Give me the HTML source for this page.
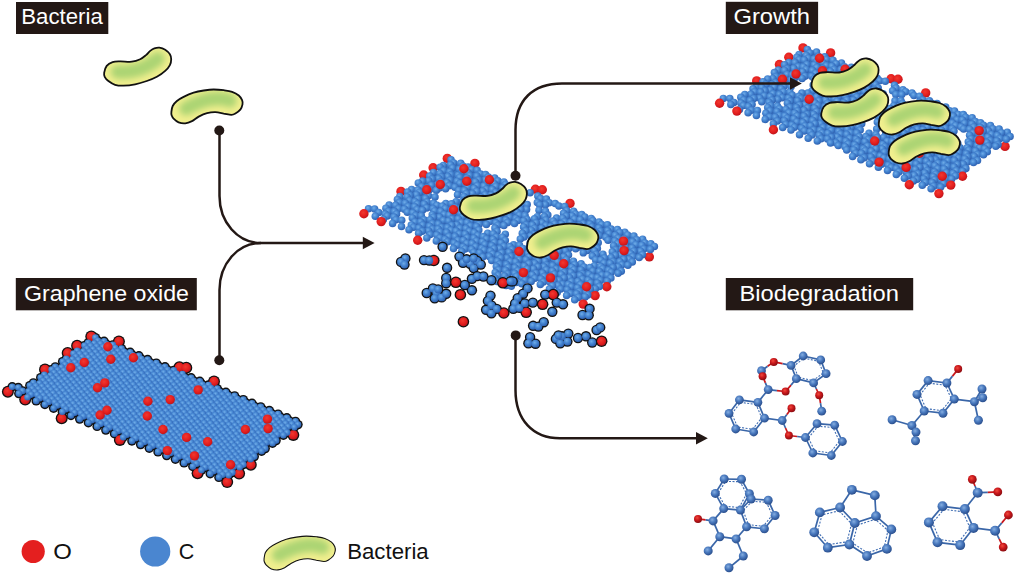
<!DOCTYPE html>
<html><head><meta charset="utf-8"><title>Graphene oxide biodegradation</title>
<style>html,body{margin:0;padding:0;background:#fff}svg{display:block}</style></head>
<body>
<svg width="1017" height="575" viewBox="0 0 1017 575" font-family="'Liberation Sans', sans-serif">

<defs>
<radialGradient id="gb" cx="0.40" cy="0.36" r="0.62">
<stop offset="0" stop-color="#70ade8"/><stop offset="0.5" stop-color="#4686d2"/><stop offset="1" stop-color="#3064b4"/>
</radialGradient>
<radialGradient id="gr" cx="0.42" cy="0.38" r="0.62">
<stop offset="0" stop-color="#f0392f"/><stop offset="0.6" stop-color="#e41f1f"/><stop offset="1" stop-color="#c0151a"/>
</radialGradient>
<radialGradient id="gm" cx="0.40" cy="0.36" r="0.62">
<stop offset="0" stop-color="#86aee0"/><stop offset="0.5" stop-color="#4a7abf"/><stop offset="1" stop-color="#2c5190"/>
</radialGradient>
<radialGradient id="gy" cx="0.5" cy="0.38" r="0.62" fx="0.5" fy="0.3">
<stop offset="0" stop-color="#a9d36d"/><stop offset="0.45" stop-color="#c6df78"/><stop offset="1" stop-color="#f2ee8c"/>
</radialGradient>
<radialGradient id="gr2" cx="0.40" cy="0.36" r="0.62">
<stop offset="0" stop-color="#f04a3c"/><stop offset="0.5" stop-color="#cb181c"/><stop offset="1" stop-color="#8e0e12"/>
</radialGradient>
</defs>

<rect width="1017" height="575" fill="#fff"/>
<rect x="16" y="2" width="92.3" height="32" fill="#231815"/>
<text x="21.3" y="24.3" font-size="21.5" fill="#fff" textLength="81.5" lengthAdjust="spacingAndGlyphs">Bacteria</text>
<rect x="15.8" y="278" width="181" height="32.3" fill="#231815"/>
<text x="24" y="300.5" font-size="21.5" fill="#fff" textLength="165" lengthAdjust="spacingAndGlyphs">Graphene oxide</text>
<rect x="725.8" y="1.8" width="92.3" height="32.2" fill="#231815"/>
<text x="733.5" y="24.3" font-size="21.5" fill="#fff" textLength="76.5" lengthAdjust="spacingAndGlyphs">Growth</text>
<rect x="725.8" y="278" width="187.4" height="32.3" fill="#231815"/>
<text x="739.4" y="300.5" font-size="21.5" fill="#fff" textLength="159.6" lengthAdjust="spacingAndGlyphs">Biodegradation</text>
<g><circle cx="95.4" cy="337.6" r="4.7" fill="#111"/><circle cx="97.9" cy="340.8" r="4.7" fill="#111"/><circle cx="104.1" cy="341.2" r="4.7" fill="#111"/><circle cx="88.1" cy="342.9" r="4.7" fill="#111"/><circle cx="94.3" cy="343.4" r="4.7" fill="#111"/><circle cx="106.6" cy="344.4" r="4.7" fill="#111"/><circle cx="112.8" cy="344.9" r="4.7" fill="#111"/><circle cx="84.5" cy="345.6" r="4.7" fill="#111"/><circle cx="96.8" cy="346.6" r="4.7" fill="#111"/><circle cx="103" cy="347.1" r="4.7" fill="#111"/><circle cx="115.3" cy="348" r="4.7" fill="#111"/><circle cx="121.5" cy="348.5" r="4.7" fill="#111"/><circle cx="87" cy="348.8" r="4.7" fill="#111"/><circle cx="93.2" cy="349.2" r="4.7" fill="#111"/><circle cx="105.5" cy="350.2" r="4.7" fill="#111"/><circle cx="111.7" cy="350.7" r="4.7" fill="#111"/><circle cx="77.2" cy="350.9" r="4.7" fill="#111"/><circle cx="83.3" cy="351.4" r="4.7" fill="#111"/><circle cx="124" cy="351.7" r="4.7" fill="#111"/><circle cx="130.2" cy="352.2" r="4.7" fill="#111"/><circle cx="95.7" cy="352.4" r="4.7" fill="#111"/><circle cx="101.9" cy="352.9" r="4.7" fill="#111"/><circle cx="73.5" cy="353.6" r="4.7" fill="#111"/><circle cx="114.2" cy="353.9" r="4.7" fill="#111"/><circle cx="120.4" cy="354.4" r="4.7" fill="#111"/><circle cx="85.9" cy="354.6" r="4.7" fill="#111"/><circle cx="92" cy="355.1" r="4.7" fill="#111"/><circle cx="132.7" cy="355.3" r="4.7" fill="#111"/><circle cx="138.9" cy="355.8" r="4.7" fill="#111"/><circle cx="104.4" cy="356" r="4.7" fill="#111"/><circle cx="110.6" cy="356.5" r="4.7" fill="#111"/><circle cx="76" cy="356.8" r="4.7" fill="#111"/><circle cx="82.2" cy="357.2" r="4.7" fill="#111"/><circle cx="122.9" cy="357.5" r="4.7" fill="#111"/><circle cx="129.1" cy="358" r="4.7" fill="#111"/><circle cx="94.6" cy="358.2" r="4.7" fill="#111"/><circle cx="100.7" cy="358.7" r="4.7" fill="#111"/><circle cx="66.2" cy="358.9" r="4.7" fill="#111"/><circle cx="141.4" cy="359" r="4.7" fill="#111"/><circle cx="72.4" cy="359.4" r="4.7" fill="#111"/><circle cx="147.6" cy="359.5" r="4.7" fill="#111"/><circle cx="113.1" cy="359.7" r="4.7" fill="#111"/><circle cx="119.3" cy="360.2" r="4.7" fill="#111"/><circle cx="84.7" cy="360.4" r="4.7" fill="#111"/><circle cx="90.9" cy="360.9" r="4.7" fill="#111"/><circle cx="131.6" cy="361.2" r="4.7" fill="#111"/><circle cx="62.6" cy="361.6" r="4.7" fill="#111"/><circle cx="137.8" cy="361.6" r="4.7" fill="#111"/><circle cx="103.3" cy="361.9" r="4.7" fill="#111"/><circle cx="109.4" cy="362.4" r="4.7" fill="#111"/><circle cx="74.9" cy="362.6" r="4.7" fill="#111"/><circle cx="150.1" cy="362.6" r="4.7" fill="#111"/><circle cx="81.1" cy="363.1" r="4.7" fill="#111"/><circle cx="156.3" cy="363.1" r="4.7" fill="#111"/><circle cx="121.8" cy="363.3" r="4.7" fill="#111"/><circle cx="128" cy="363.8" r="4.7" fill="#111"/><circle cx="93.4" cy="364" r="4.7" fill="#111"/><circle cx="99.6" cy="364.5" r="4.7" fill="#111"/><circle cx="65.1" cy="364.8" r="4.7" fill="#111"/><circle cx="140.3" cy="364.8" r="4.7" fill="#111"/><circle cx="71.3" cy="365.2" r="4.7" fill="#111"/><circle cx="146.5" cy="365.3" r="4.7" fill="#111"/><circle cx="112" cy="365.5" r="4.7" fill="#111"/><circle cx="118.1" cy="366" r="4.7" fill="#111"/><circle cx="83.6" cy="366.2" r="4.7" fill="#111"/><circle cx="158.8" cy="366.3" r="4.7" fill="#111"/><circle cx="89.8" cy="366.7" r="4.7" fill="#111"/><circle cx="165" cy="366.8" r="4.7" fill="#111"/><circle cx="55.3" cy="366.9" r="4.7" fill="#111"/><circle cx="130.5" cy="367" r="4.7" fill="#111"/><circle cx="61.5" cy="367.4" r="4.7" fill="#111"/><circle cx="136.7" cy="367.5" r="4.7" fill="#111"/><circle cx="102.1" cy="367.7" r="4.7" fill="#111"/><circle cx="108.3" cy="368.2" r="4.7" fill="#111"/><circle cx="73.8" cy="368.4" r="4.7" fill="#111"/><circle cx="149" cy="368.4" r="4.7" fill="#111"/><circle cx="80" cy="368.9" r="4.7" fill="#111"/><circle cx="155.2" cy="368.9" r="4.7" fill="#111"/><circle cx="120.7" cy="369.2" r="4.7" fill="#111"/><circle cx="51.6" cy="369.6" r="4.7" fill="#111"/><circle cx="126.8" cy="369.6" r="4.7" fill="#111"/><circle cx="92.3" cy="369.9" r="4.7" fill="#111"/><circle cx="167.5" cy="369.9" r="4.7" fill="#111"/><circle cx="98.5" cy="370.4" r="4.7" fill="#111"/><circle cx="173.7" cy="370.4" r="4.7" fill="#111"/><circle cx="64" cy="370.6" r="4.7" fill="#111"/><circle cx="139.2" cy="370.6" r="4.7" fill="#111"/><circle cx="70.2" cy="371.1" r="4.7" fill="#111"/><circle cx="145.4" cy="371.1" r="4.7" fill="#111"/><circle cx="110.8" cy="371.3" r="4.7" fill="#111"/><circle cx="117" cy="371.8" r="4.7" fill="#111"/><circle cx="82.5" cy="372" r="4.7" fill="#111"/><circle cx="157.7" cy="372.1" r="4.7" fill="#111"/><circle cx="88.7" cy="372.5" r="4.7" fill="#111"/><circle cx="163.9" cy="372.6" r="4.7" fill="#111"/><circle cx="54.2" cy="372.8" r="4.7" fill="#111"/><circle cx="129.4" cy="372.8" r="4.7" fill="#111"/><circle cx="60.3" cy="373.2" r="4.7" fill="#111"/><circle cx="135.5" cy="373.3" r="4.7" fill="#111"/><circle cx="101" cy="373.5" r="4.7" fill="#111"/><circle cx="176.2" cy="373.6" r="4.7" fill="#111"/><circle cx="107.2" cy="374" r="4.7" fill="#111"/><circle cx="182.4" cy="374.1" r="4.7" fill="#111"/><circle cx="72.7" cy="374.2" r="4.7" fill="#111"/><circle cx="147.9" cy="374.3" r="4.7" fill="#111"/><circle cx="78.9" cy="374.7" r="4.7" fill="#111"/><circle cx="154.1" cy="374.8" r="4.7" fill="#111"/><circle cx="44.3" cy="374.9" r="4.7" fill="#111"/><circle cx="119.5" cy="375" r="4.7" fill="#111"/><circle cx="50.5" cy="375.4" r="4.7" fill="#111"/><circle cx="125.7" cy="375.5" r="4.7" fill="#111"/><circle cx="91.2" cy="375.7" r="4.7" fill="#111"/><circle cx="166.4" cy="375.7" r="4.7" fill="#111"/><circle cx="97.4" cy="376.2" r="4.7" fill="#111"/><circle cx="172.6" cy="376.2" r="4.7" fill="#111"/><circle cx="62.9" cy="376.4" r="4.7" fill="#111"/><circle cx="138.1" cy="376.4" r="4.7" fill="#111"/><circle cx="69" cy="376.9" r="4.7" fill="#111"/><circle cx="144.2" cy="376.9" r="4.7" fill="#111"/><circle cx="109.7" cy="377.2" r="4.7" fill="#111"/><circle cx="184.9" cy="377.2" r="4.7" fill="#111"/><circle cx="40.7" cy="377.6" r="4.7" fill="#111"/><circle cx="115.9" cy="377.6" r="4.7" fill="#111"/><circle cx="191.1" cy="377.7" r="4.7" fill="#111"/><circle cx="81.4" cy="377.9" r="4.7" fill="#111"/><circle cx="156.6" cy="377.9" r="4.7" fill="#111"/><circle cx="87.6" cy="378.4" r="4.7" fill="#111"/><circle cx="162.8" cy="378.4" r="4.7" fill="#111"/><circle cx="53" cy="378.6" r="4.7" fill="#111"/><circle cx="128.2" cy="378.6" r="4.7" fill="#111"/><circle cx="59.2" cy="379.1" r="4.7" fill="#111"/><circle cx="134.4" cy="379.1" r="4.7" fill="#111"/><circle cx="99.9" cy="379.3" r="4.7" fill="#111"/><circle cx="175.1" cy="379.4" r="4.7" fill="#111"/><circle cx="106.1" cy="379.8" r="4.7" fill="#111"/><circle cx="181.3" cy="379.9" r="4.7" fill="#111"/><circle cx="71.6" cy="380" r="4.7" fill="#111"/><circle cx="146.8" cy="380.1" r="4.7" fill="#111"/><circle cx="77.7" cy="380.5" r="4.7" fill="#111"/><circle cx="152.9" cy="380.6" r="4.7" fill="#111"/><circle cx="43.2" cy="380.8" r="4.7" fill="#111"/><circle cx="118.4" cy="380.8" r="4.7" fill="#111"/><circle cx="193.6" cy="380.9" r="4.7" fill="#111"/><circle cx="49.4" cy="381.2" r="4.7" fill="#111"/><circle cx="124.6" cy="381.3" r="4.7" fill="#111"/><circle cx="199.8" cy="381.3" r="4.7" fill="#111"/><circle cx="90.1" cy="381.5" r="4.7" fill="#111"/><circle cx="165.3" cy="381.6" r="4.7" fill="#111"/><circle cx="96.3" cy="382" r="4.7" fill="#111"/><circle cx="171.5" cy="382.1" r="4.7" fill="#111"/><circle cx="61.7" cy="382.2" r="4.7" fill="#111"/><circle cx="136.9" cy="382.3" r="4.7" fill="#111"/><circle cx="67.9" cy="382.7" r="4.7" fill="#111"/><circle cx="143.1" cy="382.8" r="4.7" fill="#111"/><circle cx="33.4" cy="382.9" r="4.7" fill="#111"/><circle cx="108.6" cy="383" r="4.7" fill="#111"/><circle cx="183.8" cy="383" r="4.7" fill="#111"/><circle cx="39.6" cy="383.4" r="4.7" fill="#111"/><circle cx="114.8" cy="383.5" r="4.7" fill="#111"/><circle cx="190" cy="383.5" r="4.7" fill="#111"/><circle cx="80.3" cy="383.7" r="4.7" fill="#111"/><circle cx="155.5" cy="383.7" r="4.7" fill="#111"/><circle cx="86.4" cy="384.2" r="4.7" fill="#111"/><circle cx="161.6" cy="384.2" r="4.7" fill="#111"/><circle cx="51.9" cy="384.4" r="4.7" fill="#111"/><circle cx="127.1" cy="384.4" r="4.7" fill="#111"/><circle cx="202.3" cy="384.5" r="4.7" fill="#111"/><circle cx="58.1" cy="384.9" r="4.7" fill="#111"/><circle cx="133.3" cy="384.9" r="4.7" fill="#111"/><circle cx="208.5" cy="385" r="4.7" fill="#111"/><circle cx="98.8" cy="385.2" r="4.7" fill="#111"/><circle cx="174" cy="385.2" r="4.7" fill="#111"/><circle cx="29.8" cy="385.6" r="4.7" fill="#111"/><circle cx="105" cy="385.6" r="4.7" fill="#111"/><circle cx="180.2" cy="385.7" r="4.7" fill="#111"/><circle cx="70.4" cy="385.9" r="4.7" fill="#111"/><circle cx="145.6" cy="385.9" r="4.7" fill="#111"/><circle cx="76.6" cy="386.4" r="4.7" fill="#111"/><circle cx="151.8" cy="386.4" r="4.7" fill="#111"/><circle cx="42.1" cy="386.6" r="4.7" fill="#111"/><circle cx="117.3" cy="386.6" r="4.7" fill="#111"/><circle cx="192.5" cy="386.7" r="4.7" fill="#111"/><circle cx="12.2" cy="386.8" r="4.7" fill="#111"/><circle cx="48.3" cy="387.1" r="4.7" fill="#111"/><circle cx="123.5" cy="387.1" r="4.7" fill="#111"/><circle cx="198.7" cy="387.2" r="4.7" fill="#111"/><circle cx="89" cy="387.3" r="4.7" fill="#111"/><circle cx="164.2" cy="387.4" r="4.7" fill="#111"/><circle cx="18.3" cy="387.5" r="4.7" fill="#111"/><circle cx="95.1" cy="387.8" r="4.7" fill="#111"/><circle cx="170.3" cy="387.9" r="4.7" fill="#111"/><circle cx="60.6" cy="388" r="4.7" fill="#111"/><circle cx="135.8" cy="388.1" r="4.7" fill="#111"/><circle cx="211" cy="388.1" r="4.7" fill="#111"/><circle cx="66.8" cy="388.5" r="4.7" fill="#111"/><circle cx="142" cy="388.6" r="4.7" fill="#111"/><circle cx="217.2" cy="388.6" r="4.7" fill="#111"/><circle cx="32.3" cy="388.8" r="4.7" fill="#111"/><circle cx="107.5" cy="388.8" r="4.7" fill="#111"/><circle cx="182.7" cy="388.9" r="4.7" fill="#111"/><circle cx="38.5" cy="389.2" r="4.7" fill="#111"/><circle cx="113.7" cy="389.3" r="4.7" fill="#111"/><circle cx="188.9" cy="389.3" r="4.7" fill="#111"/><circle cx="79.1" cy="389.5" r="4.7" fill="#111"/><circle cx="154.3" cy="389.6" r="4.7" fill="#111"/><circle cx="85.3" cy="390" r="4.7" fill="#111"/><circle cx="160.5" cy="390.1" r="4.7" fill="#111"/><circle cx="50.8" cy="390.2" r="4.7" fill="#111"/><circle cx="126" cy="390.3" r="4.7" fill="#111"/><circle cx="201.2" cy="390.3" r="4.7" fill="#111"/><circle cx="57" cy="390.7" r="4.7" fill="#111"/><circle cx="132.2" cy="390.8" r="4.7" fill="#111"/><circle cx="207.4" cy="390.8" r="4.7" fill="#111"/><circle cx="22.5" cy="390.9" r="4.7" fill="#111"/><circle cx="97.7" cy="391" r="4.7" fill="#111"/><circle cx="172.9" cy="391" r="4.7" fill="#111"/><circle cx="28.6" cy="391.4" r="4.7" fill="#111"/><circle cx="103.8" cy="391.5" r="4.7" fill="#111"/><circle cx="179" cy="391.5" r="4.7" fill="#111"/><circle cx="69.3" cy="391.7" r="4.7" fill="#111"/><circle cx="144.5" cy="391.7" r="4.7" fill="#111"/><circle cx="219.7" cy="391.8" r="4.7" fill="#111"/><circle cx="75.5" cy="392.2" r="4.7" fill="#111"/><circle cx="150.7" cy="392.2" r="4.7" fill="#111"/><circle cx="225.9" cy="392.3" r="4.7" fill="#111"/><circle cx="41" cy="392.4" r="4.7" fill="#111"/><circle cx="116.2" cy="392.4" r="4.7" fill="#111"/><circle cx="191.4" cy="392.5" r="4.7" fill="#111"/><circle cx="47.2" cy="392.9" r="4.7" fill="#111"/><circle cx="122.4" cy="392.9" r="4.7" fill="#111"/><circle cx="197.6" cy="393" r="4.7" fill="#111"/><circle cx="87.8" cy="393.2" r="4.7" fill="#111"/><circle cx="163" cy="393.2" r="4.7" fill="#111"/><circle cx="18.8" cy="393.6" r="4.7" fill="#111"/><circle cx="94" cy="393.6" r="4.7" fill="#111"/><circle cx="169.2" cy="393.7" r="4.7" fill="#111"/><circle cx="59.5" cy="393.9" r="4.7" fill="#111"/><circle cx="134.7" cy="393.9" r="4.7" fill="#111"/><circle cx="209.9" cy="394" r="4.7" fill="#111"/><circle cx="65.7" cy="394.4" r="4.7" fill="#111"/><circle cx="140.9" cy="394.4" r="4.7" fill="#111"/><circle cx="216.1" cy="394.5" r="4.7" fill="#111"/><circle cx="31.2" cy="394.6" r="4.7" fill="#111"/><circle cx="106.4" cy="394.6" r="4.7" fill="#111"/><circle cx="181.6" cy="394.7" r="4.7" fill="#111"/><circle cx="37.3" cy="395.1" r="4.7" fill="#111"/><circle cx="112.5" cy="395.1" r="4.7" fill="#111"/><circle cx="187.7" cy="395.2" r="4.7" fill="#111"/><circle cx="78" cy="395.3" r="4.7" fill="#111"/><circle cx="153.2" cy="395.4" r="4.7" fill="#111"/><circle cx="228.4" cy="395.4" r="4.7" fill="#111"/><circle cx="84.2" cy="395.8" r="4.7" fill="#111"/><circle cx="159.4" cy="395.9" r="4.7" fill="#111"/><circle cx="234.6" cy="395.9" r="4.7" fill="#111"/><circle cx="49.7" cy="396" r="4.7" fill="#111"/><circle cx="124.9" cy="396.1" r="4.7" fill="#111"/><circle cx="200.1" cy="396.1" r="4.7" fill="#111"/><circle cx="55.9" cy="396.5" r="4.7" fill="#111"/><circle cx="131.1" cy="396.6" r="4.7" fill="#111"/><circle cx="206.3" cy="396.6" r="4.7" fill="#111"/><circle cx="96.5" cy="396.8" r="4.7" fill="#111"/><circle cx="171.7" cy="396.9" r="4.7" fill="#111"/><circle cx="27.5" cy="397.2" r="4.7" fill="#111"/><circle cx="102.7" cy="397.3" r="4.7" fill="#111"/><circle cx="177.9" cy="397.3" r="4.7" fill="#111"/><circle cx="68.2" cy="397.5" r="4.7" fill="#111"/><circle cx="143.4" cy="397.6" r="4.7" fill="#111"/><circle cx="218.6" cy="397.6" r="4.7" fill="#111"/><circle cx="74.4" cy="398" r="4.7" fill="#111"/><circle cx="149.6" cy="398.1" r="4.7" fill="#111"/><circle cx="224.8" cy="398.1" r="4.7" fill="#111"/><circle cx="39.9" cy="398.2" r="4.7" fill="#111"/><circle cx="115.1" cy="398.3" r="4.7" fill="#111"/><circle cx="190.3" cy="398.3" r="4.7" fill="#111"/><circle cx="46" cy="398.7" r="4.7" fill="#111"/><circle cx="121.2" cy="398.8" r="4.7" fill="#111"/><circle cx="196.4" cy="398.8" r="4.7" fill="#111"/><circle cx="86.7" cy="399" r="4.7" fill="#111"/><circle cx="161.9" cy="399" r="4.7" fill="#111"/><circle cx="237.1" cy="399.1" r="4.7" fill="#111"/><circle cx="92.9" cy="399.5" r="4.7" fill="#111"/><circle cx="168.1" cy="399.5" r="4.7" fill="#111"/><circle cx="243.3" cy="399.6" r="4.7" fill="#111"/><circle cx="58.4" cy="399.7" r="4.7" fill="#111"/><circle cx="133.6" cy="399.7" r="4.7" fill="#111"/><circle cx="208.8" cy="399.8" r="4.7" fill="#111"/><circle cx="64.6" cy="400.2" r="4.7" fill="#111"/><circle cx="139.8" cy="400.2" r="4.7" fill="#111"/><circle cx="215" cy="400.3" r="4.7" fill="#111"/><circle cx="105.2" cy="400.4" r="4.7" fill="#111"/><circle cx="180.4" cy="400.5" r="4.7" fill="#111"/><circle cx="36.2" cy="400.9" r="4.7" fill="#111"/><circle cx="111.4" cy="400.9" r="4.7" fill="#111"/><circle cx="186.6" cy="401" r="4.7" fill="#111"/><circle cx="76.9" cy="401.2" r="4.7" fill="#111"/><circle cx="152.1" cy="401.2" r="4.7" fill="#111"/><circle cx="227.3" cy="401.3" r="4.7" fill="#111"/><circle cx="83.1" cy="401.6" r="4.7" fill="#111"/><circle cx="158.3" cy="401.7" r="4.7" fill="#111"/><circle cx="233.5" cy="401.7" r="4.7" fill="#111"/><circle cx="48.6" cy="401.9" r="4.7" fill="#111"/><circle cx="123.8" cy="401.9" r="4.7" fill="#111"/><circle cx="199" cy="402" r="4.7" fill="#111"/><circle cx="54.7" cy="402.4" r="4.7" fill="#111"/><circle cx="129.9" cy="402.4" r="4.7" fill="#111"/><circle cx="205.1" cy="402.5" r="4.7" fill="#111"/><circle cx="95.4" cy="402.6" r="4.7" fill="#111"/><circle cx="170.6" cy="402.7" r="4.7" fill="#111"/><circle cx="245.8" cy="402.7" r="4.7" fill="#111"/><circle cx="101.6" cy="403.1" r="4.7" fill="#111"/><circle cx="176.8" cy="403.2" r="4.7" fill="#111"/><circle cx="252" cy="403.2" r="4.7" fill="#111"/><circle cx="67.1" cy="403.3" r="4.7" fill="#111"/><circle cx="142.3" cy="403.4" r="4.7" fill="#111"/><circle cx="217.5" cy="403.4" r="4.7" fill="#111"/><circle cx="73.3" cy="403.8" r="4.7" fill="#111"/><circle cx="148.5" cy="403.9" r="4.7" fill="#111"/><circle cx="223.7" cy="403.9" r="4.7" fill="#111"/><circle cx="113.9" cy="404.1" r="4.7" fill="#111"/><circle cx="189.1" cy="404.1" r="4.7" fill="#111"/><circle cx="44.9" cy="404.5" r="4.7" fill="#111"/><circle cx="120.1" cy="404.6" r="4.7" fill="#111"/><circle cx="195.3" cy="404.6" r="4.7" fill="#111"/><circle cx="85.6" cy="404.8" r="4.7" fill="#111"/><circle cx="160.8" cy="404.9" r="4.7" fill="#111"/><circle cx="236" cy="404.9" r="4.7" fill="#111"/><circle cx="91.8" cy="405.3" r="4.7" fill="#111"/><circle cx="167" cy="405.3" r="4.7" fill="#111"/><circle cx="242.2" cy="405.4" r="4.7" fill="#111"/><circle cx="57.3" cy="405.5" r="4.7" fill="#111"/><circle cx="132.5" cy="405.6" r="4.7" fill="#111"/><circle cx="207.7" cy="405.6" r="4.7" fill="#111"/><circle cx="63.4" cy="406" r="4.7" fill="#111"/><circle cx="138.6" cy="406.1" r="4.7" fill="#111"/><circle cx="213.8" cy="406.1" r="4.7" fill="#111"/><circle cx="104.1" cy="406.3" r="4.7" fill="#111"/><circle cx="179.3" cy="406.3" r="4.7" fill="#111"/><circle cx="254.5" cy="406.4" r="4.7" fill="#111"/><circle cx="110.3" cy="406.8" r="4.7" fill="#111"/><circle cx="185.5" cy="406.8" r="4.7" fill="#111"/><circle cx="260.7" cy="406.9" r="4.7" fill="#111"/><circle cx="75.8" cy="407" r="4.7" fill="#111"/><circle cx="151" cy="407" r="4.7" fill="#111"/><circle cx="226.2" cy="407.1" r="4.7" fill="#111"/><circle cx="82" cy="407.5" r="4.7" fill="#111"/><circle cx="157.2" cy="407.5" r="4.7" fill="#111"/><circle cx="232.4" cy="407.6" r="4.7" fill="#111"/><circle cx="122.6" cy="407.7" r="4.7" fill="#111"/><circle cx="197.8" cy="407.8" r="4.7" fill="#111"/><circle cx="53.6" cy="408.2" r="4.7" fill="#111"/><circle cx="128.8" cy="408.2" r="4.7" fill="#111"/><circle cx="204" cy="408.3" r="4.7" fill="#111"/><circle cx="94.3" cy="408.4" r="4.7" fill="#111"/><circle cx="169.5" cy="408.5" r="4.7" fill="#111"/><circle cx="244.7" cy="408.5" r="4.7" fill="#111"/><circle cx="100.5" cy="408.9" r="4.7" fill="#111"/><circle cx="175.7" cy="409" r="4.7" fill="#111"/><circle cx="250.9" cy="409" r="4.7" fill="#111"/><circle cx="66" cy="409.2" r="4.7" fill="#111"/><circle cx="141.2" cy="409.2" r="4.7" fill="#111"/><circle cx="216.4" cy="409.3" r="4.7" fill="#111"/><circle cx="72.1" cy="409.6" r="4.7" fill="#111"/><circle cx="147.3" cy="409.7" r="4.7" fill="#111"/><circle cx="222.5" cy="409.7" r="4.7" fill="#111"/><circle cx="112.8" cy="409.9" r="4.7" fill="#111"/><circle cx="188" cy="410" r="4.7" fill="#111"/><circle cx="263.2" cy="410" r="4.7" fill="#111"/><circle cx="119" cy="410.4" r="4.7" fill="#111"/><circle cx="194.2" cy="410.5" r="4.7" fill="#111"/><circle cx="269.4" cy="410.5" r="4.7" fill="#111"/><circle cx="84.5" cy="410.6" r="4.7" fill="#111"/><circle cx="159.7" cy="410.7" r="4.7" fill="#111"/><circle cx="234.9" cy="410.7" r="4.7" fill="#111"/><circle cx="90.7" cy="411.1" r="4.7" fill="#111"/><circle cx="165.9" cy="411.2" r="4.7" fill="#111"/><circle cx="241.1" cy="411.2" r="4.7" fill="#111"/><circle cx="131.3" cy="411.4" r="4.7" fill="#111"/><circle cx="206.5" cy="411.4" r="4.7" fill="#111"/><circle cx="62.3" cy="411.8" r="4.7" fill="#111"/><circle cx="137.5" cy="411.9" r="4.7" fill="#111"/><circle cx="212.7" cy="411.9" r="4.7" fill="#111"/><circle cx="103" cy="412.1" r="4.7" fill="#111"/><circle cx="178.2" cy="412.1" r="4.7" fill="#111"/><circle cx="253.4" cy="412.2" r="4.7" fill="#111"/><circle cx="109.2" cy="412.6" r="4.7" fill="#111"/><circle cx="184.4" cy="412.6" r="4.7" fill="#111"/><circle cx="259.6" cy="412.7" r="4.7" fill="#111"/><circle cx="74.7" cy="412.8" r="4.7" fill="#111"/><circle cx="149.9" cy="412.9" r="4.7" fill="#111"/><circle cx="225.1" cy="412.9" r="4.7" fill="#111"/><circle cx="80.8" cy="413.3" r="4.7" fill="#111"/><circle cx="156" cy="413.3" r="4.7" fill="#111"/><circle cx="231.2" cy="413.4" r="4.7" fill="#111"/><circle cx="121.5" cy="413.6" r="4.7" fill="#111"/><circle cx="196.7" cy="413.6" r="4.7" fill="#111"/><circle cx="271.9" cy="413.7" r="4.7" fill="#111"/><circle cx="127.7" cy="414.1" r="4.7" fill="#111"/><circle cx="202.9" cy="414.1" r="4.7" fill="#111"/><circle cx="278.1" cy="414.1" r="4.7" fill="#111"/><circle cx="93.2" cy="414.3" r="4.7" fill="#111"/><circle cx="168.4" cy="414.3" r="4.7" fill="#111"/><circle cx="243.6" cy="414.4" r="4.7" fill="#111"/><circle cx="99.4" cy="414.8" r="4.7" fill="#111"/><circle cx="174.6" cy="414.8" r="4.7" fill="#111"/><circle cx="249.8" cy="414.9" r="4.7" fill="#111"/><circle cx="140" cy="415" r="4.7" fill="#111"/><circle cx="215.2" cy="415.1" r="4.7" fill="#111"/><circle cx="71" cy="415.5" r="4.7" fill="#111"/><circle cx="146.2" cy="415.5" r="4.7" fill="#111"/><circle cx="221.4" cy="415.6" r="4.7" fill="#111"/><circle cx="111.7" cy="415.7" r="4.7" fill="#111"/><circle cx="186.9" cy="415.8" r="4.7" fill="#111"/><circle cx="262.1" cy="415.8" r="4.7" fill="#111"/><circle cx="117.9" cy="416.2" r="4.7" fill="#111"/><circle cx="193.1" cy="416.3" r="4.7" fill="#111"/><circle cx="268.3" cy="416.3" r="4.7" fill="#111"/><circle cx="83.4" cy="416.4" r="4.7" fill="#111"/><circle cx="158.6" cy="416.5" r="4.7" fill="#111"/><circle cx="233.8" cy="416.5" r="4.7" fill="#111"/><circle cx="89.5" cy="416.9" r="4.7" fill="#111"/><circle cx="164.7" cy="417" r="4.7" fill="#111"/><circle cx="239.9" cy="417" r="4.7" fill="#111"/><circle cx="130.2" cy="417.2" r="4.7" fill="#111"/><circle cx="205.4" cy="417.3" r="4.7" fill="#111"/><circle cx="280.6" cy="417.3" r="4.7" fill="#111"/><circle cx="136.4" cy="417.7" r="4.7" fill="#111"/><circle cx="211.6" cy="417.7" r="4.7" fill="#111"/><circle cx="286.8" cy="417.8" r="4.7" fill="#111"/><circle cx="101.9" cy="417.9" r="4.7" fill="#111"/><circle cx="177.1" cy="418" r="4.7" fill="#111"/><circle cx="252.3" cy="418" r="4.7" fill="#111"/><circle cx="108.1" cy="418.4" r="4.7" fill="#111"/><circle cx="183.3" cy="418.5" r="4.7" fill="#111"/><circle cx="258.5" cy="418.5" r="4.7" fill="#111"/><circle cx="148.7" cy="418.7" r="4.7" fill="#111"/><circle cx="223.9" cy="418.7" r="4.7" fill="#111"/><circle cx="79.7" cy="419.1" r="4.7" fill="#111"/><circle cx="154.9" cy="419.2" r="4.7" fill="#111"/><circle cx="230.1" cy="419.2" r="4.7" fill="#111"/><circle cx="120.4" cy="419.4" r="4.7" fill="#111"/><circle cx="195.6" cy="419.4" r="4.7" fill="#111"/><circle cx="270.8" cy="419.5" r="4.7" fill="#111"/><circle cx="126.6" cy="419.9" r="4.7" fill="#111"/><circle cx="201.8" cy="419.9" r="4.7" fill="#111"/><circle cx="277" cy="420" r="4.7" fill="#111"/><circle cx="92.1" cy="420.1" r="4.7" fill="#111"/><circle cx="167.3" cy="420.1" r="4.7" fill="#111"/><circle cx="242.5" cy="420.2" r="4.7" fill="#111"/><circle cx="98.2" cy="420.6" r="4.7" fill="#111"/><circle cx="173.4" cy="420.6" r="4.7" fill="#111"/><circle cx="248.6" cy="420.7" r="4.7" fill="#111"/><circle cx="138.9" cy="420.9" r="4.7" fill="#111"/><circle cx="214.1" cy="420.9" r="4.7" fill="#111"/><circle cx="289.3" cy="420.9" r="4.7" fill="#111"/><circle cx="145.1" cy="421.3" r="4.7" fill="#111"/><circle cx="220.3" cy="421.4" r="4.7" fill="#111"/><circle cx="295.5" cy="421.4" r="4.7" fill="#111"/><circle cx="110.6" cy="421.6" r="4.7" fill="#111"/><circle cx="185.8" cy="421.6" r="4.7" fill="#111"/><circle cx="261" cy="421.7" r="4.7" fill="#111"/><circle cx="116.8" cy="422.1" r="4.7" fill="#111"/><circle cx="192" cy="422.1" r="4.7" fill="#111"/><circle cx="267.2" cy="422.1" r="4.7" fill="#111"/><circle cx="157.4" cy="422.3" r="4.7" fill="#111"/><circle cx="232.6" cy="422.4" r="4.7" fill="#111"/><circle cx="88.4" cy="422.8" r="4.7" fill="#111"/><circle cx="163.6" cy="422.8" r="4.7" fill="#111"/><circle cx="238.8" cy="422.9" r="4.7" fill="#111"/><circle cx="129.1" cy="423" r="4.7" fill="#111"/><circle cx="204.3" cy="423.1" r="4.7" fill="#111"/><circle cx="279.5" cy="423.1" r="4.7" fill="#111"/><circle cx="135.3" cy="423.5" r="4.7" fill="#111"/><circle cx="210.5" cy="423.6" r="4.7" fill="#111"/><circle cx="285.7" cy="423.6" r="4.7" fill="#111"/><circle cx="100.8" cy="423.7" r="4.7" fill="#111"/><circle cx="176" cy="423.8" r="4.7" fill="#111"/><circle cx="251.2" cy="423.8" r="4.7" fill="#111"/><circle cx="106.9" cy="424.2" r="4.7" fill="#111"/><circle cx="182.1" cy="424.3" r="4.7" fill="#111"/><circle cx="257.3" cy="424.3" r="4.7" fill="#111"/><circle cx="147.6" cy="424.5" r="4.7" fill="#111"/><circle cx="222.8" cy="424.5" r="4.7" fill="#111"/><circle cx="298" cy="424.6" r="4.7" fill="#111"/><circle cx="153.8" cy="425" r="4.7" fill="#111"/><circle cx="229" cy="425" r="4.7" fill="#111"/><circle cx="119.3" cy="425.2" r="4.7" fill="#111"/><circle cx="194.5" cy="425.3" r="4.7" fill="#111"/><circle cx="269.7" cy="425.3" r="4.7" fill="#111"/><circle cx="125.5" cy="425.7" r="4.7" fill="#111"/><circle cx="200.7" cy="425.7" r="4.7" fill="#111"/><circle cx="275.9" cy="425.8" r="4.7" fill="#111"/><circle cx="166.1" cy="426" r="4.7" fill="#111"/><circle cx="241.3" cy="426" r="4.7" fill="#111"/><circle cx="97.1" cy="426.4" r="4.7" fill="#111"/><circle cx="172.3" cy="426.5" r="4.7" fill="#111"/><circle cx="247.5" cy="426.5" r="4.7" fill="#111"/><circle cx="137.8" cy="426.7" r="4.7" fill="#111"/><circle cx="213" cy="426.7" r="4.7" fill="#111"/><circle cx="288.2" cy="426.8" r="4.7" fill="#111"/><circle cx="144" cy="427.2" r="4.7" fill="#111"/><circle cx="219.2" cy="427.2" r="4.7" fill="#111"/><circle cx="294.4" cy="427.3" r="4.7" fill="#111"/><circle cx="109.5" cy="427.4" r="4.7" fill="#111"/><circle cx="184.7" cy="427.4" r="4.7" fill="#111"/><circle cx="259.9" cy="427.5" r="4.7" fill="#111"/><circle cx="115.6" cy="427.9" r="4.7" fill="#111"/><circle cx="190.8" cy="427.9" r="4.7" fill="#111"/><circle cx="266" cy="428" r="4.7" fill="#111"/><circle cx="156.3" cy="428.1" r="4.7" fill="#111"/><circle cx="231.5" cy="428.2" r="4.7" fill="#111"/><circle cx="162.5" cy="428.6" r="4.7" fill="#111"/><circle cx="237.7" cy="428.7" r="4.7" fill="#111"/><circle cx="128" cy="428.9" r="4.7" fill="#111"/><circle cx="203.2" cy="428.9" r="4.7" fill="#111"/><circle cx="278.4" cy="428.9" r="4.7" fill="#111"/><circle cx="134.2" cy="429.3" r="4.7" fill="#111"/><circle cx="209.4" cy="429.4" r="4.7" fill="#111"/><circle cx="284.6" cy="429.4" r="4.7" fill="#111"/><circle cx="174.8" cy="429.6" r="4.7" fill="#111"/><circle cx="250" cy="429.7" r="4.7" fill="#111"/><circle cx="105.8" cy="430.1" r="4.7" fill="#111"/><circle cx="181" cy="430.1" r="4.7" fill="#111"/><circle cx="256.2" cy="430.1" r="4.7" fill="#111"/><circle cx="146.5" cy="430.3" r="4.7" fill="#111"/><circle cx="221.7" cy="430.4" r="4.7" fill="#111"/><circle cx="152.7" cy="430.8" r="4.7" fill="#111"/><circle cx="227.9" cy="430.9" r="4.7" fill="#111"/><circle cx="118.2" cy="431" r="4.7" fill="#111"/><circle cx="193.4" cy="431.1" r="4.7" fill="#111"/><circle cx="268.6" cy="431.1" r="4.7" fill="#111"/><circle cx="124.3" cy="431.5" r="4.7" fill="#111"/><circle cx="199.5" cy="431.6" r="4.7" fill="#111"/><circle cx="274.7" cy="431.6" r="4.7" fill="#111"/><circle cx="165" cy="431.8" r="4.7" fill="#111"/><circle cx="240.2" cy="431.8" r="4.7" fill="#111"/><circle cx="171.2" cy="432.3" r="4.7" fill="#111"/><circle cx="246.4" cy="432.3" r="4.7" fill="#111"/><circle cx="136.7" cy="432.5" r="4.7" fill="#111"/><circle cx="211.9" cy="432.5" r="4.7" fill="#111"/><circle cx="287.1" cy="432.6" r="4.7" fill="#111"/><circle cx="142.9" cy="433" r="4.7" fill="#111"/><circle cx="218.1" cy="433" r="4.7" fill="#111"/><circle cx="183.5" cy="433.3" r="4.7" fill="#111"/><circle cx="258.7" cy="433.3" r="4.7" fill="#111"/><circle cx="114.5" cy="433.7" r="4.7" fill="#111"/><circle cx="189.7" cy="433.7" r="4.7" fill="#111"/><circle cx="264.9" cy="433.8" r="4.7" fill="#111"/><circle cx="155.2" cy="434" r="4.7" fill="#111"/><circle cx="230.4" cy="434" r="4.7" fill="#111"/><circle cx="161.4" cy="434.5" r="4.7" fill="#111"/><circle cx="236.6" cy="434.5" r="4.7" fill="#111"/><circle cx="126.9" cy="434.7" r="4.7" fill="#111"/><circle cx="202.1" cy="434.7" r="4.7" fill="#111"/><circle cx="277.3" cy="434.8" r="4.7" fill="#111"/><circle cx="133" cy="435.2" r="4.7" fill="#111"/><circle cx="208.2" cy="435.2" r="4.7" fill="#111"/><circle cx="283.4" cy="435.3" r="4.7" fill="#111"/><circle cx="173.7" cy="435.4" r="4.7" fill="#111"/><circle cx="248.9" cy="435.5" r="4.7" fill="#111"/><circle cx="179.9" cy="435.9" r="4.7" fill="#111"/><circle cx="255.1" cy="436" r="4.7" fill="#111"/><circle cx="145.4" cy="436.1" r="4.7" fill="#111"/><circle cx="220.6" cy="436.2" r="4.7" fill="#111"/><circle cx="151.6" cy="436.6" r="4.7" fill="#111"/><circle cx="226.8" cy="436.7" r="4.7" fill="#111"/><circle cx="192.2" cy="436.9" r="4.7" fill="#111"/><circle cx="267.4" cy="436.9" r="4.7" fill="#111"/><circle cx="123.2" cy="437.3" r="4.7" fill="#111"/><circle cx="198.4" cy="437.4" r="4.7" fill="#111"/><circle cx="273.6" cy="437.4" r="4.7" fill="#111"/><circle cx="163.9" cy="437.6" r="4.7" fill="#111"/><circle cx="239.1" cy="437.7" r="4.7" fill="#111"/><circle cx="170.1" cy="438.1" r="4.7" fill="#111"/><circle cx="245.3" cy="438.1" r="4.7" fill="#111"/><circle cx="135.6" cy="438.3" r="4.7" fill="#111"/><circle cx="210.8" cy="438.4" r="4.7" fill="#111"/><circle cx="141.7" cy="438.8" r="4.7" fill="#111"/><circle cx="216.9" cy="438.9" r="4.7" fill="#111"/><circle cx="182.4" cy="439.1" r="4.7" fill="#111"/><circle cx="257.6" cy="439.1" r="4.7" fill="#111"/><circle cx="188.6" cy="439.6" r="4.7" fill="#111"/><circle cx="263.8" cy="439.6" r="4.7" fill="#111"/><circle cx="154.1" cy="439.8" r="4.7" fill="#111"/><circle cx="229.3" cy="439.8" r="4.7" fill="#111"/><circle cx="160.3" cy="440.3" r="4.7" fill="#111"/><circle cx="235.5" cy="440.3" r="4.7" fill="#111"/><circle cx="200.9" cy="440.5" r="4.7" fill="#111"/><circle cx="276.1" cy="440.6" r="4.7" fill="#111"/><circle cx="131.9" cy="441" r="4.7" fill="#111"/><circle cx="207.1" cy="441" r="4.7" fill="#111"/><circle cx="172.6" cy="441.3" r="4.7" fill="#111"/><circle cx="247.8" cy="441.3" r="4.7" fill="#111"/><circle cx="178.8" cy="441.7" r="4.7" fill="#111"/><circle cx="254" cy="441.8" r="4.7" fill="#111"/><circle cx="144.3" cy="442" r="4.7" fill="#111"/><circle cx="219.5" cy="442" r="4.7" fill="#111"/><circle cx="150.4" cy="442.5" r="4.7" fill="#111"/><circle cx="225.6" cy="442.5" r="4.7" fill="#111"/><circle cx="191.1" cy="442.7" r="4.7" fill="#111"/><circle cx="266.3" cy="442.8" r="4.7" fill="#111"/><circle cx="197.3" cy="443.2" r="4.7" fill="#111"/><circle cx="272.5" cy="443.3" r="4.7" fill="#111"/><circle cx="162.8" cy="443.4" r="4.7" fill="#111"/><circle cx="238" cy="443.5" r="4.7" fill="#111"/><circle cx="169" cy="443.9" r="4.7" fill="#111"/><circle cx="244.2" cy="444" r="4.7" fill="#111"/><circle cx="209.6" cy="444.2" r="4.7" fill="#111"/><circle cx="140.6" cy="444.6" r="4.7" fill="#111"/><circle cx="215.8" cy="444.7" r="4.7" fill="#111"/><circle cx="181.3" cy="444.9" r="4.7" fill="#111"/><circle cx="256.5" cy="444.9" r="4.7" fill="#111"/><circle cx="187.5" cy="445.4" r="4.7" fill="#111"/><circle cx="262.7" cy="445.4" r="4.7" fill="#111"/><circle cx="153" cy="445.6" r="4.7" fill="#111"/><circle cx="228.2" cy="445.7" r="4.7" fill="#111"/><circle cx="159.1" cy="446.1" r="4.7" fill="#111"/><circle cx="234.3" cy="446.1" r="4.7" fill="#111"/><circle cx="199.8" cy="446.4" r="4.7" fill="#111"/><circle cx="206" cy="446.9" r="4.7" fill="#111"/><circle cx="171.5" cy="447.1" r="4.7" fill="#111"/><circle cx="246.7" cy="447.1" r="4.7" fill="#111"/><circle cx="177.7" cy="447.6" r="4.7" fill="#111"/><circle cx="252.9" cy="447.6" r="4.7" fill="#111"/><circle cx="218.3" cy="447.8" r="4.7" fill="#111"/><circle cx="149.3" cy="448.3" r="4.7" fill="#111"/><circle cx="224.5" cy="448.3" r="4.7" fill="#111"/><circle cx="190" cy="448.5" r="4.7" fill="#111"/><circle cx="265.2" cy="448.6" r="4.7" fill="#111"/><circle cx="196.2" cy="449" r="4.7" fill="#111"/><circle cx="161.7" cy="449.3" r="4.7" fill="#111"/><circle cx="236.9" cy="449.3" r="4.7" fill="#111"/><circle cx="167.8" cy="449.7" r="4.7" fill="#111"/><circle cx="243" cy="449.8" r="4.7" fill="#111"/><circle cx="208.5" cy="450" r="4.7" fill="#111"/><circle cx="214.7" cy="450.5" r="4.7" fill="#111"/><circle cx="180.2" cy="450.7" r="4.7" fill="#111"/><circle cx="255.4" cy="450.8" r="4.7" fill="#111"/><circle cx="186.4" cy="451.2" r="4.7" fill="#111"/><circle cx="261.6" cy="451.3" r="4.7" fill="#111"/><circle cx="227" cy="451.5" r="4.7" fill="#111"/><circle cx="158" cy="451.9" r="4.7" fill="#111"/><circle cx="233.2" cy="452" r="4.7" fill="#111"/><circle cx="198.7" cy="452.2" r="4.7" fill="#111"/><circle cx="204.9" cy="452.7" r="4.7" fill="#111"/><circle cx="170.4" cy="452.9" r="4.7" fill="#111"/><circle cx="245.6" cy="452.9" r="4.7" fill="#111"/><circle cx="176.5" cy="453.4" r="4.7" fill="#111"/><circle cx="251.7" cy="453.4" r="4.7" fill="#111"/><circle cx="217.2" cy="453.7" r="4.7" fill="#111"/><circle cx="223.4" cy="454.1" r="4.7" fill="#111"/><circle cx="188.9" cy="454.4" r="4.7" fill="#111"/><circle cx="195.1" cy="454.9" r="4.7" fill="#111"/><circle cx="235.7" cy="455.1" r="4.7" fill="#111"/><circle cx="166.7" cy="455.6" r="4.7" fill="#111"/><circle cx="241.9" cy="455.6" r="4.7" fill="#111"/><circle cx="207.4" cy="455.8" r="4.7" fill="#111"/><circle cx="213.6" cy="456.3" r="4.7" fill="#111"/><circle cx="179.1" cy="456.5" r="4.7" fill="#111"/><circle cx="254.3" cy="456.6" r="4.7" fill="#111"/><circle cx="185.2" cy="457" r="4.7" fill="#111"/><circle cx="225.9" cy="457.3" r="4.7" fill="#111"/><circle cx="232.1" cy="457.8" r="4.7" fill="#111"/><circle cx="197.6" cy="458" r="4.7" fill="#111"/><circle cx="203.8" cy="458.5" r="4.7" fill="#111"/><circle cx="244.4" cy="458.8" r="4.7" fill="#111"/><circle cx="175.4" cy="459.2" r="4.7" fill="#111"/><circle cx="250.6" cy="459.3" r="4.7" fill="#111"/><circle cx="216.1" cy="459.5" r="4.7" fill="#111"/><circle cx="222.3" cy="460" r="4.7" fill="#111"/><circle cx="187.8" cy="460.2" r="4.7" fill="#111"/><circle cx="193.9" cy="460.7" r="4.7" fill="#111"/><circle cx="234.6" cy="460.9" r="4.7" fill="#111"/><circle cx="240.8" cy="461.4" r="4.7" fill="#111"/><circle cx="206.3" cy="461.7" r="4.7" fill="#111"/><circle cx="212.5" cy="462.1" r="4.7" fill="#111"/><circle cx="184.1" cy="462.9" r="4.7" fill="#111"/><circle cx="224.8" cy="463.1" r="4.7" fill="#111"/><circle cx="231" cy="463.6" r="4.7" fill="#111"/><circle cx="196.5" cy="463.8" r="4.7" fill="#111"/><circle cx="202.6" cy="464.3" r="4.7" fill="#111"/><circle cx="243.3" cy="464.6" r="4.7" fill="#111"/><circle cx="215" cy="465.3" r="4.7" fill="#111"/><circle cx="221.2" cy="465.8" r="4.7" fill="#111"/><circle cx="192.8" cy="466.5" r="4.7" fill="#111"/><circle cx="233.5" cy="466.8" r="4.7" fill="#111"/><circle cx="239.7" cy="467.3" r="4.7" fill="#111"/><circle cx="205.2" cy="467.5" r="4.7" fill="#111"/><circle cx="211.3" cy="468" r="4.7" fill="#111"/><circle cx="223.7" cy="468.9" r="4.7" fill="#111"/><circle cx="229.9" cy="469.4" r="4.7" fill="#111"/><circle cx="201.5" cy="470.1" r="4.7" fill="#111"/><circle cx="213.9" cy="471.1" r="4.7" fill="#111"/><circle cx="220" cy="471.6" r="4.7" fill="#111"/><circle cx="232.4" cy="472.6" r="4.7" fill="#111"/><circle cx="210.2" cy="473.8" r="4.7" fill="#111"/><circle cx="222.6" cy="474.8" r="4.7" fill="#111"/><circle cx="228.7" cy="475.3" r="4.7" fill="#111"/><circle cx="218.9" cy="477.4" r="4.7" fill="#111"/><circle cx="7.9" cy="391.7" r="6" fill="#111"/><circle cx="25.2" cy="399.6" r="6" fill="#111"/><circle cx="45" cy="369.4" r="6" fill="#111"/><circle cx="61.7" cy="418.2" r="6" fill="#111"/><circle cx="67.7" cy="353" r="6" fill="#111"/><circle cx="77.1" cy="345.8" r="6" fill="#111"/><circle cx="91.3" cy="336.4" r="6" fill="#111"/><circle cx="118.9" cy="341.4" r="6" fill="#111"/><circle cx="119.9" cy="439.9" r="6" fill="#111"/><circle cx="179.4" cy="367.2" r="6" fill="#111"/><circle cx="186.3" cy="367.8" r="6" fill="#111"/><circle cx="214" cy="381.4" r="6" fill="#111"/><circle cx="293.3" cy="434.9" r="6" fill="#111"/><circle cx="250.8" cy="464.7" r="6" fill="#111"/><circle cx="239.1" cy="473.6" r="6" fill="#111"/><circle cx="227.2" cy="482.1" r="6" fill="#111"/><circle cx="197.6" cy="473.2" r="6" fill="#111"/><circle cx="7.9" cy="391.7" r="4.7" fill="url(#gr)"/><circle cx="25.2" cy="399.6" r="4.7" fill="url(#gr)"/><circle cx="45" cy="369.4" r="4.7" fill="url(#gr)"/><circle cx="61.7" cy="418.2" r="4.7" fill="url(#gr)"/><circle cx="67.7" cy="353" r="4.7" fill="url(#gr)"/><circle cx="77.1" cy="345.8" r="4.7" fill="url(#gr)"/><circle cx="91.3" cy="336.4" r="4.7" fill="url(#gr)"/><circle cx="118.9" cy="341.4" r="4.7" fill="url(#gr)"/><circle cx="119.9" cy="439.9" r="4.7" fill="url(#gr)"/><circle cx="179.4" cy="367.2" r="4.7" fill="url(#gr)"/><circle cx="186.3" cy="367.8" r="4.7" fill="url(#gr)"/><circle cx="214" cy="381.4" r="4.7" fill="url(#gr)"/><circle cx="293.3" cy="434.9" r="4.7" fill="url(#gr)"/><circle cx="250.8" cy="464.7" r="4.7" fill="url(#gr)"/><circle cx="239.1" cy="473.6" r="4.7" fill="url(#gr)"/><circle cx="227.2" cy="482.1" r="4.7" fill="url(#gr)"/><circle cx="197.6" cy="473.2" r="4.7" fill="url(#gr)"/><circle cx="95.4" cy="337.6" r="3.3" fill="url(#gb)"/><circle cx="97.9" cy="340.8" r="3.3" fill="url(#gb)"/><circle cx="104.1" cy="341.2" r="3.3" fill="url(#gb)"/><circle cx="88.1" cy="342.9" r="3.3" fill="url(#gb)"/><circle cx="94.3" cy="343.4" r="3.3" fill="url(#gb)"/><circle cx="100.5" cy="343.9" r="3.3" fill="url(#gb)"/><circle cx="106.6" cy="344.4" r="3.3" fill="url(#gb)"/><circle cx="112.8" cy="344.9" r="3.3" fill="url(#gb)"/><circle cx="84.5" cy="345.6" r="3.3" fill="url(#gb)"/><circle cx="90.6" cy="346.1" r="3.3" fill="url(#gb)"/><circle cx="96.8" cy="346.6" r="3.3" fill="url(#gb)"/><circle cx="103" cy="347.1" r="3.3" fill="url(#gb)"/><circle cx="109.2" cy="347.6" r="3.3" fill="url(#gb)"/><circle cx="115.3" cy="348" r="3.3" fill="url(#gb)"/><circle cx="121.5" cy="348.5" r="3.3" fill="url(#gb)"/><circle cx="87" cy="348.8" r="3.3" fill="url(#gb)"/><circle cx="93.2" cy="349.2" r="3.3" fill="url(#gb)"/><circle cx="99.3" cy="349.7" r="3.3" fill="url(#gb)"/><circle cx="105.5" cy="350.2" r="3.3" fill="url(#gb)"/><circle cx="111.7" cy="350.7" r="3.3" fill="url(#gb)"/><circle cx="77.2" cy="350.9" r="3.3" fill="url(#gb)"/><circle cx="117.9" cy="351.2" r="3.3" fill="url(#gb)"/><circle cx="83.3" cy="351.4" r="3.3" fill="url(#gb)"/><circle cx="124" cy="351.7" r="3.3" fill="url(#gb)"/><circle cx="89.5" cy="351.9" r="3.3" fill="url(#gb)"/><circle cx="130.2" cy="352.2" r="3.3" fill="url(#gb)"/><circle cx="95.7" cy="352.4" r="3.3" fill="url(#gb)"/><circle cx="101.9" cy="352.9" r="3.3" fill="url(#gb)"/><circle cx="108" cy="353.4" r="3.3" fill="url(#gb)"/><circle cx="73.5" cy="353.6" r="3.3" fill="url(#gb)"/><circle cx="114.2" cy="353.9" r="3.3" fill="url(#gb)"/><circle cx="79.7" cy="354.1" r="3.3" fill="url(#gb)"/><circle cx="120.4" cy="354.4" r="3.3" fill="url(#gb)"/><circle cx="85.9" cy="354.6" r="3.3" fill="url(#gb)"/><circle cx="126.6" cy="354.8" r="3.3" fill="url(#gb)"/><circle cx="92" cy="355.1" r="3.3" fill="url(#gb)"/><circle cx="132.7" cy="355.3" r="3.3" fill="url(#gb)"/><circle cx="98.2" cy="355.6" r="3.3" fill="url(#gb)"/><circle cx="138.9" cy="355.8" r="3.3" fill="url(#gb)"/><circle cx="104.4" cy="356" r="3.3" fill="url(#gb)"/><circle cx="110.6" cy="356.5" r="3.3" fill="url(#gb)"/><circle cx="76" cy="356.8" r="3.3" fill="url(#gb)"/><circle cx="116.7" cy="357" r="3.3" fill="url(#gb)"/><circle cx="82.2" cy="357.2" r="3.3" fill="url(#gb)"/><circle cx="122.9" cy="357.5" r="3.3" fill="url(#gb)"/><circle cx="88.4" cy="357.7" r="3.3" fill="url(#gb)"/><circle cx="129.1" cy="358" r="3.3" fill="url(#gb)"/><circle cx="94.6" cy="358.2" r="3.3" fill="url(#gb)"/><circle cx="135.3" cy="358.5" r="3.3" fill="url(#gb)"/><circle cx="100.7" cy="358.7" r="3.3" fill="url(#gb)"/><circle cx="66.2" cy="358.9" r="3.3" fill="url(#gb)"/><circle cx="141.4" cy="359" r="3.3" fill="url(#gb)"/><circle cx="106.9" cy="359.2" r="3.3" fill="url(#gb)"/><circle cx="72.4" cy="359.4" r="3.3" fill="url(#gb)"/><circle cx="147.6" cy="359.5" r="3.3" fill="url(#gb)"/><circle cx="113.1" cy="359.7" r="3.3" fill="url(#gb)"/><circle cx="78.6" cy="359.9" r="3.3" fill="url(#gb)"/><circle cx="119.3" cy="360.2" r="3.3" fill="url(#gb)"/><circle cx="84.7" cy="360.4" r="3.3" fill="url(#gb)"/><circle cx="125.4" cy="360.7" r="3.3" fill="url(#gb)"/><circle cx="90.9" cy="360.9" r="3.3" fill="url(#gb)"/><circle cx="131.6" cy="361.2" r="3.3" fill="url(#gb)"/><circle cx="97.1" cy="361.4" r="3.3" fill="url(#gb)"/><circle cx="62.6" cy="361.6" r="3.3" fill="url(#gb)"/><circle cx="137.8" cy="361.6" r="3.3" fill="url(#gb)"/><circle cx="103.3" cy="361.9" r="3.3" fill="url(#gb)"/><circle cx="68.8" cy="362.1" r="3.3" fill="url(#gb)"/><circle cx="144" cy="362.1" r="3.3" fill="url(#gb)"/><circle cx="109.4" cy="362.4" r="3.3" fill="url(#gb)"/><circle cx="74.9" cy="362.6" r="3.3" fill="url(#gb)"/><circle cx="150.1" cy="362.6" r="3.3" fill="url(#gb)"/><circle cx="115.6" cy="362.8" r="3.3" fill="url(#gb)"/><circle cx="81.1" cy="363.1" r="3.3" fill="url(#gb)"/><circle cx="156.3" cy="363.1" r="3.3" fill="url(#gb)"/><circle cx="121.8" cy="363.3" r="3.3" fill="url(#gb)"/><circle cx="87.3" cy="363.6" r="3.3" fill="url(#gb)"/><circle cx="128" cy="363.8" r="3.3" fill="url(#gb)"/><circle cx="93.4" cy="364" r="3.3" fill="url(#gb)"/><circle cx="134.1" cy="364.3" r="3.3" fill="url(#gb)"/><circle cx="99.6" cy="364.5" r="3.3" fill="url(#gb)"/><circle cx="65.1" cy="364.8" r="3.3" fill="url(#gb)"/><circle cx="140.3" cy="364.8" r="3.3" fill="url(#gb)"/><circle cx="105.8" cy="365" r="3.3" fill="url(#gb)"/><circle cx="71.3" cy="365.2" r="3.3" fill="url(#gb)"/><circle cx="146.5" cy="365.3" r="3.3" fill="url(#gb)"/><circle cx="112" cy="365.5" r="3.3" fill="url(#gb)"/><circle cx="77.5" cy="365.7" r="3.3" fill="url(#gb)"/><circle cx="152.7" cy="365.8" r="3.3" fill="url(#gb)"/><circle cx="118.1" cy="366" r="3.3" fill="url(#gb)"/><circle cx="83.6" cy="366.2" r="3.3" fill="url(#gb)"/><circle cx="158.8" cy="366.3" r="3.3" fill="url(#gb)"/><circle cx="124.3" cy="366.5" r="3.3" fill="url(#gb)"/><circle cx="89.8" cy="366.7" r="3.3" fill="url(#gb)"/><circle cx="165" cy="366.8" r="3.3" fill="url(#gb)"/><circle cx="55.3" cy="366.9" r="3.3" fill="url(#gb)"/><circle cx="130.5" cy="367" r="3.3" fill="url(#gb)"/><circle cx="96" cy="367.2" r="3.3" fill="url(#gb)"/><circle cx="61.5" cy="367.4" r="3.3" fill="url(#gb)"/><circle cx="136.7" cy="367.5" r="3.3" fill="url(#gb)"/><circle cx="102.1" cy="367.7" r="3.3" fill="url(#gb)"/><circle cx="67.6" cy="367.9" r="3.3" fill="url(#gb)"/><circle cx="142.8" cy="368" r="3.3" fill="url(#gb)"/><circle cx="108.3" cy="368.2" r="3.3" fill="url(#gb)"/><circle cx="73.8" cy="368.4" r="3.3" fill="url(#gb)"/><circle cx="149" cy="368.4" r="3.3" fill="url(#gb)"/><circle cx="114.5" cy="368.7" r="3.3" fill="url(#gb)"/><circle cx="80" cy="368.9" r="3.3" fill="url(#gb)"/><circle cx="155.2" cy="368.9" r="3.3" fill="url(#gb)"/><circle cx="120.7" cy="369.2" r="3.3" fill="url(#gb)"/><circle cx="86.2" cy="369.4" r="3.3" fill="url(#gb)"/><circle cx="161.4" cy="369.4" r="3.3" fill="url(#gb)"/><circle cx="51.6" cy="369.6" r="3.3" fill="url(#gb)"/><circle cx="126.8" cy="369.6" r="3.3" fill="url(#gb)"/><circle cx="92.3" cy="369.9" r="3.3" fill="url(#gb)"/><circle cx="167.5" cy="369.9" r="3.3" fill="url(#gb)"/><circle cx="57.8" cy="370.1" r="3.3" fill="url(#gb)"/><circle cx="133" cy="370.1" r="3.3" fill="url(#gb)"/><circle cx="98.5" cy="370.4" r="3.3" fill="url(#gb)"/><circle cx="173.7" cy="370.4" r="3.3" fill="url(#gb)"/><circle cx="64" cy="370.6" r="3.3" fill="url(#gb)"/><circle cx="139.2" cy="370.6" r="3.3" fill="url(#gb)"/><circle cx="104.7" cy="370.8" r="3.3" fill="url(#gb)"/><circle cx="70.2" cy="371.1" r="3.3" fill="url(#gb)"/><circle cx="145.4" cy="371.1" r="3.3" fill="url(#gb)"/><circle cx="110.8" cy="371.3" r="3.3" fill="url(#gb)"/><circle cx="76.3" cy="371.6" r="3.3" fill="url(#gb)"/><circle cx="151.5" cy="371.6" r="3.3" fill="url(#gb)"/><circle cx="117" cy="371.8" r="3.3" fill="url(#gb)"/><circle cx="82.5" cy="372" r="3.3" fill="url(#gb)"/><circle cx="157.7" cy="372.1" r="3.3" fill="url(#gb)"/><circle cx="123.2" cy="372.3" r="3.3" fill="url(#gb)"/><circle cx="88.7" cy="372.5" r="3.3" fill="url(#gb)"/><circle cx="163.9" cy="372.6" r="3.3" fill="url(#gb)"/><circle cx="54.2" cy="372.8" r="3.3" fill="url(#gb)"/><circle cx="129.4" cy="372.8" r="3.3" fill="url(#gb)"/><circle cx="94.9" cy="373" r="3.3" fill="url(#gb)"/><circle cx="170.1" cy="373.1" r="3.3" fill="url(#gb)"/><circle cx="60.3" cy="373.2" r="3.3" fill="url(#gb)"/><circle cx="135.5" cy="373.3" r="3.3" fill="url(#gb)"/><circle cx="101" cy="373.5" r="3.3" fill="url(#gb)"/><circle cx="176.2" cy="373.6" r="3.3" fill="url(#gb)"/><circle cx="66.5" cy="373.7" r="3.3" fill="url(#gb)"/><circle cx="141.7" cy="373.8" r="3.3" fill="url(#gb)"/><circle cx="107.2" cy="374" r="3.3" fill="url(#gb)"/><circle cx="182.4" cy="374.1" r="3.3" fill="url(#gb)"/><circle cx="72.7" cy="374.2" r="3.3" fill="url(#gb)"/><circle cx="147.9" cy="374.3" r="3.3" fill="url(#gb)"/><circle cx="113.4" cy="374.5" r="3.3" fill="url(#gb)"/><circle cx="78.9" cy="374.7" r="3.3" fill="url(#gb)"/><circle cx="154.1" cy="374.8" r="3.3" fill="url(#gb)"/><circle cx="44.3" cy="374.9" r="3.3" fill="url(#gb)"/><circle cx="119.5" cy="375" r="3.3" fill="url(#gb)"/><circle cx="85" cy="375.2" r="3.3" fill="url(#gb)"/><circle cx="160.2" cy="375.2" r="3.3" fill="url(#gb)"/><circle cx="50.5" cy="375.4" r="3.3" fill="url(#gb)"/><circle cx="125.7" cy="375.5" r="3.3" fill="url(#gb)"/><circle cx="91.2" cy="375.7" r="3.3" fill="url(#gb)"/><circle cx="166.4" cy="375.7" r="3.3" fill="url(#gb)"/><circle cx="56.7" cy="375.9" r="3.3" fill="url(#gb)"/><circle cx="131.9" cy="376" r="3.3" fill="url(#gb)"/><circle cx="97.4" cy="376.2" r="3.3" fill="url(#gb)"/><circle cx="172.6" cy="376.2" r="3.3" fill="url(#gb)"/><circle cx="62.9" cy="376.4" r="3.3" fill="url(#gb)"/><circle cx="138.1" cy="376.4" r="3.3" fill="url(#gb)"/><circle cx="103.6" cy="376.7" r="3.3" fill="url(#gb)"/><circle cx="178.8" cy="376.7" r="3.3" fill="url(#gb)"/><circle cx="69" cy="376.9" r="3.3" fill="url(#gb)"/><circle cx="144.2" cy="376.9" r="3.3" fill="url(#gb)"/><circle cx="109.7" cy="377.2" r="3.3" fill="url(#gb)"/><circle cx="184.9" cy="377.2" r="3.3" fill="url(#gb)"/><circle cx="75.2" cy="377.4" r="3.3" fill="url(#gb)"/><circle cx="150.4" cy="377.4" r="3.3" fill="url(#gb)"/><circle cx="40.7" cy="377.6" r="3.3" fill="url(#gb)"/><circle cx="115.9" cy="377.6" r="3.3" fill="url(#gb)"/><circle cx="191.1" cy="377.7" r="3.3" fill="url(#gb)"/><circle cx="81.4" cy="377.9" r="3.3" fill="url(#gb)"/><circle cx="156.6" cy="377.9" r="3.3" fill="url(#gb)"/><circle cx="46.9" cy="378.1" r="3.3" fill="url(#gb)"/><circle cx="122.1" cy="378.1" r="3.3" fill="url(#gb)"/><circle cx="87.6" cy="378.4" r="3.3" fill="url(#gb)"/><circle cx="162.8" cy="378.4" r="3.3" fill="url(#gb)"/><circle cx="53" cy="378.6" r="3.3" fill="url(#gb)"/><circle cx="128.2" cy="378.6" r="3.3" fill="url(#gb)"/><circle cx="93.7" cy="378.8" r="3.3" fill="url(#gb)"/><circle cx="168.9" cy="378.9" r="3.3" fill="url(#gb)"/><circle cx="59.2" cy="379.1" r="3.3" fill="url(#gb)"/><circle cx="134.4" cy="379.1" r="3.3" fill="url(#gb)"/><circle cx="99.9" cy="379.3" r="3.3" fill="url(#gb)"/><circle cx="175.1" cy="379.4" r="3.3" fill="url(#gb)"/><circle cx="65.4" cy="379.6" r="3.3" fill="url(#gb)"/><circle cx="140.6" cy="379.6" r="3.3" fill="url(#gb)"/><circle cx="106.1" cy="379.8" r="3.3" fill="url(#gb)"/><circle cx="181.3" cy="379.9" r="3.3" fill="url(#gb)"/><circle cx="71.6" cy="380" r="3.3" fill="url(#gb)"/><circle cx="146.8" cy="380.1" r="3.3" fill="url(#gb)"/><circle cx="112.3" cy="380.3" r="3.3" fill="url(#gb)"/><circle cx="187.5" cy="380.4" r="3.3" fill="url(#gb)"/><circle cx="77.7" cy="380.5" r="3.3" fill="url(#gb)"/><circle cx="152.9" cy="380.6" r="3.3" fill="url(#gb)"/><circle cx="43.2" cy="380.8" r="3.3" fill="url(#gb)"/><circle cx="118.4" cy="380.8" r="3.3" fill="url(#gb)"/><circle cx="193.6" cy="380.9" r="3.3" fill="url(#gb)"/><circle cx="83.9" cy="381" r="3.3" fill="url(#gb)"/><circle cx="159.1" cy="381.1" r="3.3" fill="url(#gb)"/><circle cx="49.4" cy="381.2" r="3.3" fill="url(#gb)"/><circle cx="124.6" cy="381.3" r="3.3" fill="url(#gb)"/><circle cx="199.8" cy="381.3" r="3.3" fill="url(#gb)"/><circle cx="90.1" cy="381.5" r="3.3" fill="url(#gb)"/><circle cx="165.3" cy="381.6" r="3.3" fill="url(#gb)"/><circle cx="55.6" cy="381.7" r="3.3" fill="url(#gb)"/><circle cx="130.8" cy="381.8" r="3.3" fill="url(#gb)"/><circle cx="96.3" cy="382" r="3.3" fill="url(#gb)"/><circle cx="171.5" cy="382.1" r="3.3" fill="url(#gb)"/><circle cx="61.7" cy="382.2" r="3.3" fill="url(#gb)"/><circle cx="136.9" cy="382.3" r="3.3" fill="url(#gb)"/><circle cx="102.4" cy="382.5" r="3.3" fill="url(#gb)"/><circle cx="177.6" cy="382.5" r="3.3" fill="url(#gb)"/><circle cx="67.9" cy="382.7" r="3.3" fill="url(#gb)"/><circle cx="143.1" cy="382.8" r="3.3" fill="url(#gb)"/><circle cx="33.4" cy="382.9" r="3.3" fill="url(#gb)"/><circle cx="108.6" cy="383" r="3.3" fill="url(#gb)"/><circle cx="183.8" cy="383" r="3.3" fill="url(#gb)"/><circle cx="74.1" cy="383.2" r="3.3" fill="url(#gb)"/><circle cx="149.3" cy="383.2" r="3.3" fill="url(#gb)"/><circle cx="39.6" cy="383.4" r="3.3" fill="url(#gb)"/><circle cx="114.8" cy="383.5" r="3.3" fill="url(#gb)"/><circle cx="190" cy="383.5" r="3.3" fill="url(#gb)"/><circle cx="80.3" cy="383.7" r="3.3" fill="url(#gb)"/><circle cx="155.5" cy="383.7" r="3.3" fill="url(#gb)"/><circle cx="45.8" cy="383.9" r="3.3" fill="url(#gb)"/><circle cx="121" cy="384" r="3.3" fill="url(#gb)"/><circle cx="196.2" cy="384" r="3.3" fill="url(#gb)"/><circle cx="86.4" cy="384.2" r="3.3" fill="url(#gb)"/><circle cx="161.6" cy="384.2" r="3.3" fill="url(#gb)"/><circle cx="51.9" cy="384.4" r="3.3" fill="url(#gb)"/><circle cx="127.1" cy="384.4" r="3.3" fill="url(#gb)"/><circle cx="202.3" cy="384.5" r="3.3" fill="url(#gb)"/><circle cx="92.6" cy="384.7" r="3.3" fill="url(#gb)"/><circle cx="167.8" cy="384.7" r="3.3" fill="url(#gb)"/><circle cx="58.1" cy="384.9" r="3.3" fill="url(#gb)"/><circle cx="133.3" cy="384.9" r="3.3" fill="url(#gb)"/><circle cx="208.5" cy="385" r="3.3" fill="url(#gb)"/><circle cx="98.8" cy="385.2" r="3.3" fill="url(#gb)"/><circle cx="174" cy="385.2" r="3.3" fill="url(#gb)"/><circle cx="64.3" cy="385.4" r="3.3" fill="url(#gb)"/><circle cx="139.5" cy="385.4" r="3.3" fill="url(#gb)"/><circle cx="29.8" cy="385.6" r="3.3" fill="url(#gb)"/><circle cx="105" cy="385.6" r="3.3" fill="url(#gb)"/><circle cx="180.2" cy="385.7" r="3.3" fill="url(#gb)"/><circle cx="70.4" cy="385.9" r="3.3" fill="url(#gb)"/><circle cx="145.6" cy="385.9" r="3.3" fill="url(#gb)"/><circle cx="35.9" cy="386.1" r="3.3" fill="url(#gb)"/><circle cx="111.1" cy="386.1" r="3.3" fill="url(#gb)"/><circle cx="186.3" cy="386.2" r="3.3" fill="url(#gb)"/><circle cx="76.6" cy="386.4" r="3.3" fill="url(#gb)"/><circle cx="151.8" cy="386.4" r="3.3" fill="url(#gb)"/><circle cx="42.1" cy="386.6" r="3.3" fill="url(#gb)"/><circle cx="117.3" cy="386.6" r="3.3" fill="url(#gb)"/><circle cx="192.5" cy="386.7" r="3.3" fill="url(#gb)"/><circle cx="12.2" cy="386.8" r="3.3" fill="url(#gb)"/><circle cx="82.8" cy="386.8" r="3.3" fill="url(#gb)"/><circle cx="158" cy="386.9" r="3.3" fill="url(#gb)"/><circle cx="48.3" cy="387.1" r="3.3" fill="url(#gb)"/><circle cx="123.5" cy="387.1" r="3.3" fill="url(#gb)"/><circle cx="198.7" cy="387.2" r="3.3" fill="url(#gb)"/><circle cx="89" cy="387.3" r="3.3" fill="url(#gb)"/><circle cx="164.2" cy="387.4" r="3.3" fill="url(#gb)"/><circle cx="18.3" cy="387.5" r="3.3" fill="url(#gb)"/><circle cx="54.5" cy="387.6" r="3.3" fill="url(#gb)"/><circle cx="129.7" cy="387.6" r="3.3" fill="url(#gb)"/><circle cx="204.9" cy="387.7" r="3.3" fill="url(#gb)"/><circle cx="95.1" cy="387.8" r="3.3" fill="url(#gb)"/><circle cx="170.3" cy="387.9" r="3.3" fill="url(#gb)"/><circle cx="60.6" cy="388" r="3.3" fill="url(#gb)"/><circle cx="135.8" cy="388.1" r="3.3" fill="url(#gb)"/><circle cx="211" cy="388.1" r="3.3" fill="url(#gb)"/><circle cx="101.3" cy="388.3" r="3.3" fill="url(#gb)"/><circle cx="176.5" cy="388.4" r="3.3" fill="url(#gb)"/><circle cx="66.8" cy="388.5" r="3.3" fill="url(#gb)"/><circle cx="142" cy="388.6" r="3.3" fill="url(#gb)"/><circle cx="217.2" cy="388.6" r="3.3" fill="url(#gb)"/><circle cx="32.3" cy="388.8" r="3.3" fill="url(#gb)"/><circle cx="107.5" cy="388.8" r="3.3" fill="url(#gb)"/><circle cx="182.7" cy="388.9" r="3.3" fill="url(#gb)"/><circle cx="73" cy="389" r="3.3" fill="url(#gb)"/><circle cx="148.2" cy="389.1" r="3.3" fill="url(#gb)"/><circle cx="38.5" cy="389.2" r="3.3" fill="url(#gb)"/><circle cx="113.7" cy="389.3" r="3.3" fill="url(#gb)"/><circle cx="188.9" cy="389.3" r="3.3" fill="url(#gb)"/><circle cx="79.1" cy="389.5" r="3.3" fill="url(#gb)"/><circle cx="154.3" cy="389.6" r="3.3" fill="url(#gb)"/><circle cx="44.6" cy="389.7" r="3.3" fill="url(#gb)"/><circle cx="119.8" cy="389.8" r="3.3" fill="url(#gb)"/><circle cx="195" cy="389.8" r="3.3" fill="url(#gb)"/><circle cx="85.3" cy="390" r="3.3" fill="url(#gb)"/><circle cx="160.5" cy="390.1" r="3.3" fill="url(#gb)"/><circle cx="50.8" cy="390.2" r="3.3" fill="url(#gb)"/><circle cx="126" cy="390.3" r="3.3" fill="url(#gb)"/><circle cx="201.2" cy="390.3" r="3.3" fill="url(#gb)"/><circle cx="91.5" cy="390.5" r="3.3" fill="url(#gb)"/><circle cx="166.7" cy="390.5" r="3.3" fill="url(#gb)"/><circle cx="57" cy="390.7" r="3.3" fill="url(#gb)"/><circle cx="132.2" cy="390.8" r="3.3" fill="url(#gb)"/><circle cx="207.4" cy="390.8" r="3.3" fill="url(#gb)"/><circle cx="22.5" cy="390.9" r="3.3" fill="url(#gb)"/><circle cx="97.7" cy="391" r="3.3" fill="url(#gb)"/><circle cx="172.9" cy="391" r="3.3" fill="url(#gb)"/><circle cx="63.2" cy="391.2" r="3.3" fill="url(#gb)"/><circle cx="138.4" cy="391.2" r="3.3" fill="url(#gb)"/><circle cx="213.6" cy="391.3" r="3.3" fill="url(#gb)"/><circle cx="28.6" cy="391.4" r="3.3" fill="url(#gb)"/><circle cx="103.8" cy="391.5" r="3.3" fill="url(#gb)"/><circle cx="179" cy="391.5" r="3.3" fill="url(#gb)"/><circle cx="69.3" cy="391.7" r="3.3" fill="url(#gb)"/><circle cx="144.5" cy="391.7" r="3.3" fill="url(#gb)"/><circle cx="219.7" cy="391.8" r="3.3" fill="url(#gb)"/><circle cx="34.8" cy="391.9" r="3.3" fill="url(#gb)"/><circle cx="110" cy="392" r="3.3" fill="url(#gb)"/><circle cx="185.2" cy="392" r="3.3" fill="url(#gb)"/><circle cx="75.5" cy="392.2" r="3.3" fill="url(#gb)"/><circle cx="150.7" cy="392.2" r="3.3" fill="url(#gb)"/><circle cx="225.9" cy="392.3" r="3.3" fill="url(#gb)"/><circle cx="41" cy="392.4" r="3.3" fill="url(#gb)"/><circle cx="116.2" cy="392.4" r="3.3" fill="url(#gb)"/><circle cx="191.4" cy="392.5" r="3.3" fill="url(#gb)"/><circle cx="81.7" cy="392.7" r="3.3" fill="url(#gb)"/><circle cx="156.9" cy="392.7" r="3.3" fill="url(#gb)"/><circle cx="47.2" cy="392.9" r="3.3" fill="url(#gb)"/><circle cx="122.4" cy="392.9" r="3.3" fill="url(#gb)"/><circle cx="197.6" cy="393" r="3.3" fill="url(#gb)"/><circle cx="87.8" cy="393.2" r="3.3" fill="url(#gb)"/><circle cx="163" cy="393.2" r="3.3" fill="url(#gb)"/><circle cx="53.3" cy="393.4" r="3.3" fill="url(#gb)"/><circle cx="128.5" cy="393.4" r="3.3" fill="url(#gb)"/><circle cx="203.7" cy="393.5" r="3.3" fill="url(#gb)"/><circle cx="18.8" cy="393.6" r="3.3" fill="url(#gb)"/><circle cx="94" cy="393.6" r="3.3" fill="url(#gb)"/><circle cx="169.2" cy="393.7" r="3.3" fill="url(#gb)"/><circle cx="59.5" cy="393.9" r="3.3" fill="url(#gb)"/><circle cx="134.7" cy="393.9" r="3.3" fill="url(#gb)"/><circle cx="209.9" cy="394" r="3.3" fill="url(#gb)"/><circle cx="100.2" cy="394.1" r="3.3" fill="url(#gb)"/><circle cx="175.4" cy="394.2" r="3.3" fill="url(#gb)"/><circle cx="65.7" cy="394.4" r="3.3" fill="url(#gb)"/><circle cx="140.9" cy="394.4" r="3.3" fill="url(#gb)"/><circle cx="216.1" cy="394.5" r="3.3" fill="url(#gb)"/><circle cx="31.2" cy="394.6" r="3.3" fill="url(#gb)"/><circle cx="106.4" cy="394.6" r="3.3" fill="url(#gb)"/><circle cx="181.6" cy="394.7" r="3.3" fill="url(#gb)"/><circle cx="71.9" cy="394.8" r="3.3" fill="url(#gb)"/><circle cx="147.1" cy="394.9" r="3.3" fill="url(#gb)"/><circle cx="222.3" cy="394.9" r="3.3" fill="url(#gb)"/><circle cx="37.3" cy="395.1" r="3.3" fill="url(#gb)"/><circle cx="112.5" cy="395.1" r="3.3" fill="url(#gb)"/><circle cx="187.7" cy="395.2" r="3.3" fill="url(#gb)"/><circle cx="78" cy="395.3" r="3.3" fill="url(#gb)"/><circle cx="153.2" cy="395.4" r="3.3" fill="url(#gb)"/><circle cx="228.4" cy="395.4" r="3.3" fill="url(#gb)"/><circle cx="43.5" cy="395.6" r="3.3" fill="url(#gb)"/><circle cx="118.7" cy="395.6" r="3.3" fill="url(#gb)"/><circle cx="193.9" cy="395.7" r="3.3" fill="url(#gb)"/><circle cx="84.2" cy="395.8" r="3.3" fill="url(#gb)"/><circle cx="159.4" cy="395.9" r="3.3" fill="url(#gb)"/><circle cx="234.6" cy="395.9" r="3.3" fill="url(#gb)"/><circle cx="49.7" cy="396" r="3.3" fill="url(#gb)"/><circle cx="124.9" cy="396.1" r="3.3" fill="url(#gb)"/><circle cx="200.1" cy="396.1" r="3.3" fill="url(#gb)"/><circle cx="90.4" cy="396.3" r="3.3" fill="url(#gb)"/><circle cx="165.6" cy="396.4" r="3.3" fill="url(#gb)"/><circle cx="55.9" cy="396.5" r="3.3" fill="url(#gb)"/><circle cx="131.1" cy="396.6" r="3.3" fill="url(#gb)"/><circle cx="206.3" cy="396.6" r="3.3" fill="url(#gb)"/><circle cx="96.5" cy="396.8" r="3.3" fill="url(#gb)"/><circle cx="171.7" cy="396.9" r="3.3" fill="url(#gb)"/><circle cx="62" cy="397" r="3.3" fill="url(#gb)"/><circle cx="137.2" cy="397.1" r="3.3" fill="url(#gb)"/><circle cx="212.4" cy="397.1" r="3.3" fill="url(#gb)"/><circle cx="27.5" cy="397.2" r="3.3" fill="url(#gb)"/><circle cx="102.7" cy="397.3" r="3.3" fill="url(#gb)"/><circle cx="177.9" cy="397.3" r="3.3" fill="url(#gb)"/><circle cx="68.2" cy="397.5" r="3.3" fill="url(#gb)"/><circle cx="143.4" cy="397.6" r="3.3" fill="url(#gb)"/><circle cx="218.6" cy="397.6" r="3.3" fill="url(#gb)"/><circle cx="108.9" cy="397.8" r="3.3" fill="url(#gb)"/><circle cx="184.1" cy="397.8" r="3.3" fill="url(#gb)"/><circle cx="74.4" cy="398" r="3.3" fill="url(#gb)"/><circle cx="149.6" cy="398.1" r="3.3" fill="url(#gb)"/><circle cx="224.8" cy="398.1" r="3.3" fill="url(#gb)"/><circle cx="39.9" cy="398.2" r="3.3" fill="url(#gb)"/><circle cx="115.1" cy="398.3" r="3.3" fill="url(#gb)"/><circle cx="190.3" cy="398.3" r="3.3" fill="url(#gb)"/><circle cx="80.6" cy="398.5" r="3.3" fill="url(#gb)"/><circle cx="155.8" cy="398.5" r="3.3" fill="url(#gb)"/><circle cx="231" cy="398.6" r="3.3" fill="url(#gb)"/><circle cx="46" cy="398.7" r="3.3" fill="url(#gb)"/><circle cx="121.2" cy="398.8" r="3.3" fill="url(#gb)"/><circle cx="196.4" cy="398.8" r="3.3" fill="url(#gb)"/><circle cx="86.7" cy="399" r="3.3" fill="url(#gb)"/><circle cx="161.9" cy="399" r="3.3" fill="url(#gb)"/><circle cx="237.1" cy="399.1" r="3.3" fill="url(#gb)"/><circle cx="52.2" cy="399.2" r="3.3" fill="url(#gb)"/><circle cx="127.4" cy="399.2" r="3.3" fill="url(#gb)"/><circle cx="202.6" cy="399.3" r="3.3" fill="url(#gb)"/><circle cx="92.9" cy="399.5" r="3.3" fill="url(#gb)"/><circle cx="168.1" cy="399.5" r="3.3" fill="url(#gb)"/><circle cx="243.3" cy="399.6" r="3.3" fill="url(#gb)"/><circle cx="58.4" cy="399.7" r="3.3" fill="url(#gb)"/><circle cx="133.6" cy="399.7" r="3.3" fill="url(#gb)"/><circle cx="208.8" cy="399.8" r="3.3" fill="url(#gb)"/><circle cx="99.1" cy="400" r="3.3" fill="url(#gb)"/><circle cx="174.3" cy="400" r="3.3" fill="url(#gb)"/><circle cx="64.6" cy="400.2" r="3.3" fill="url(#gb)"/><circle cx="139.8" cy="400.2" r="3.3" fill="url(#gb)"/><circle cx="215" cy="400.3" r="3.3" fill="url(#gb)"/><circle cx="105.2" cy="400.4" r="3.3" fill="url(#gb)"/><circle cx="180.4" cy="400.5" r="3.3" fill="url(#gb)"/><circle cx="70.7" cy="400.7" r="3.3" fill="url(#gb)"/><circle cx="145.9" cy="400.7" r="3.3" fill="url(#gb)"/><circle cx="221.1" cy="400.8" r="3.3" fill="url(#gb)"/><circle cx="36.2" cy="400.9" r="3.3" fill="url(#gb)"/><circle cx="111.4" cy="400.9" r="3.3" fill="url(#gb)"/><circle cx="186.6" cy="401" r="3.3" fill="url(#gb)"/><circle cx="76.9" cy="401.2" r="3.3" fill="url(#gb)"/><circle cx="152.1" cy="401.2" r="3.3" fill="url(#gb)"/><circle cx="227.3" cy="401.3" r="3.3" fill="url(#gb)"/><circle cx="117.6" cy="401.4" r="3.3" fill="url(#gb)"/><circle cx="192.8" cy="401.5" r="3.3" fill="url(#gb)"/><circle cx="83.1" cy="401.6" r="3.3" fill="url(#gb)"/><circle cx="158.3" cy="401.7" r="3.3" fill="url(#gb)"/><circle cx="233.5" cy="401.7" r="3.3" fill="url(#gb)"/><circle cx="48.6" cy="401.9" r="3.3" fill="url(#gb)"/><circle cx="123.8" cy="401.9" r="3.3" fill="url(#gb)"/><circle cx="199" cy="402" r="3.3" fill="url(#gb)"/><circle cx="89.3" cy="402.1" r="3.3" fill="url(#gb)"/><circle cx="164.5" cy="402.2" r="3.3" fill="url(#gb)"/><circle cx="239.7" cy="402.2" r="3.3" fill="url(#gb)"/><circle cx="54.7" cy="402.4" r="3.3" fill="url(#gb)"/><circle cx="129.9" cy="402.4" r="3.3" fill="url(#gb)"/><circle cx="205.1" cy="402.5" r="3.3" fill="url(#gb)"/><circle cx="95.4" cy="402.6" r="3.3" fill="url(#gb)"/><circle cx="170.6" cy="402.7" r="3.3" fill="url(#gb)"/><circle cx="245.8" cy="402.7" r="3.3" fill="url(#gb)"/><circle cx="60.9" cy="402.8" r="3.3" fill="url(#gb)"/><circle cx="136.1" cy="402.9" r="3.3" fill="url(#gb)"/><circle cx="211.3" cy="402.9" r="3.3" fill="url(#gb)"/><circle cx="101.6" cy="403.1" r="3.3" fill="url(#gb)"/><circle cx="176.8" cy="403.2" r="3.3" fill="url(#gb)"/><circle cx="252" cy="403.2" r="3.3" fill="url(#gb)"/><circle cx="67.1" cy="403.3" r="3.3" fill="url(#gb)"/><circle cx="142.3" cy="403.4" r="3.3" fill="url(#gb)"/><circle cx="217.5" cy="403.4" r="3.3" fill="url(#gb)"/><circle cx="107.8" cy="403.6" r="3.3" fill="url(#gb)"/><circle cx="183" cy="403.7" r="3.3" fill="url(#gb)"/><circle cx="73.3" cy="403.8" r="3.3" fill="url(#gb)"/><circle cx="148.5" cy="403.9" r="3.3" fill="url(#gb)"/><circle cx="223.7" cy="403.9" r="3.3" fill="url(#gb)"/><circle cx="113.9" cy="404.1" r="3.3" fill="url(#gb)"/><circle cx="189.1" cy="404.1" r="3.3" fill="url(#gb)"/><circle cx="79.4" cy="404.3" r="3.3" fill="url(#gb)"/><circle cx="154.6" cy="404.4" r="3.3" fill="url(#gb)"/><circle cx="229.8" cy="404.4" r="3.3" fill="url(#gb)"/><circle cx="44.9" cy="404.5" r="3.3" fill="url(#gb)"/><circle cx="120.1" cy="404.6" r="3.3" fill="url(#gb)"/><circle cx="195.3" cy="404.6" r="3.3" fill="url(#gb)"/><circle cx="85.6" cy="404.8" r="3.3" fill="url(#gb)"/><circle cx="160.8" cy="404.9" r="3.3" fill="url(#gb)"/><circle cx="236" cy="404.9" r="3.3" fill="url(#gb)"/><circle cx="126.3" cy="405.1" r="3.3" fill="url(#gb)"/><circle cx="201.5" cy="405.1" r="3.3" fill="url(#gb)"/><circle cx="91.8" cy="405.3" r="3.3" fill="url(#gb)"/><circle cx="167" cy="405.3" r="3.3" fill="url(#gb)"/><circle cx="242.2" cy="405.4" r="3.3" fill="url(#gb)"/><circle cx="57.3" cy="405.5" r="3.3" fill="url(#gb)"/><circle cx="132.5" cy="405.6" r="3.3" fill="url(#gb)"/><circle cx="207.7" cy="405.6" r="3.3" fill="url(#gb)"/><circle cx="98" cy="405.8" r="3.3" fill="url(#gb)"/><circle cx="173.2" cy="405.8" r="3.3" fill="url(#gb)"/><circle cx="248.4" cy="405.9" r="3.3" fill="url(#gb)"/><circle cx="63.4" cy="406" r="3.3" fill="url(#gb)"/><circle cx="138.6" cy="406.1" r="3.3" fill="url(#gb)"/><circle cx="213.8" cy="406.1" r="3.3" fill="url(#gb)"/><circle cx="104.1" cy="406.3" r="3.3" fill="url(#gb)"/><circle cx="179.3" cy="406.3" r="3.3" fill="url(#gb)"/><circle cx="254.5" cy="406.4" r="3.3" fill="url(#gb)"/><circle cx="69.6" cy="406.5" r="3.3" fill="url(#gb)"/><circle cx="144.8" cy="406.5" r="3.3" fill="url(#gb)"/><circle cx="220" cy="406.6" r="3.3" fill="url(#gb)"/><circle cx="110.3" cy="406.8" r="3.3" fill="url(#gb)"/><circle cx="185.5" cy="406.8" r="3.3" fill="url(#gb)"/><circle cx="260.7" cy="406.9" r="3.3" fill="url(#gb)"/><circle cx="75.8" cy="407" r="3.3" fill="url(#gb)"/><circle cx="151" cy="407" r="3.3" fill="url(#gb)"/><circle cx="226.2" cy="407.1" r="3.3" fill="url(#gb)"/><circle cx="116.5" cy="407.2" r="3.3" fill="url(#gb)"/><circle cx="191.7" cy="407.3" r="3.3" fill="url(#gb)"/><circle cx="82" cy="407.5" r="3.3" fill="url(#gb)"/><circle cx="157.2" cy="407.5" r="3.3" fill="url(#gb)"/><circle cx="232.4" cy="407.6" r="3.3" fill="url(#gb)"/><circle cx="122.6" cy="407.7" r="3.3" fill="url(#gb)"/><circle cx="197.8" cy="407.8" r="3.3" fill="url(#gb)"/><circle cx="88.1" cy="408" r="3.3" fill="url(#gb)"/><circle cx="163.3" cy="408" r="3.3" fill="url(#gb)"/><circle cx="238.5" cy="408.1" r="3.3" fill="url(#gb)"/><circle cx="53.6" cy="408.2" r="3.3" fill="url(#gb)"/><circle cx="128.8" cy="408.2" r="3.3" fill="url(#gb)"/><circle cx="204" cy="408.3" r="3.3" fill="url(#gb)"/><circle cx="94.3" cy="408.4" r="3.3" fill="url(#gb)"/><circle cx="169.5" cy="408.5" r="3.3" fill="url(#gb)"/><circle cx="244.7" cy="408.5" r="3.3" fill="url(#gb)"/><circle cx="135" cy="408.7" r="3.3" fill="url(#gb)"/><circle cx="210.2" cy="408.8" r="3.3" fill="url(#gb)"/><circle cx="100.5" cy="408.9" r="3.3" fill="url(#gb)"/><circle cx="175.7" cy="409" r="3.3" fill="url(#gb)"/><circle cx="250.9" cy="409" r="3.3" fill="url(#gb)"/><circle cx="66" cy="409.2" r="3.3" fill="url(#gb)"/><circle cx="141.2" cy="409.2" r="3.3" fill="url(#gb)"/><circle cx="216.4" cy="409.3" r="3.3" fill="url(#gb)"/><circle cx="106.7" cy="409.4" r="3.3" fill="url(#gb)"/><circle cx="181.9" cy="409.5" r="3.3" fill="url(#gb)"/><circle cx="257.1" cy="409.5" r="3.3" fill="url(#gb)"/><circle cx="72.1" cy="409.6" r="3.3" fill="url(#gb)"/><circle cx="147.3" cy="409.7" r="3.3" fill="url(#gb)"/><circle cx="222.5" cy="409.7" r="3.3" fill="url(#gb)"/><circle cx="112.8" cy="409.9" r="3.3" fill="url(#gb)"/><circle cx="188" cy="410" r="3.3" fill="url(#gb)"/><circle cx="263.2" cy="410" r="3.3" fill="url(#gb)"/><circle cx="78.3" cy="410.1" r="3.3" fill="url(#gb)"/><circle cx="153.5" cy="410.2" r="3.3" fill="url(#gb)"/><circle cx="228.7" cy="410.2" r="3.3" fill="url(#gb)"/><circle cx="119" cy="410.4" r="3.3" fill="url(#gb)"/><circle cx="194.2" cy="410.5" r="3.3" fill="url(#gb)"/><circle cx="269.4" cy="410.5" r="3.3" fill="url(#gb)"/><circle cx="84.5" cy="410.6" r="3.3" fill="url(#gb)"/><circle cx="159.7" cy="410.7" r="3.3" fill="url(#gb)"/><circle cx="234.9" cy="410.7" r="3.3" fill="url(#gb)"/><circle cx="125.2" cy="410.9" r="3.3" fill="url(#gb)"/><circle cx="200.4" cy="410.9" r="3.3" fill="url(#gb)"/><circle cx="90.7" cy="411.1" r="3.3" fill="url(#gb)"/><circle cx="165.9" cy="411.2" r="3.3" fill="url(#gb)"/><circle cx="241.1" cy="411.2" r="3.3" fill="url(#gb)"/><circle cx="131.3" cy="411.4" r="3.3" fill="url(#gb)"/><circle cx="206.5" cy="411.4" r="3.3" fill="url(#gb)"/><circle cx="96.8" cy="411.6" r="3.3" fill="url(#gb)"/><circle cx="172" cy="411.7" r="3.3" fill="url(#gb)"/><circle cx="247.2" cy="411.7" r="3.3" fill="url(#gb)"/><circle cx="62.3" cy="411.8" r="3.3" fill="url(#gb)"/><circle cx="137.5" cy="411.9" r="3.3" fill="url(#gb)"/><circle cx="212.7" cy="411.9" r="3.3" fill="url(#gb)"/><circle cx="103" cy="412.1" r="3.3" fill="url(#gb)"/><circle cx="178.2" cy="412.1" r="3.3" fill="url(#gb)"/><circle cx="253.4" cy="412.2" r="3.3" fill="url(#gb)"/><circle cx="143.7" cy="412.4" r="3.3" fill="url(#gb)"/><circle cx="218.9" cy="412.4" r="3.3" fill="url(#gb)"/><circle cx="109.2" cy="412.6" r="3.3" fill="url(#gb)"/><circle cx="184.4" cy="412.6" r="3.3" fill="url(#gb)"/><circle cx="259.6" cy="412.7" r="3.3" fill="url(#gb)"/><circle cx="74.7" cy="412.8" r="3.3" fill="url(#gb)"/><circle cx="149.9" cy="412.9" r="3.3" fill="url(#gb)"/><circle cx="225.1" cy="412.9" r="3.3" fill="url(#gb)"/><circle cx="115.4" cy="413.1" r="3.3" fill="url(#gb)"/><circle cx="190.6" cy="413.1" r="3.3" fill="url(#gb)"/><circle cx="265.8" cy="413.2" r="3.3" fill="url(#gb)"/><circle cx="80.8" cy="413.3" r="3.3" fill="url(#gb)"/><circle cx="156" cy="413.3" r="3.3" fill="url(#gb)"/><circle cx="231.2" cy="413.4" r="3.3" fill="url(#gb)"/><circle cx="121.5" cy="413.6" r="3.3" fill="url(#gb)"/><circle cx="196.7" cy="413.6" r="3.3" fill="url(#gb)"/><circle cx="271.9" cy="413.7" r="3.3" fill="url(#gb)"/><circle cx="87" cy="413.8" r="3.3" fill="url(#gb)"/><circle cx="162.2" cy="413.8" r="3.3" fill="url(#gb)"/><circle cx="237.4" cy="413.9" r="3.3" fill="url(#gb)"/><circle cx="127.7" cy="414.1" r="3.3" fill="url(#gb)"/><circle cx="202.9" cy="414.1" r="3.3" fill="url(#gb)"/><circle cx="278.1" cy="414.1" r="3.3" fill="url(#gb)"/><circle cx="93.2" cy="414.3" r="3.3" fill="url(#gb)"/><circle cx="168.4" cy="414.3" r="3.3" fill="url(#gb)"/><circle cx="243.6" cy="414.4" r="3.3" fill="url(#gb)"/><circle cx="133.9" cy="414.5" r="3.3" fill="url(#gb)"/><circle cx="209.1" cy="414.6" r="3.3" fill="url(#gb)"/><circle cx="99.4" cy="414.8" r="3.3" fill="url(#gb)"/><circle cx="174.6" cy="414.8" r="3.3" fill="url(#gb)"/><circle cx="249.8" cy="414.9" r="3.3" fill="url(#gb)"/><circle cx="140" cy="415" r="3.3" fill="url(#gb)"/><circle cx="215.2" cy="415.1" r="3.3" fill="url(#gb)"/><circle cx="105.5" cy="415.2" r="3.3" fill="url(#gb)"/><circle cx="180.7" cy="415.3" r="3.3" fill="url(#gb)"/><circle cx="255.9" cy="415.3" r="3.3" fill="url(#gb)"/><circle cx="71" cy="415.5" r="3.3" fill="url(#gb)"/><circle cx="146.2" cy="415.5" r="3.3" fill="url(#gb)"/><circle cx="221.4" cy="415.6" r="3.3" fill="url(#gb)"/><circle cx="111.7" cy="415.7" r="3.3" fill="url(#gb)"/><circle cx="186.9" cy="415.8" r="3.3" fill="url(#gb)"/><circle cx="262.1" cy="415.8" r="3.3" fill="url(#gb)"/><circle cx="152.4" cy="416" r="3.3" fill="url(#gb)"/><circle cx="227.6" cy="416.1" r="3.3" fill="url(#gb)"/><circle cx="117.9" cy="416.2" r="3.3" fill="url(#gb)"/><circle cx="193.1" cy="416.3" r="3.3" fill="url(#gb)"/><circle cx="268.3" cy="416.3" r="3.3" fill="url(#gb)"/><circle cx="83.4" cy="416.4" r="3.3" fill="url(#gb)"/><circle cx="158.6" cy="416.5" r="3.3" fill="url(#gb)"/><circle cx="233.8" cy="416.5" r="3.3" fill="url(#gb)"/><circle cx="124.1" cy="416.7" r="3.3" fill="url(#gb)"/><circle cx="199.3" cy="416.8" r="3.3" fill="url(#gb)"/><circle cx="274.5" cy="416.8" r="3.3" fill="url(#gb)"/><circle cx="89.5" cy="416.9" r="3.3" fill="url(#gb)"/><circle cx="164.7" cy="417" r="3.3" fill="url(#gb)"/><circle cx="239.9" cy="417" r="3.3" fill="url(#gb)"/><circle cx="130.2" cy="417.2" r="3.3" fill="url(#gb)"/><circle cx="205.4" cy="417.3" r="3.3" fill="url(#gb)"/><circle cx="280.6" cy="417.3" r="3.3" fill="url(#gb)"/><circle cx="95.7" cy="417.4" r="3.3" fill="url(#gb)"/><circle cx="170.9" cy="417.5" r="3.3" fill="url(#gb)"/><circle cx="246.1" cy="417.5" r="3.3" fill="url(#gb)"/><circle cx="136.4" cy="417.7" r="3.3" fill="url(#gb)"/><circle cx="211.6" cy="417.7" r="3.3" fill="url(#gb)"/><circle cx="286.8" cy="417.8" r="3.3" fill="url(#gb)"/><circle cx="101.9" cy="417.9" r="3.3" fill="url(#gb)"/><circle cx="177.1" cy="418" r="3.3" fill="url(#gb)"/><circle cx="252.3" cy="418" r="3.3" fill="url(#gb)"/><circle cx="142.6" cy="418.2" r="3.3" fill="url(#gb)"/><circle cx="217.8" cy="418.2" r="3.3" fill="url(#gb)"/><circle cx="108.1" cy="418.4" r="3.3" fill="url(#gb)"/><circle cx="183.3" cy="418.5" r="3.3" fill="url(#gb)"/><circle cx="258.5" cy="418.5" r="3.3" fill="url(#gb)"/><circle cx="148.7" cy="418.7" r="3.3" fill="url(#gb)"/><circle cx="223.9" cy="418.7" r="3.3" fill="url(#gb)"/><circle cx="114.2" cy="418.9" r="3.3" fill="url(#gb)"/><circle cx="189.4" cy="418.9" r="3.3" fill="url(#gb)"/><circle cx="264.6" cy="419" r="3.3" fill="url(#gb)"/><circle cx="79.7" cy="419.1" r="3.3" fill="url(#gb)"/><circle cx="154.9" cy="419.2" r="3.3" fill="url(#gb)"/><circle cx="230.1" cy="419.2" r="3.3" fill="url(#gb)"/><circle cx="120.4" cy="419.4" r="3.3" fill="url(#gb)"/><circle cx="195.6" cy="419.4" r="3.3" fill="url(#gb)"/><circle cx="270.8" cy="419.5" r="3.3" fill="url(#gb)"/><circle cx="161.1" cy="419.7" r="3.3" fill="url(#gb)"/><circle cx="236.3" cy="419.7" r="3.3" fill="url(#gb)"/><circle cx="126.6" cy="419.9" r="3.3" fill="url(#gb)"/><circle cx="201.8" cy="419.9" r="3.3" fill="url(#gb)"/><circle cx="277" cy="420" r="3.3" fill="url(#gb)"/><circle cx="92.1" cy="420.1" r="3.3" fill="url(#gb)"/><circle cx="167.3" cy="420.1" r="3.3" fill="url(#gb)"/><circle cx="242.5" cy="420.2" r="3.3" fill="url(#gb)"/><circle cx="132.8" cy="420.4" r="3.3" fill="url(#gb)"/><circle cx="208" cy="420.4" r="3.3" fill="url(#gb)"/><circle cx="283.2" cy="420.5" r="3.3" fill="url(#gb)"/><circle cx="98.2" cy="420.6" r="3.3" fill="url(#gb)"/><circle cx="173.4" cy="420.6" r="3.3" fill="url(#gb)"/><circle cx="248.6" cy="420.7" r="3.3" fill="url(#gb)"/><circle cx="138.9" cy="420.9" r="3.3" fill="url(#gb)"/><circle cx="214.1" cy="420.9" r="3.3" fill="url(#gb)"/><circle cx="289.3" cy="420.9" r="3.3" fill="url(#gb)"/><circle cx="104.4" cy="421.1" r="3.3" fill="url(#gb)"/><circle cx="179.6" cy="421.1" r="3.3" fill="url(#gb)"/><circle cx="254.8" cy="421.2" r="3.3" fill="url(#gb)"/><circle cx="145.1" cy="421.3" r="3.3" fill="url(#gb)"/><circle cx="220.3" cy="421.4" r="3.3" fill="url(#gb)"/><circle cx="295.5" cy="421.4" r="3.3" fill="url(#gb)"/><circle cx="110.6" cy="421.6" r="3.3" fill="url(#gb)"/><circle cx="185.8" cy="421.6" r="3.3" fill="url(#gb)"/><circle cx="261" cy="421.7" r="3.3" fill="url(#gb)"/><circle cx="151.3" cy="421.8" r="3.3" fill="url(#gb)"/><circle cx="226.5" cy="421.9" r="3.3" fill="url(#gb)"/><circle cx="116.8" cy="422.1" r="3.3" fill="url(#gb)"/><circle cx="192" cy="422.1" r="3.3" fill="url(#gb)"/><circle cx="267.2" cy="422.1" r="3.3" fill="url(#gb)"/><circle cx="157.4" cy="422.3" r="3.3" fill="url(#gb)"/><circle cx="232.6" cy="422.4" r="3.3" fill="url(#gb)"/><circle cx="122.9" cy="422.5" r="3.3" fill="url(#gb)"/><circle cx="198.1" cy="422.6" r="3.3" fill="url(#gb)"/><circle cx="273.3" cy="422.6" r="3.3" fill="url(#gb)"/><circle cx="88.4" cy="422.8" r="3.3" fill="url(#gb)"/><circle cx="163.6" cy="422.8" r="3.3" fill="url(#gb)"/><circle cx="238.8" cy="422.9" r="3.3" fill="url(#gb)"/><circle cx="129.1" cy="423" r="3.3" fill="url(#gb)"/><circle cx="204.3" cy="423.1" r="3.3" fill="url(#gb)"/><circle cx="279.5" cy="423.1" r="3.3" fill="url(#gb)"/><circle cx="169.8" cy="423.3" r="3.3" fill="url(#gb)"/><circle cx="245" cy="423.3" r="3.3" fill="url(#gb)"/><circle cx="135.3" cy="423.5" r="3.3" fill="url(#gb)"/><circle cx="210.5" cy="423.6" r="3.3" fill="url(#gb)"/><circle cx="285.7" cy="423.6" r="3.3" fill="url(#gb)"/><circle cx="100.8" cy="423.7" r="3.3" fill="url(#gb)"/><circle cx="176" cy="423.8" r="3.3" fill="url(#gb)"/><circle cx="251.2" cy="423.8" r="3.3" fill="url(#gb)"/><circle cx="141.5" cy="424" r="3.3" fill="url(#gb)"/><circle cx="216.7" cy="424.1" r="3.3" fill="url(#gb)"/><circle cx="291.9" cy="424.1" r="3.3" fill="url(#gb)"/><circle cx="106.9" cy="424.2" r="3.3" fill="url(#gb)"/><circle cx="182.1" cy="424.3" r="3.3" fill="url(#gb)"/><circle cx="257.3" cy="424.3" r="3.3" fill="url(#gb)"/><circle cx="147.6" cy="424.5" r="3.3" fill="url(#gb)"/><circle cx="222.8" cy="424.5" r="3.3" fill="url(#gb)"/><circle cx="298" cy="424.6" r="3.3" fill="url(#gb)"/><circle cx="113.1" cy="424.7" r="3.3" fill="url(#gb)"/><circle cx="188.3" cy="424.8" r="3.3" fill="url(#gb)"/><circle cx="263.5" cy="424.8" r="3.3" fill="url(#gb)"/><circle cx="153.8" cy="425" r="3.3" fill="url(#gb)"/><circle cx="229" cy="425" r="3.3" fill="url(#gb)"/><circle cx="119.3" cy="425.2" r="3.3" fill="url(#gb)"/><circle cx="194.5" cy="425.3" r="3.3" fill="url(#gb)"/><circle cx="269.7" cy="425.3" r="3.3" fill="url(#gb)"/><circle cx="160" cy="425.5" r="3.3" fill="url(#gb)"/><circle cx="235.2" cy="425.5" r="3.3" fill="url(#gb)"/><circle cx="125.5" cy="425.7" r="3.3" fill="url(#gb)"/><circle cx="200.7" cy="425.7" r="3.3" fill="url(#gb)"/><circle cx="275.9" cy="425.8" r="3.3" fill="url(#gb)"/><circle cx="166.1" cy="426" r="3.3" fill="url(#gb)"/><circle cx="241.3" cy="426" r="3.3" fill="url(#gb)"/><circle cx="131.6" cy="426.2" r="3.3" fill="url(#gb)"/><circle cx="206.8" cy="426.2" r="3.3" fill="url(#gb)"/><circle cx="282" cy="426.3" r="3.3" fill="url(#gb)"/><circle cx="97.1" cy="426.4" r="3.3" fill="url(#gb)"/><circle cx="172.3" cy="426.5" r="3.3" fill="url(#gb)"/><circle cx="247.5" cy="426.5" r="3.3" fill="url(#gb)"/><circle cx="137.8" cy="426.7" r="3.3" fill="url(#gb)"/><circle cx="213" cy="426.7" r="3.3" fill="url(#gb)"/><circle cx="288.2" cy="426.8" r="3.3" fill="url(#gb)"/><circle cx="178.5" cy="426.9" r="3.3" fill="url(#gb)"/><circle cx="253.7" cy="427" r="3.3" fill="url(#gb)"/><circle cx="144" cy="427.2" r="3.3" fill="url(#gb)"/><circle cx="219.2" cy="427.2" r="3.3" fill="url(#gb)"/><circle cx="294.4" cy="427.3" r="3.3" fill="url(#gb)"/><circle cx="109.5" cy="427.4" r="3.3" fill="url(#gb)"/><circle cx="184.7" cy="427.4" r="3.3" fill="url(#gb)"/><circle cx="259.9" cy="427.5" r="3.3" fill="url(#gb)"/><circle cx="150.2" cy="427.7" r="3.3" fill="url(#gb)"/><circle cx="225.4" cy="427.7" r="3.3" fill="url(#gb)"/><circle cx="115.6" cy="427.9" r="3.3" fill="url(#gb)"/><circle cx="190.8" cy="427.9" r="3.3" fill="url(#gb)"/><circle cx="266" cy="428" r="3.3" fill="url(#gb)"/><circle cx="156.3" cy="428.1" r="3.3" fill="url(#gb)"/><circle cx="231.5" cy="428.2" r="3.3" fill="url(#gb)"/><circle cx="121.8" cy="428.4" r="3.3" fill="url(#gb)"/><circle cx="197" cy="428.4" r="3.3" fill="url(#gb)"/><circle cx="272.2" cy="428.5" r="3.3" fill="url(#gb)"/><circle cx="162.5" cy="428.6" r="3.3" fill="url(#gb)"/><circle cx="237.7" cy="428.7" r="3.3" fill="url(#gb)"/><circle cx="128" cy="428.9" r="3.3" fill="url(#gb)"/><circle cx="203.2" cy="428.9" r="3.3" fill="url(#gb)"/><circle cx="278.4" cy="428.9" r="3.3" fill="url(#gb)"/><circle cx="168.7" cy="429.1" r="3.3" fill="url(#gb)"/><circle cx="243.9" cy="429.2" r="3.3" fill="url(#gb)"/><circle cx="134.2" cy="429.3" r="3.3" fill="url(#gb)"/><circle cx="209.4" cy="429.4" r="3.3" fill="url(#gb)"/><circle cx="284.6" cy="429.4" r="3.3" fill="url(#gb)"/><circle cx="174.8" cy="429.6" r="3.3" fill="url(#gb)"/><circle cx="250" cy="429.7" r="3.3" fill="url(#gb)"/><circle cx="140.3" cy="429.8" r="3.3" fill="url(#gb)"/><circle cx="215.5" cy="429.9" r="3.3" fill="url(#gb)"/><circle cx="105.8" cy="430.1" r="3.3" fill="url(#gb)"/><circle cx="181" cy="430.1" r="3.3" fill="url(#gb)"/><circle cx="256.2" cy="430.1" r="3.3" fill="url(#gb)"/><circle cx="146.5" cy="430.3" r="3.3" fill="url(#gb)"/><circle cx="221.7" cy="430.4" r="3.3" fill="url(#gb)"/><circle cx="187.2" cy="430.6" r="3.3" fill="url(#gb)"/><circle cx="262.4" cy="430.6" r="3.3" fill="url(#gb)"/><circle cx="152.7" cy="430.8" r="3.3" fill="url(#gb)"/><circle cx="227.9" cy="430.9" r="3.3" fill="url(#gb)"/><circle cx="118.2" cy="431" r="3.3" fill="url(#gb)"/><circle cx="193.4" cy="431.1" r="3.3" fill="url(#gb)"/><circle cx="268.6" cy="431.1" r="3.3" fill="url(#gb)"/><circle cx="158.9" cy="431.3" r="3.3" fill="url(#gb)"/><circle cx="234.1" cy="431.3" r="3.3" fill="url(#gb)"/><circle cx="124.3" cy="431.5" r="3.3" fill="url(#gb)"/><circle cx="199.5" cy="431.6" r="3.3" fill="url(#gb)"/><circle cx="274.7" cy="431.6" r="3.3" fill="url(#gb)"/><circle cx="165" cy="431.8" r="3.3" fill="url(#gb)"/><circle cx="240.2" cy="431.8" r="3.3" fill="url(#gb)"/><circle cx="130.5" cy="432" r="3.3" fill="url(#gb)"/><circle cx="205.7" cy="432.1" r="3.3" fill="url(#gb)"/><circle cx="280.9" cy="432.1" r="3.3" fill="url(#gb)"/><circle cx="171.2" cy="432.3" r="3.3" fill="url(#gb)"/><circle cx="246.4" cy="432.3" r="3.3" fill="url(#gb)"/><circle cx="136.7" cy="432.5" r="3.3" fill="url(#gb)"/><circle cx="211.9" cy="432.5" r="3.3" fill="url(#gb)"/><circle cx="287.1" cy="432.6" r="3.3" fill="url(#gb)"/><circle cx="177.4" cy="432.8" r="3.3" fill="url(#gb)"/><circle cx="252.6" cy="432.8" r="3.3" fill="url(#gb)"/><circle cx="142.9" cy="433" r="3.3" fill="url(#gb)"/><circle cx="218.1" cy="433" r="3.3" fill="url(#gb)"/><circle cx="183.5" cy="433.3" r="3.3" fill="url(#gb)"/><circle cx="258.7" cy="433.3" r="3.3" fill="url(#gb)"/><circle cx="149" cy="433.5" r="3.3" fill="url(#gb)"/><circle cx="224.2" cy="433.5" r="3.3" fill="url(#gb)"/><circle cx="114.5" cy="433.7" r="3.3" fill="url(#gb)"/><circle cx="189.7" cy="433.7" r="3.3" fill="url(#gb)"/><circle cx="264.9" cy="433.8" r="3.3" fill="url(#gb)"/><circle cx="155.2" cy="434" r="3.3" fill="url(#gb)"/><circle cx="230.4" cy="434" r="3.3" fill="url(#gb)"/><circle cx="195.9" cy="434.2" r="3.3" fill="url(#gb)"/><circle cx="271.1" cy="434.3" r="3.3" fill="url(#gb)"/><circle cx="161.4" cy="434.5" r="3.3" fill="url(#gb)"/><circle cx="236.6" cy="434.5" r="3.3" fill="url(#gb)"/><circle cx="126.9" cy="434.7" r="3.3" fill="url(#gb)"/><circle cx="202.1" cy="434.7" r="3.3" fill="url(#gb)"/><circle cx="277.3" cy="434.8" r="3.3" fill="url(#gb)"/><circle cx="167.6" cy="434.9" r="3.3" fill="url(#gb)"/><circle cx="242.8" cy="435" r="3.3" fill="url(#gb)"/><circle cx="133" cy="435.2" r="3.3" fill="url(#gb)"/><circle cx="208.2" cy="435.2" r="3.3" fill="url(#gb)"/><circle cx="283.4" cy="435.3" r="3.3" fill="url(#gb)"/><circle cx="173.7" cy="435.4" r="3.3" fill="url(#gb)"/><circle cx="248.9" cy="435.5" r="3.3" fill="url(#gb)"/><circle cx="139.2" cy="435.7" r="3.3" fill="url(#gb)"/><circle cx="214.4" cy="435.7" r="3.3" fill="url(#gb)"/><circle cx="179.9" cy="435.9" r="3.3" fill="url(#gb)"/><circle cx="255.1" cy="436" r="3.3" fill="url(#gb)"/><circle cx="145.4" cy="436.1" r="3.3" fill="url(#gb)"/><circle cx="220.6" cy="436.2" r="3.3" fill="url(#gb)"/><circle cx="186.1" cy="436.4" r="3.3" fill="url(#gb)"/><circle cx="261.3" cy="436.5" r="3.3" fill="url(#gb)"/><circle cx="151.6" cy="436.6" r="3.3" fill="url(#gb)"/><circle cx="226.8" cy="436.7" r="3.3" fill="url(#gb)"/><circle cx="192.2" cy="436.9" r="3.3" fill="url(#gb)"/><circle cx="267.4" cy="436.9" r="3.3" fill="url(#gb)"/><circle cx="157.7" cy="437.1" r="3.3" fill="url(#gb)"/><circle cx="232.9" cy="437.2" r="3.3" fill="url(#gb)"/><circle cx="123.2" cy="437.3" r="3.3" fill="url(#gb)"/><circle cx="198.4" cy="437.4" r="3.3" fill="url(#gb)"/><circle cx="273.6" cy="437.4" r="3.3" fill="url(#gb)"/><circle cx="163.9" cy="437.6" r="3.3" fill="url(#gb)"/><circle cx="239.1" cy="437.7" r="3.3" fill="url(#gb)"/><circle cx="204.6" cy="437.9" r="3.3" fill="url(#gb)"/><circle cx="170.1" cy="438.1" r="3.3" fill="url(#gb)"/><circle cx="245.3" cy="438.1" r="3.3" fill="url(#gb)"/><circle cx="135.6" cy="438.3" r="3.3" fill="url(#gb)"/><circle cx="210.8" cy="438.4" r="3.3" fill="url(#gb)"/><circle cx="176.3" cy="438.6" r="3.3" fill="url(#gb)"/><circle cx="251.5" cy="438.6" r="3.3" fill="url(#gb)"/><circle cx="141.7" cy="438.8" r="3.3" fill="url(#gb)"/><circle cx="216.9" cy="438.9" r="3.3" fill="url(#gb)"/><circle cx="182.4" cy="439.1" r="3.3" fill="url(#gb)"/><circle cx="257.6" cy="439.1" r="3.3" fill="url(#gb)"/><circle cx="147.9" cy="439.3" r="3.3" fill="url(#gb)"/><circle cx="223.1" cy="439.3" r="3.3" fill="url(#gb)"/><circle cx="188.6" cy="439.6" r="3.3" fill="url(#gb)"/><circle cx="263.8" cy="439.6" r="3.3" fill="url(#gb)"/><circle cx="154.1" cy="439.8" r="3.3" fill="url(#gb)"/><circle cx="229.3" cy="439.8" r="3.3" fill="url(#gb)"/><circle cx="194.8" cy="440.1" r="3.3" fill="url(#gb)"/><circle cx="270" cy="440.1" r="3.3" fill="url(#gb)"/><circle cx="160.3" cy="440.3" r="3.3" fill="url(#gb)"/><circle cx="235.5" cy="440.3" r="3.3" fill="url(#gb)"/><circle cx="200.9" cy="440.5" r="3.3" fill="url(#gb)"/><circle cx="276.1" cy="440.6" r="3.3" fill="url(#gb)"/><circle cx="166.4" cy="440.8" r="3.3" fill="url(#gb)"/><circle cx="241.6" cy="440.8" r="3.3" fill="url(#gb)"/><circle cx="131.9" cy="441" r="3.3" fill="url(#gb)"/><circle cx="207.1" cy="441" r="3.3" fill="url(#gb)"/><circle cx="172.6" cy="441.3" r="3.3" fill="url(#gb)"/><circle cx="247.8" cy="441.3" r="3.3" fill="url(#gb)"/><circle cx="213.3" cy="441.5" r="3.3" fill="url(#gb)"/><circle cx="178.8" cy="441.7" r="3.3" fill="url(#gb)"/><circle cx="254" cy="441.8" r="3.3" fill="url(#gb)"/><circle cx="144.3" cy="442" r="3.3" fill="url(#gb)"/><circle cx="219.5" cy="442" r="3.3" fill="url(#gb)"/><circle cx="185" cy="442.2" r="3.3" fill="url(#gb)"/><circle cx="260.2" cy="442.3" r="3.3" fill="url(#gb)"/><circle cx="150.4" cy="442.5" r="3.3" fill="url(#gb)"/><circle cx="225.6" cy="442.5" r="3.3" fill="url(#gb)"/><circle cx="191.1" cy="442.7" r="3.3" fill="url(#gb)"/><circle cx="266.3" cy="442.8" r="3.3" fill="url(#gb)"/><circle cx="156.6" cy="442.9" r="3.3" fill="url(#gb)"/><circle cx="231.8" cy="443" r="3.3" fill="url(#gb)"/><circle cx="197.3" cy="443.2" r="3.3" fill="url(#gb)"/><circle cx="272.5" cy="443.3" r="3.3" fill="url(#gb)"/><circle cx="162.8" cy="443.4" r="3.3" fill="url(#gb)"/><circle cx="238" cy="443.5" r="3.3" fill="url(#gb)"/><circle cx="203.5" cy="443.7" r="3.3" fill="url(#gb)"/><circle cx="169" cy="443.9" r="3.3" fill="url(#gb)"/><circle cx="244.2" cy="444" r="3.3" fill="url(#gb)"/><circle cx="209.6" cy="444.2" r="3.3" fill="url(#gb)"/><circle cx="175.1" cy="444.4" r="3.3" fill="url(#gb)"/><circle cx="250.3" cy="444.5" r="3.3" fill="url(#gb)"/><circle cx="140.6" cy="444.6" r="3.3" fill="url(#gb)"/><circle cx="215.8" cy="444.7" r="3.3" fill="url(#gb)"/><circle cx="181.3" cy="444.9" r="3.3" fill="url(#gb)"/><circle cx="256.5" cy="444.9" r="3.3" fill="url(#gb)"/><circle cx="222" cy="445.2" r="3.3" fill="url(#gb)"/><circle cx="187.5" cy="445.4" r="3.3" fill="url(#gb)"/><circle cx="262.7" cy="445.4" r="3.3" fill="url(#gb)"/><circle cx="153" cy="445.6" r="3.3" fill="url(#gb)"/><circle cx="228.2" cy="445.7" r="3.3" fill="url(#gb)"/><circle cx="193.7" cy="445.9" r="3.3" fill="url(#gb)"/><circle cx="159.1" cy="446.1" r="3.3" fill="url(#gb)"/><circle cx="234.3" cy="446.1" r="3.3" fill="url(#gb)"/><circle cx="199.8" cy="446.4" r="3.3" fill="url(#gb)"/><circle cx="165.3" cy="446.6" r="3.3" fill="url(#gb)"/><circle cx="240.5" cy="446.6" r="3.3" fill="url(#gb)"/><circle cx="206" cy="446.9" r="3.3" fill="url(#gb)"/><circle cx="171.5" cy="447.1" r="3.3" fill="url(#gb)"/><circle cx="246.7" cy="447.1" r="3.3" fill="url(#gb)"/><circle cx="212.2" cy="447.3" r="3.3" fill="url(#gb)"/><circle cx="177.7" cy="447.6" r="3.3" fill="url(#gb)"/><circle cx="252.9" cy="447.6" r="3.3" fill="url(#gb)"/><circle cx="218.3" cy="447.8" r="3.3" fill="url(#gb)"/><circle cx="183.8" cy="448.1" r="3.3" fill="url(#gb)"/><circle cx="259" cy="448.1" r="3.3" fill="url(#gb)"/><circle cx="149.3" cy="448.3" r="3.3" fill="url(#gb)"/><circle cx="224.5" cy="448.3" r="3.3" fill="url(#gb)"/><circle cx="190" cy="448.5" r="3.3" fill="url(#gb)"/><circle cx="265.2" cy="448.6" r="3.3" fill="url(#gb)"/><circle cx="230.7" cy="448.8" r="3.3" fill="url(#gb)"/><circle cx="196.2" cy="449" r="3.3" fill="url(#gb)"/><circle cx="161.7" cy="449.3" r="3.3" fill="url(#gb)"/><circle cx="236.9" cy="449.3" r="3.3" fill="url(#gb)"/><circle cx="202.4" cy="449.5" r="3.3" fill="url(#gb)"/><circle cx="167.8" cy="449.7" r="3.3" fill="url(#gb)"/><circle cx="243" cy="449.8" r="3.3" fill="url(#gb)"/><circle cx="208.5" cy="450" r="3.3" fill="url(#gb)"/><circle cx="174" cy="450.2" r="3.3" fill="url(#gb)"/><circle cx="249.2" cy="450.3" r="3.3" fill="url(#gb)"/><circle cx="214.7" cy="450.5" r="3.3" fill="url(#gb)"/><circle cx="180.2" cy="450.7" r="3.3" fill="url(#gb)"/><circle cx="255.4" cy="450.8" r="3.3" fill="url(#gb)"/><circle cx="220.9" cy="451" r="3.3" fill="url(#gb)"/><circle cx="186.4" cy="451.2" r="3.3" fill="url(#gb)"/><circle cx="261.6" cy="451.3" r="3.3" fill="url(#gb)"/><circle cx="227" cy="451.5" r="3.3" fill="url(#gb)"/><circle cx="192.5" cy="451.7" r="3.3" fill="url(#gb)"/><circle cx="158" cy="451.9" r="3.3" fill="url(#gb)"/><circle cx="233.2" cy="452" r="3.3" fill="url(#gb)"/><circle cx="198.7" cy="452.2" r="3.3" fill="url(#gb)"/><circle cx="239.4" cy="452.5" r="3.3" fill="url(#gb)"/><circle cx="204.9" cy="452.7" r="3.3" fill="url(#gb)"/><circle cx="170.4" cy="452.9" r="3.3" fill="url(#gb)"/><circle cx="245.6" cy="452.9" r="3.3" fill="url(#gb)"/><circle cx="211.1" cy="453.2" r="3.3" fill="url(#gb)"/><circle cx="176.5" cy="453.4" r="3.3" fill="url(#gb)"/><circle cx="251.7" cy="453.4" r="3.3" fill="url(#gb)"/><circle cx="217.2" cy="453.7" r="3.3" fill="url(#gb)"/><circle cx="182.7" cy="453.9" r="3.3" fill="url(#gb)"/><circle cx="223.4" cy="454.1" r="3.3" fill="url(#gb)"/><circle cx="188.9" cy="454.4" r="3.3" fill="url(#gb)"/><circle cx="229.6" cy="454.6" r="3.3" fill="url(#gb)"/><circle cx="195.1" cy="454.9" r="3.3" fill="url(#gb)"/><circle cx="235.7" cy="455.1" r="3.3" fill="url(#gb)"/><circle cx="201.2" cy="455.3" r="3.3" fill="url(#gb)"/><circle cx="166.7" cy="455.6" r="3.3" fill="url(#gb)"/><circle cx="241.9" cy="455.6" r="3.3" fill="url(#gb)"/><circle cx="207.4" cy="455.8" r="3.3" fill="url(#gb)"/><circle cx="248.1" cy="456.1" r="3.3" fill="url(#gb)"/><circle cx="213.6" cy="456.3" r="3.3" fill="url(#gb)"/><circle cx="179.1" cy="456.5" r="3.3" fill="url(#gb)"/><circle cx="254.3" cy="456.6" r="3.3" fill="url(#gb)"/><circle cx="219.8" cy="456.8" r="3.3" fill="url(#gb)"/><circle cx="185.2" cy="457" r="3.3" fill="url(#gb)"/><circle cx="225.9" cy="457.3" r="3.3" fill="url(#gb)"/><circle cx="191.4" cy="457.5" r="3.3" fill="url(#gb)"/><circle cx="232.1" cy="457.8" r="3.3" fill="url(#gb)"/><circle cx="197.6" cy="458" r="3.3" fill="url(#gb)"/><circle cx="238.3" cy="458.3" r="3.3" fill="url(#gb)"/><circle cx="203.8" cy="458.5" r="3.3" fill="url(#gb)"/><circle cx="244.4" cy="458.8" r="3.3" fill="url(#gb)"/><circle cx="209.9" cy="459" r="3.3" fill="url(#gb)"/><circle cx="175.4" cy="459.2" r="3.3" fill="url(#gb)"/><circle cx="250.6" cy="459.3" r="3.3" fill="url(#gb)"/><circle cx="216.1" cy="459.5" r="3.3" fill="url(#gb)"/><circle cx="222.3" cy="460" r="3.3" fill="url(#gb)"/><circle cx="187.8" cy="460.2" r="3.3" fill="url(#gb)"/><circle cx="228.5" cy="460.5" r="3.3" fill="url(#gb)"/><circle cx="193.9" cy="460.7" r="3.3" fill="url(#gb)"/><circle cx="234.6" cy="460.9" r="3.3" fill="url(#gb)"/><circle cx="200.1" cy="461.2" r="3.3" fill="url(#gb)"/><circle cx="240.8" cy="461.4" r="3.3" fill="url(#gb)"/><circle cx="206.3" cy="461.7" r="3.3" fill="url(#gb)"/><circle cx="212.5" cy="462.1" r="3.3" fill="url(#gb)"/><circle cx="218.6" cy="462.6" r="3.3" fill="url(#gb)"/><circle cx="184.1" cy="462.9" r="3.3" fill="url(#gb)"/><circle cx="224.8" cy="463.1" r="3.3" fill="url(#gb)"/><circle cx="231" cy="463.6" r="3.3" fill="url(#gb)"/><circle cx="196.5" cy="463.8" r="3.3" fill="url(#gb)"/><circle cx="237.2" cy="464.1" r="3.3" fill="url(#gb)"/><circle cx="202.6" cy="464.3" r="3.3" fill="url(#gb)"/><circle cx="243.3" cy="464.6" r="3.3" fill="url(#gb)"/><circle cx="208.8" cy="464.8" r="3.3" fill="url(#gb)"/><circle cx="215" cy="465.3" r="3.3" fill="url(#gb)"/><circle cx="221.2" cy="465.8" r="3.3" fill="url(#gb)"/><circle cx="227.3" cy="466.3" r="3.3" fill="url(#gb)"/><circle cx="192.8" cy="466.5" r="3.3" fill="url(#gb)"/><circle cx="233.5" cy="466.8" r="3.3" fill="url(#gb)"/><circle cx="239.7" cy="467.3" r="3.3" fill="url(#gb)"/><circle cx="205.2" cy="467.5" r="3.3" fill="url(#gb)"/><circle cx="211.3" cy="468" r="3.3" fill="url(#gb)"/><circle cx="217.5" cy="468.5" r="3.3" fill="url(#gb)"/><circle cx="223.7" cy="468.9" r="3.3" fill="url(#gb)"/><circle cx="229.9" cy="469.4" r="3.3" fill="url(#gb)"/><circle cx="201.5" cy="470.1" r="3.3" fill="url(#gb)"/><circle cx="213.9" cy="471.1" r="3.3" fill="url(#gb)"/><circle cx="220" cy="471.6" r="3.3" fill="url(#gb)"/><circle cx="226.2" cy="472.1" r="3.3" fill="url(#gb)"/><circle cx="232.4" cy="472.6" r="3.3" fill="url(#gb)"/><circle cx="210.2" cy="473.8" r="3.3" fill="url(#gb)"/><circle cx="222.6" cy="474.8" r="3.3" fill="url(#gb)"/><circle cx="228.7" cy="475.3" r="3.3" fill="url(#gb)"/><circle cx="218.9" cy="477.4" r="3.3" fill="url(#gb)"/><circle cx="70.8" cy="367.8" r="4.7" fill="url(#gr)"/><circle cx="84.3" cy="362.5" r="4.7" fill="url(#gr)"/><circle cx="107.9" cy="346.7" r="4.7" fill="url(#gr)"/><circle cx="110.8" cy="359.3" r="4.7" fill="url(#gr)"/><circle cx="133.4" cy="357.8" r="4.7" fill="url(#gr)"/><circle cx="104.8" cy="382.9" r="4.7" fill="url(#gr)"/><circle cx="97.5" cy="387.7" r="4.7" fill="url(#gr)"/><circle cx="107" cy="410.3" r="4.7" fill="url(#gr)"/><circle cx="100.1" cy="415" r="4.7" fill="url(#gr)"/><circle cx="147.9" cy="401.2" r="4.7" fill="url(#gr)"/><circle cx="170.2" cy="399.6" r="4.7" fill="url(#gr)"/><circle cx="147.3" cy="416" r="4.7" fill="url(#gr)"/><circle cx="163" cy="429.5" r="4.7" fill="url(#gr)"/><circle cx="167.4" cy="450.6" r="4.7" fill="url(#gr)"/><circle cx="186.6" cy="437.4" r="4.7" fill="url(#gr)"/><circle cx="207.7" cy="441.8" r="4.7" fill="url(#gr)"/><circle cx="194.5" cy="455.9" r="4.7" fill="url(#gr)"/><circle cx="198.2" cy="389.9" r="4.7" fill="url(#gr)"/><circle cx="245.4" cy="429.5" r="4.7" fill="url(#gr)"/><circle cx="267.5" cy="419.1" r="4.7" fill="url(#gr)"/><circle cx="268.1" cy="428.6" r="4.7" fill="url(#gr)"/><circle cx="230.6" cy="464.7" r="4.7" fill="url(#gr)"/></g>
<g><circle cx="446.6" cy="168.1" r="3.2" fill="#3b78c6"/><circle cx="435.7" cy="176.1" r="3.2" fill="#3b78c6"/><circle cx="424.8" cy="184.1" r="3.2" fill="#3b78c6"/><circle cx="413.8" cy="192.1" r="3.2" fill="#3b78c6"/><circle cx="402.9" cy="200.1" r="3.2" fill="#3b78c6"/><circle cx="391.9" cy="208.1" r="3.2" fill="#3b78c6"/><circle cx="456.5" cy="165.9" r="3.2" fill="#3b78c6"/><circle cx="455.3" cy="171.7" r="3.2" fill="#3b78c6"/><circle cx="445.5" cy="173.9" r="3.2" fill="#3b78c6"/><circle cx="444.4" cy="179.7" r="3.2" fill="#3b78c6"/><circle cx="434.6" cy="181.9" r="3.2" fill="#3b78c6"/><circle cx="433.5" cy="187.7" r="3.2" fill="#3b78c6"/><circle cx="423.6" cy="189.9" r="3.2" fill="#3b78c6"/><circle cx="422.5" cy="195.7" r="3.2" fill="#3b78c6"/><circle cx="412.7" cy="197.9" r="3.2" fill="#3b78c6"/><circle cx="411.6" cy="203.7" r="3.2" fill="#3b78c6"/><circle cx="401.8" cy="205.9" r="3.2" fill="#3b78c6"/><circle cx="390.8" cy="213.9" r="3.2" fill="#3b78c6"/><circle cx="465.2" cy="169.6" r="3.2" fill="#3b78c6"/><circle cx="464" cy="175.4" r="3.2" fill="#3b78c6"/><circle cx="454.2" cy="177.6" r="3.2" fill="#3b78c6"/><circle cx="453.1" cy="183.4" r="3.2" fill="#3b78c6"/><circle cx="443.3" cy="185.6" r="3.2" fill="#3b78c6"/><circle cx="421.4" cy="201.6" r="3.2" fill="#3b78c6"/><circle cx="420.3" cy="207.4" r="3.2" fill="#3b78c6"/><circle cx="410.5" cy="209.6" r="3.2" fill="#3b78c6"/><circle cx="473.9" cy="173.2" r="3.2" fill="#3b78c6"/><circle cx="472.7" cy="179" r="3.2" fill="#3b78c6"/><circle cx="462.9" cy="181.2" r="3.2" fill="#3b78c6"/><circle cx="461.8" cy="187" r="3.2" fill="#3b78c6"/><circle cx="430.1" cy="205.2" r="3.2" fill="#3b78c6"/><circle cx="418" cy="219" r="3.2" fill="#3b78c6"/><circle cx="482.6" cy="176.8" r="3.2" fill="#3b78c6"/><circle cx="481.4" cy="182.7" r="3.2" fill="#3b78c6"/><circle cx="471.6" cy="184.8" r="3.2" fill="#3b78c6"/><circle cx="470.5" cy="190.7" r="3.2" fill="#3b78c6"/><circle cx="448.6" cy="206.7" r="3.2" fill="#3b78c6"/><circle cx="438.8" cy="208.8" r="3.2" fill="#3b78c6"/><circle cx="437.7" cy="214.7" r="3.2" fill="#3b78c6"/><circle cx="426.7" cy="222.7" r="3.2" fill="#3b78c6"/><circle cx="416.9" cy="224.8" r="3.2" fill="#3b78c6"/><circle cx="491.3" cy="180.5" r="3.2" fill="#3b78c6"/><circle cx="490.1" cy="186.3" r="3.2" fill="#3b78c6"/><circle cx="480.3" cy="188.5" r="3.2" fill="#3b78c6"/><circle cx="479.2" cy="194.3" r="3.2" fill="#3b78c6"/><circle cx="469.4" cy="196.5" r="3.2" fill="#3b78c6"/><circle cx="468.3" cy="202.3" r="3.2" fill="#3b78c6"/><circle cx="458.4" cy="204.5" r="3.2" fill="#3b78c6"/><circle cx="457.3" cy="210.3" r="3.2" fill="#3b78c6"/><circle cx="447.5" cy="212.5" r="3.2" fill="#3b78c6"/><circle cx="446.4" cy="218.3" r="3.2" fill="#3b78c6"/><circle cx="436.6" cy="220.5" r="3.2" fill="#3b78c6"/><circle cx="435.4" cy="226.3" r="3.2" fill="#3b78c6"/><circle cx="425.6" cy="228.5" r="3.2" fill="#3b78c6"/><circle cx="500" cy="184.1" r="3.2" fill="#3b78c6"/><circle cx="498.8" cy="190" r="3.2" fill="#3b78c6"/><circle cx="489" cy="192.1" r="3.2" fill="#3b78c6"/><circle cx="487.9" cy="198" r="3.2" fill="#3b78c6"/><circle cx="478.1" cy="200.1" r="3.2" fill="#3b78c6"/><circle cx="477" cy="206" r="3.2" fill="#3b78c6"/><circle cx="467.1" cy="208.1" r="3.2" fill="#3b78c6"/><circle cx="466" cy="214" r="3.2" fill="#3b78c6"/><circle cx="456.2" cy="216.1" r="3.2" fill="#3b78c6"/><circle cx="455.1" cy="222" r="3.2" fill="#3b78c6"/><circle cx="445.3" cy="224.1" r="3.2" fill="#3b78c6"/><circle cx="444.1" cy="230" r="3.2" fill="#3b78c6"/><circle cx="434.3" cy="232.1" r="3.2" fill="#3b78c6"/><circle cx="508.7" cy="187.8" r="3.2" fill="#3b78c6"/><circle cx="507.5" cy="193.6" r="3.2" fill="#3b78c6"/><circle cx="497.7" cy="195.8" r="3.2" fill="#3b78c6"/><circle cx="496.6" cy="201.6" r="3.2" fill="#3b78c6"/><circle cx="486.8" cy="203.8" r="3.2" fill="#3b78c6"/><circle cx="485.7" cy="209.6" r="3.2" fill="#3b78c6"/><circle cx="475.8" cy="211.8" r="3.2" fill="#3b78c6"/><circle cx="474.7" cy="217.6" r="3.2" fill="#3b78c6"/><circle cx="464.9" cy="219.8" r="3.2" fill="#3b78c6"/><circle cx="463.8" cy="225.6" r="3.2" fill="#3b78c6"/><circle cx="454" cy="227.8" r="3.2" fill="#3b78c6"/><circle cx="452.8" cy="233.6" r="3.2" fill="#3b78c6"/><circle cx="443" cy="235.8" r="3.2" fill="#3b78c6"/><circle cx="517.4" cy="191.4" r="3.2" fill="#3b78c6"/><circle cx="516.2" cy="197.2" r="3.2" fill="#3b78c6"/><circle cx="506.4" cy="199.4" r="3.2" fill="#3b78c6"/><circle cx="505.3" cy="205.2" r="3.2" fill="#3b78c6"/><circle cx="495.5" cy="207.4" r="3.2" fill="#3b78c6"/><circle cx="494.4" cy="213.2" r="3.2" fill="#3b78c6"/><circle cx="484.5" cy="215.4" r="3.2" fill="#3b78c6"/><circle cx="483.4" cy="221.2" r="3.2" fill="#3b78c6"/><circle cx="473.6" cy="223.4" r="3.2" fill="#3b78c6"/><circle cx="472.5" cy="229.2" r="3.2" fill="#3b78c6"/><circle cx="462.7" cy="231.4" r="3.2" fill="#3b78c6"/><circle cx="461.5" cy="237.2" r="3.2" fill="#3b78c6"/><circle cx="451.7" cy="239.4" r="3.2" fill="#3b78c6"/><circle cx="515.1" cy="203.1" r="3.2" fill="#3b78c6"/><circle cx="514" cy="208.9" r="3.2" fill="#3b78c6"/><circle cx="504.2" cy="211.1" r="3.2" fill="#3b78c6"/><circle cx="503.1" cy="216.9" r="3.2" fill="#3b78c6"/><circle cx="493.2" cy="219.1" r="3.2" fill="#3b78c6"/><circle cx="471.4" cy="235.1" r="3.2" fill="#3b78c6"/><circle cx="470.2" cy="240.9" r="3.2" fill="#3b78c6"/><circle cx="460.4" cy="243.1" r="3.2" fill="#3b78c6"/><circle cx="512.9" cy="214.7" r="3.2" fill="#3b78c6"/><circle cx="511.8" cy="220.5" r="3.2" fill="#3b78c6"/><circle cx="501.9" cy="222.7" r="3.2" fill="#3b78c6"/><circle cx="489.9" cy="236.5" r="3.2" fill="#3b78c6"/><circle cx="480.1" cy="238.7" r="3.2" fill="#3b78c6"/><circle cx="478.9" cy="244.5" r="3.2" fill="#3b78c6"/><circle cx="469.1" cy="246.7" r="3.2" fill="#3b78c6"/><circle cx="543.5" cy="202.4" r="3.2" fill="#3b78c6"/><circle cx="521.6" cy="218.4" r="3.2" fill="#3b78c6"/><circle cx="498.6" cy="240.2" r="3.2" fill="#3b78c6"/><circle cx="488.8" cy="242.4" r="3.2" fill="#3b78c6"/><circle cx="487.6" cy="248.2" r="3.2" fill="#3b78c6"/><circle cx="477.8" cy="250.4" r="3.2" fill="#3b78c6"/><circle cx="540.1" cy="219.8" r="3.2" fill="#3b78c6"/><circle cx="530.3" cy="222" r="3.2" fill="#3b78c6"/><circle cx="529.2" cy="227.8" r="3.2" fill="#3b78c6"/><circle cx="497.5" cy="246" r="3.2" fill="#3b78c6"/><circle cx="496.3" cy="251.8" r="3.2" fill="#3b78c6"/><circle cx="486.5" cy="254" r="3.2" fill="#3b78c6"/><circle cx="548.8" cy="223.5" r="3.2" fill="#3b78c6"/><circle cx="539" cy="225.7" r="3.2" fill="#3b78c6"/><circle cx="537.9" cy="231.5" r="3.2" fill="#3b78c6"/><circle cx="528" cy="233.7" r="3.2" fill="#3b78c6"/><circle cx="516" cy="247.5" r="3.2" fill="#3b78c6"/><circle cx="506.2" cy="249.7" r="3.2" fill="#3b78c6"/><circle cx="505" cy="255.5" r="3.2" fill="#3b78c6"/><circle cx="495.2" cy="257.7" r="3.2" fill="#3b78c6"/><circle cx="569.6" cy="213.3" r="3.2" fill="#3b78c6"/><circle cx="568.4" cy="219.1" r="3.2" fill="#3b78c6"/><circle cx="558.6" cy="221.3" r="3.2" fill="#3b78c6"/><circle cx="557.5" cy="227.1" r="3.2" fill="#3b78c6"/><circle cx="547.7" cy="229.3" r="3.2" fill="#3b78c6"/><circle cx="546.6" cy="235.1" r="3.2" fill="#3b78c6"/><circle cx="536.7" cy="237.3" r="3.2" fill="#3b78c6"/><circle cx="535.6" cy="243.1" r="3.2" fill="#3b78c6"/><circle cx="524.7" cy="251.1" r="3.2" fill="#3b78c6"/><circle cx="514.9" cy="253.3" r="3.2" fill="#3b78c6"/><circle cx="513.7" cy="259.1" r="3.2" fill="#3b78c6"/><circle cx="503.9" cy="261.3" r="3.2" fill="#3b78c6"/><circle cx="502.8" cy="267.1" r="3.2" fill="#3b78c6"/><circle cx="578.3" cy="216.9" r="3.2" fill="#3b78c6"/><circle cx="577.1" cy="222.8" r="3.2" fill="#3b78c6"/><circle cx="567.3" cy="224.9" r="3.2" fill="#3b78c6"/><circle cx="566.2" cy="230.8" r="3.2" fill="#3b78c6"/><circle cx="556.4" cy="232.9" r="3.2" fill="#3b78c6"/><circle cx="555.3" cy="238.8" r="3.2" fill="#3b78c6"/><circle cx="545.4" cy="240.9" r="3.2" fill="#3b78c6"/><circle cx="544.3" cy="246.8" r="3.2" fill="#3b78c6"/><circle cx="534.5" cy="248.9" r="3.2" fill="#3b78c6"/><circle cx="533.4" cy="254.8" r="3.2" fill="#3b78c6"/><circle cx="523.6" cy="256.9" r="3.2" fill="#3b78c6"/><circle cx="522.4" cy="262.8" r="3.2" fill="#3b78c6"/><circle cx="512.6" cy="264.9" r="3.2" fill="#3b78c6"/><circle cx="511.5" cy="270.8" r="3.2" fill="#3b78c6"/><circle cx="587" cy="220.6" r="3.2" fill="#3b78c6"/><circle cx="585.8" cy="226.4" r="3.2" fill="#3b78c6"/><circle cx="576" cy="228.6" r="3.2" fill="#3b78c6"/><circle cx="574.9" cy="234.4" r="3.2" fill="#3b78c6"/><circle cx="565.1" cy="236.6" r="3.2" fill="#3b78c6"/><circle cx="564" cy="242.4" r="3.2" fill="#3b78c6"/><circle cx="554.1" cy="244.6" r="3.2" fill="#3b78c6"/><circle cx="553" cy="250.4" r="3.2" fill="#3b78c6"/><circle cx="543.2" cy="252.6" r="3.2" fill="#3b78c6"/><circle cx="542.1" cy="258.4" r="3.2" fill="#3b78c6"/><circle cx="532.3" cy="260.6" r="3.2" fill="#3b78c6"/><circle cx="531.1" cy="266.4" r="3.2" fill="#3b78c6"/><circle cx="521.3" cy="268.6" r="3.2" fill="#3b78c6"/><circle cx="520.2" cy="274.4" r="3.2" fill="#3b78c6"/><circle cx="595.7" cy="224.2" r="3.2" fill="#3b78c6"/><circle cx="594.5" cy="230.1" r="3.2" fill="#3b78c6"/><circle cx="584.7" cy="232.2" r="3.2" fill="#3b78c6"/><circle cx="583.6" cy="238.1" r="3.2" fill="#3b78c6"/><circle cx="573.8" cy="240.2" r="3.2" fill="#3b78c6"/><circle cx="572.7" cy="246.1" r="3.2" fill="#3b78c6"/><circle cx="562.8" cy="248.2" r="3.2" fill="#3b78c6"/><circle cx="561.7" cy="254.1" r="3.2" fill="#3b78c6"/><circle cx="551.9" cy="256.2" r="3.2" fill="#3b78c6"/><circle cx="550.8" cy="262.1" r="3.2" fill="#3b78c6"/><circle cx="541" cy="264.2" r="3.2" fill="#3b78c6"/><circle cx="539.8" cy="270.1" r="3.2" fill="#3b78c6"/><circle cx="530" cy="272.2" r="3.2" fill="#3b78c6"/><circle cx="528.9" cy="278.1" r="3.2" fill="#3b78c6"/><circle cx="604.4" cy="227.9" r="3.2" fill="#3b78c6"/><circle cx="603.2" cy="233.7" r="3.2" fill="#3b78c6"/><circle cx="593.4" cy="235.9" r="3.2" fill="#3b78c6"/><circle cx="592.3" cy="241.7" r="3.2" fill="#3b78c6"/><circle cx="582.5" cy="243.9" r="3.2" fill="#3b78c6"/><circle cx="560.6" cy="259.9" r="3.2" fill="#3b78c6"/><circle cx="559.5" cy="265.7" r="3.2" fill="#3b78c6"/><circle cx="549.7" cy="267.9" r="3.2" fill="#3b78c6"/><circle cx="548.5" cy="273.7" r="3.2" fill="#3b78c6"/><circle cx="538.7" cy="275.9" r="3.2" fill="#3b78c6"/><circle cx="613.1" cy="231.5" r="3.2" fill="#3b78c6"/><circle cx="611.9" cy="237.3" r="3.2" fill="#3b78c6"/><circle cx="591.2" cy="247.5" r="3.2" fill="#3b78c6"/><circle cx="569.3" cy="263.5" r="3.2" fill="#3b78c6"/><circle cx="568.2" cy="269.3" r="3.2" fill="#3b78c6"/><circle cx="558.4" cy="271.5" r="3.2" fill="#3b78c6"/><circle cx="557.2" cy="277.3" r="3.2" fill="#3b78c6"/><circle cx="547.4" cy="279.5" r="3.2" fill="#3b78c6"/><circle cx="621.8" cy="235.2" r="3.2" fill="#3b78c6"/><circle cx="620.6" cy="241" r="3.2" fill="#3b78c6"/><circle cx="598.8" cy="257" r="3.2" fill="#3b78c6"/><circle cx="578" cy="267.2" r="3.2" fill="#3b78c6"/><circle cx="576.9" cy="273" r="3.2" fill="#3b78c6"/><circle cx="567.1" cy="275.2" r="3.2" fill="#3b78c6"/><circle cx="565.9" cy="281" r="3.2" fill="#3b78c6"/><circle cx="556.1" cy="283.2" r="3.2" fill="#3b78c6"/><circle cx="630.5" cy="238.8" r="3.2" fill="#3b78c6"/><circle cx="629.3" cy="244.6" r="3.2" fill="#3b78c6"/><circle cx="619.5" cy="246.8" r="3.2" fill="#3b78c6"/><circle cx="618.4" cy="252.6" r="3.2" fill="#3b78c6"/><circle cx="607.5" cy="260.6" r="3.2" fill="#3b78c6"/><circle cx="596.5" cy="268.6" r="3.2" fill="#3b78c6"/><circle cx="586.7" cy="270.8" r="3.2" fill="#3b78c6"/><circle cx="585.6" cy="276.6" r="3.2" fill="#3b78c6"/><circle cx="575.8" cy="278.8" r="3.2" fill="#3b78c6"/><circle cx="574.6" cy="284.6" r="3.2" fill="#3b78c6"/><circle cx="564.8" cy="286.8" r="3.2" fill="#3b78c6"/><circle cx="639.2" cy="242.5" r="3.2" fill="#3b78c6"/><circle cx="638" cy="248.3" r="3.2" fill="#3b78c6"/><circle cx="628.2" cy="250.5" r="3.2" fill="#3b78c6"/><circle cx="627.1" cy="256.3" r="3.2" fill="#3b78c6"/><circle cx="617.3" cy="258.5" r="3.2" fill="#3b78c6"/><circle cx="616.2" cy="264.3" r="3.2" fill="#3b78c6"/><circle cx="606.3" cy="266.5" r="3.2" fill="#3b78c6"/><circle cx="605.2" cy="272.3" r="3.2" fill="#3b78c6"/><circle cx="595.4" cy="274.5" r="3.2" fill="#3b78c6"/><circle cx="594.3" cy="280.3" r="3.2" fill="#3b78c6"/><circle cx="584.5" cy="282.5" r="3.2" fill="#3b78c6"/><circle cx="583.3" cy="288.3" r="3.2" fill="#3b78c6"/><circle cx="573.5" cy="290.5" r="3.2" fill="#3b78c6"/><circle cx="647.9" cy="246.1" r="3.2" fill="#3b78c6"/><circle cx="636.9" cy="254.1" r="3.2" fill="#3b78c6"/><circle cx="626" cy="262.1" r="3.2" fill="#3b78c6"/><circle cx="615" cy="270.1" r="3.2" fill="#3b78c6"/><circle cx="604.1" cy="278.1" r="3.2" fill="#3b78c6"/><circle cx="593.2" cy="286.1" r="3.2" fill="#3b78c6"/><circle cx="582.2" cy="294.1" r="3.2" fill="#3b78c6"/><circle cx="447.3" cy="158.4" r="4.7" fill="url(#gr)"/><circle cx="451" cy="159.7" r="3.75" fill="url(#gb)"/><circle cx="474.9" cy="163.4" r="4.7" fill="url(#gr)"/><circle cx="453.7" cy="162.9" r="3.75" fill="url(#gb)"/><circle cx="460.7" cy="163.3" r="3.75" fill="url(#gb)"/><circle cx="450.5" cy="164.8" r="3.75" fill="url(#gb)"/><circle cx="443.4" cy="165.4" r="3.75" fill="url(#gb)"/><circle cx="462.9" cy="166" r="3.75" fill="url(#gb)"/><circle cx="433.1" cy="167.8" r="4.7" fill="url(#gr)"/><circle cx="468.1" cy="167.1" r="3.75" fill="url(#gb)"/><circle cx="440.1" cy="167.2" r="3.75" fill="url(#gb)"/><circle cx="452.5" cy="168" r="3.75" fill="url(#gb)"/><circle cx="459.4" cy="169.2" r="3.75" fill="url(#gb)"/><circle cx="471.5" cy="169.4" r="3.75" fill="url(#gb)"/><circle cx="477.1" cy="170.2" r="3.75" fill="url(#gb)"/><circle cx="443.7" cy="170.7" r="3.75" fill="url(#gb)"/><circle cx="449.7" cy="171.9" r="3.75" fill="url(#gb)"/><circle cx="461.8" cy="172" r="3.75" fill="url(#gb)"/><circle cx="433.4" cy="172.4" r="3.75" fill="url(#gb)"/><circle cx="467.9" cy="172.7" r="3.75" fill="url(#gb)"/><circle cx="439.8" cy="173.4" r="3.75" fill="url(#gb)"/><circle cx="480.5" cy="173.9" r="3.75" fill="url(#gb)"/><circle cx="423.7" cy="175" r="4.7" fill="url(#gr)"/><circle cx="485.5" cy="174.5" r="3.75" fill="url(#gb)"/><circle cx="451.1" cy="174.8" r="3.75" fill="url(#gb)"/><circle cx="458.1" cy="175.2" r="3.75" fill="url(#gb)"/><circle cx="469.7" cy="175.6" r="3.75" fill="url(#gb)"/><circle cx="429.7" cy="176.1" r="3.75" fill="url(#gb)"/><circle cx="476.8" cy="176.1" r="3.75" fill="url(#gb)"/><circle cx="447.9" cy="176.6" r="3.75" fill="url(#gb)"/><circle cx="441.6" cy="177" r="3.75" fill="url(#gb)"/><circle cx="488.3" cy="177.1" r="3.75" fill="url(#gb)"/><circle cx="459.7" cy="177.4" r="3.75" fill="url(#gb)"/><circle cx="494.7" cy="178" r="3.75" fill="url(#gb)"/><circle cx="467" cy="178.2" r="3.75" fill="url(#gb)"/><circle cx="438.7" cy="178.6" r="3.75" fill="url(#gb)"/><circle cx="432.1" cy="179.1" r="3.75" fill="url(#gb)"/><circle cx="485.3" cy="180" r="3.75" fill="url(#gb)"/><circle cx="478.8" cy="180.1" r="3.75" fill="url(#gb)"/><circle cx="450.2" cy="180.2" r="3.75" fill="url(#gb)"/><circle cx="428.6" cy="180.8" r="3.75" fill="url(#gb)"/><circle cx="497.8" cy="180.8" r="3.75" fill="url(#gb)"/><circle cx="422.6" cy="181.1" r="3.75" fill="url(#gb)"/><circle cx="457" cy="181.4" r="3.75" fill="url(#gb)"/><circle cx="468.9" cy="181.6" r="3.75" fill="url(#gb)"/><circle cx="440.9" cy="181.8" r="3.75" fill="url(#gb)"/><circle cx="475.4" cy="182" r="3.75" fill="url(#gb)"/><circle cx="503.9" cy="182.1" r="3.75" fill="url(#gb)"/><circle cx="447" cy="182.6" r="3.75" fill="url(#gb)"/><circle cx="418.3" cy="182.9" r="3.75" fill="url(#gb)"/><circle cx="487.5" cy="183" r="3.75" fill="url(#gb)"/><circle cx="459.9" cy="183.4" r="3.75" fill="url(#gb)"/><circle cx="494.2" cy="183.8" r="3.75" fill="url(#gb)"/><circle cx="465.3" cy="184.2" r="3.75" fill="url(#gb)"/><circle cx="505.5" cy="184.4" r="3.75" fill="url(#gb)"/><circle cx="437.4" cy="184.8" r="3.75" fill="url(#gb)"/><circle cx="431.5" cy="185.3" r="3.75" fill="url(#gb)"/><circle cx="449.3" cy="185.8" r="3.75" fill="url(#gb)"/><circle cx="511.8" cy="185.8" r="3.75" fill="url(#gb)"/><circle cx="477.4" cy="185.8" r="3.75" fill="url(#gb)"/><circle cx="484" cy="186.1" r="3.75" fill="url(#gb)"/><circle cx="495.9" cy="186.4" r="3.75" fill="url(#gb)"/><circle cx="421.6" cy="186.7" r="3.75" fill="url(#gb)"/><circle cx="467.8" cy="187.1" r="3.75" fill="url(#gb)"/><circle cx="454.9" cy="187.2" r="3.75" fill="url(#gb)"/><circle cx="502.6" cy="187.8" r="3.75" fill="url(#gb)"/><circle cx="427.3" cy="187.9" r="3.75" fill="url(#gb)"/><circle cx="439.3" cy="188.1" r="3.75" fill="url(#gb)"/><circle cx="535.4" cy="189.2" r="4.7" fill="url(#gr)"/><circle cx="474.1" cy="188.4" r="3.75" fill="url(#gb)"/><circle cx="514.8" cy="188.4" r="3.75" fill="url(#gb)"/><circle cx="542.3" cy="189.8" r="4.7" fill="url(#gr)"/><circle cx="445.6" cy="188.8" r="3.75" fill="url(#gb)"/><circle cx="521.4" cy="189.1" r="3.75" fill="url(#gb)"/><circle cx="486.4" cy="189.3" r="3.75" fill="url(#gb)"/><circle cx="411.6" cy="189.5" r="3.75" fill="url(#gb)"/><circle cx="492.3" cy="189.6" r="3.75" fill="url(#gb)"/><circle cx="429.5" cy="189.8" r="3.75" fill="url(#gb)"/><circle cx="417.8" cy="190" r="3.75" fill="url(#gb)"/><circle cx="436.4" cy="190.2" r="3.75" fill="url(#gb)"/><circle cx="458.7" cy="190.4" r="3.75" fill="url(#gb)"/><circle cx="401" cy="191.4" r="4.7" fill="url(#gr)"/><circle cx="505.5" cy="190.5" r="3.75" fill="url(#gb)"/><circle cx="464.4" cy="190.6" r="3.75" fill="url(#gb)"/><circle cx="482.8" cy="191.3" r="3.75" fill="url(#gb)"/><circle cx="511.1" cy="191.4" r="3.75" fill="url(#gb)"/><circle cx="476.7" cy="191.4" r="3.75" fill="url(#gb)"/><circle cx="407.5" cy="192" r="3.75" fill="url(#gb)"/><circle cx="523.2" cy="192.2" r="3.75" fill="url(#gb)"/><circle cx="426.3" cy="192.4" r="3.75" fill="url(#gb)"/><circle cx="419.6" cy="192.4" r="3.75" fill="url(#gb)"/><circle cx="495.5" cy="192.5" r="3.75" fill="url(#gb)"/><circle cx="530.1" cy="192.7" r="3.75" fill="url(#gb)"/><circle cx="501.3" cy="193.4" r="3.75" fill="url(#gb)"/><circle cx="472.4" cy="193.7" r="3.75" fill="url(#gb)"/><circle cx="466.4" cy="193.7" r="3.75" fill="url(#gb)"/><circle cx="513.4" cy="194.4" r="3.75" fill="url(#gb)"/><circle cx="485.2" cy="194.7" r="3.75" fill="url(#gb)"/><circle cx="416.5" cy="194.8" r="3.75" fill="url(#gb)"/><circle cx="457.5" cy="194.8" r="3.75" fill="url(#gb)"/><circle cx="520.1" cy="195" r="3.75" fill="url(#gb)"/><circle cx="491.4" cy="195.1" r="3.75" fill="url(#gb)"/><circle cx="410.1" cy="195.4" r="3.75" fill="url(#gb)"/><circle cx="428.4" cy="195.8" r="3.75" fill="url(#gb)"/><circle cx="537.8" cy="195.9" r="3.75" fill="url(#gb)"/><circle cx="504.4" cy="196.1" r="3.75" fill="url(#gb)"/><circle cx="463.8" cy="196.4" r="3.75" fill="url(#gb)"/><circle cx="399.8" cy="196.5" r="3.75" fill="url(#gb)"/><circle cx="407.1" cy="196.9" r="3.75" fill="url(#gb)"/><circle cx="510.7" cy="197" r="3.75" fill="url(#gb)"/><circle cx="435" cy="197" r="3.75" fill="url(#gb)"/><circle cx="522" cy="197.3" r="3.75" fill="url(#gb)"/><circle cx="481.1" cy="197.5" r="3.75" fill="url(#gb)"/><circle cx="475.4" cy="197.5" r="3.75" fill="url(#gb)"/><circle cx="494" cy="198.1" r="3.75" fill="url(#gb)"/><circle cx="425.5" cy="198.5" r="3.75" fill="url(#gb)"/><circle cx="540.6" cy="198.6" r="3.75" fill="url(#gb)"/><circle cx="418.2" cy="198.9" r="3.75" fill="url(#gb)"/><circle cx="546.4" cy="199.1" r="3.75" fill="url(#gb)"/><circle cx="512.6" cy="199.4" r="3.75" fill="url(#gb)"/><circle cx="472.5" cy="199.5" r="3.75" fill="url(#gb)"/><circle cx="397.4" cy="199.5" r="3.75" fill="url(#gb)"/><circle cx="466.3" cy="199.6" r="3.75" fill="url(#gb)"/><circle cx="500.6" cy="199.6" r="3.75" fill="url(#gb)"/><circle cx="409.6" cy="200.4" r="3.75" fill="url(#gb)"/><circle cx="484.9" cy="200.5" r="3.75" fill="url(#gb)"/><circle cx="518.6" cy="200.7" r="3.75" fill="url(#gb)"/><circle cx="490" cy="201.4" r="3.75" fill="url(#gb)"/><circle cx="415" cy="201.7" r="3.75" fill="url(#gb)"/><circle cx="461.7" cy="201.8" r="3.75" fill="url(#gb)"/><circle cx="456.1" cy="201.8" r="3.75" fill="url(#gb)"/><circle cx="427.1" cy="202" r="3.75" fill="url(#gb)"/><circle cx="503.1" cy="202.3" r="3.75" fill="url(#gb)"/><circle cx="508.9" cy="202.4" r="3.75" fill="url(#gb)"/><circle cx="570" cy="203.4" r="4.7" fill="url(#gr)"/><circle cx="537.3" cy="202.5" r="3.75" fill="url(#gb)"/><circle cx="399.4" cy="202.5" r="3.75" fill="url(#gb)"/><circle cx="480.9" cy="202.8" r="3.75" fill="url(#gb)"/><circle cx="549.2" cy="202.8" r="3.75" fill="url(#gb)"/><circle cx="474.7" cy="203.2" r="3.75" fill="url(#gb)"/><circle cx="433.6" cy="203.2" r="3.75" fill="url(#gb)"/><circle cx="405.3" cy="203.3" r="3.75" fill="url(#gb)"/><circle cx="445.8" cy="203.6" r="3.75" fill="url(#gb)"/><circle cx="555.2" cy="203.6" r="3.75" fill="url(#gb)"/><circle cx="451.6" cy="203.7" r="3.75" fill="url(#gb)"/><circle cx="521.7" cy="203.9" r="3.75" fill="url(#gb)"/><circle cx="417.5" cy="204" r="3.75" fill="url(#gb)"/><circle cx="424.2" cy="204.2" r="3.75" fill="url(#gb)"/><circle cx="499.2" cy="204.3" r="3.75" fill="url(#gb)"/><circle cx="527.2" cy="204.6" r="3.75" fill="url(#gb)"/><circle cx="545.4" cy="204.8" r="3.75" fill="url(#gb)"/><circle cx="539.7" cy="204.9" r="3.75" fill="url(#gb)"/><circle cx="493.2" cy="204.9" r="3.75" fill="url(#gb)"/><circle cx="389.2" cy="205.1" r="3.75" fill="url(#gb)"/><circle cx="395.6" cy="205.3" r="3.75" fill="url(#gb)"/><circle cx="436.9" cy="205.3" r="3.75" fill="url(#gb)"/><circle cx="511.3" cy="205.3" r="3.75" fill="url(#gb)"/><circle cx="464.1" cy="205.4" r="3.75" fill="url(#gb)"/><circle cx="471" cy="205.5" r="3.75" fill="url(#gb)"/><circle cx="517.8" cy="205.7" r="3.75" fill="url(#gb)"/><circle cx="558.9" cy="206.1" r="3.75" fill="url(#gb)"/><circle cx="482.7" cy="206.1" r="3.75" fill="url(#gb)"/><circle cx="442.3" cy="206.1" r="3.75" fill="url(#gb)"/><circle cx="564.7" cy="206.4" r="3.75" fill="url(#gb)"/><circle cx="408.1" cy="206.5" r="3.75" fill="url(#gb)"/><circle cx="489.8" cy="206.6" r="3.75" fill="url(#gb)"/><circle cx="414.6" cy="206.8" r="3.75" fill="url(#gb)"/><circle cx="455.2" cy="207.4" r="3.75" fill="url(#gb)"/><circle cx="426.7" cy="207.9" r="3.75" fill="url(#gb)"/><circle cx="501.9" cy="208.1" r="3.75" fill="url(#gb)"/><circle cx="385.9" cy="208.2" r="3.75" fill="url(#gb)"/><circle cx="461.2" cy="208.2" r="3.75" fill="url(#gb)"/><circle cx="507.9" cy="208.5" r="3.75" fill="url(#gb)"/><circle cx="398.7" cy="208.6" r="3.75" fill="url(#gb)"/><circle cx="445.4" cy="208.6" r="3.75" fill="url(#gb)"/><circle cx="368.5" cy="208.8" r="3.75" fill="url(#gb)"/><circle cx="473.3" cy="208.8" r="3.75" fill="url(#gb)"/><circle cx="433" cy="208.8" r="3.75" fill="url(#gb)"/><circle cx="374.6" cy="209" r="3.75" fill="url(#gb)"/><circle cx="404.4" cy="209.2" r="3.75" fill="url(#gb)"/><circle cx="526.6" cy="209.4" r="3.75" fill="url(#gb)"/><circle cx="479" cy="209.4" r="3.75" fill="url(#gb)"/><circle cx="520.7" cy="209.5" r="3.75" fill="url(#gb)"/><circle cx="492" cy="209.6" r="3.75" fill="url(#gb)"/><circle cx="417.1" cy="209.6" r="3.75" fill="url(#gb)"/><circle cx="451.5" cy="209.9" r="3.75" fill="url(#gb)"/><circle cx="539" cy="210.2" r="3.75" fill="url(#gb)"/><circle cx="422.5" cy="210.3" r="3.75" fill="url(#gb)"/><circle cx="566.7" cy="210.6" r="3.75" fill="url(#gb)"/><circle cx="470.2" cy="210.8" r="3.75" fill="url(#gb)"/><circle cx="434.6" cy="210.9" r="3.75" fill="url(#gb)"/><circle cx="497.6" cy="211.1" r="3.75" fill="url(#gb)"/><circle cx="573.6" cy="211.2" r="3.75" fill="url(#gb)"/><circle cx="462.9" cy="211.2" r="3.75" fill="url(#gb)"/><circle cx="509.9" cy="211.2" r="3.75" fill="url(#gb)"/><circle cx="545.5" cy="211.3" r="3.75" fill="url(#gb)"/><circle cx="388.5" cy="211.4" r="3.75" fill="url(#gb)"/><circle cx="440.7" cy="211.5" r="3.75" fill="url(#gb)"/><circle cx="394.4" cy="211.6" r="3.75" fill="url(#gb)"/><circle cx="407.3" cy="212.2" r="3.75" fill="url(#gb)"/><circle cx="488.8" cy="212.3" r="3.75" fill="url(#gb)"/><circle cx="517.1" cy="212.4" r="3.75" fill="url(#gb)"/><circle cx="378.7" cy="212.5" r="3.75" fill="url(#gb)"/><circle cx="363.9" cy="213.7" r="4.7" fill="url(#gr)"/><circle cx="482.5" cy="212.8" r="3.75" fill="url(#gb)"/><circle cx="412.8" cy="212.9" r="3.75" fill="url(#gb)"/><circle cx="453.1" cy="213.1" r="3.75" fill="url(#gb)"/><circle cx="563.6" cy="213.3" r="3.75" fill="url(#gb)"/><circle cx="460.4" cy="213.5" r="3.75" fill="url(#gb)"/><circle cx="507.1" cy="213.6" r="3.75" fill="url(#gb)"/><circle cx="575.5" cy="213.9" r="3.75" fill="url(#gb)"/><circle cx="385.1" cy="214.1" r="3.75" fill="url(#gb)"/><circle cx="396.6" cy="214.1" r="3.75" fill="url(#gb)"/><circle cx="501" cy="214.3" r="3.75" fill="url(#gb)"/><circle cx="471.9" cy="214.3" r="3.75" fill="url(#gb)"/><circle cx="444.2" cy="214.5" r="3.75" fill="url(#gb)"/><circle cx="581.7" cy="214.6" r="3.75" fill="url(#gb)"/><circle cx="432.2" cy="214.7" r="3.75" fill="url(#gb)"/><circle cx="519.4" cy="215" r="3.75" fill="url(#gb)"/><circle cx="547.8" cy="215.1" r="3.75" fill="url(#gb)"/><circle cx="449.3" cy="215.1" r="3.75" fill="url(#gb)"/><circle cx="478" cy="215.4" r="3.75" fill="url(#gb)"/><circle cx="525.1" cy="215.6" r="3.75" fill="url(#gb)"/><circle cx="415.6" cy="215.6" r="3.75" fill="url(#gb)"/><circle cx="421.3" cy="215.8" r="3.75" fill="url(#gb)"/><circle cx="387.2" cy="215.9" r="3.75" fill="url(#gb)"/><circle cx="572" cy="215.9" r="3.75" fill="url(#gb)"/><circle cx="566.4" cy="216.1" r="3.75" fill="url(#gb)"/><circle cx="490.5" cy="216.2" r="3.75" fill="url(#gb)"/><circle cx="497.5" cy="216.2" r="3.75" fill="url(#gb)"/><circle cx="375.3" cy="216.3" r="3.75" fill="url(#gb)"/><circle cx="544.4" cy="216.5" r="3.75" fill="url(#gb)"/><circle cx="468.9" cy="216.5" r="3.75" fill="url(#gb)"/><circle cx="537.3" cy="216.8" r="3.75" fill="url(#gb)"/><circle cx="462.3" cy="216.9" r="3.75" fill="url(#gb)"/><circle cx="394" cy="217.1" r="3.75" fill="url(#gb)"/><circle cx="584.8" cy="217.1" r="3.75" fill="url(#gb)"/><circle cx="439.6" cy="217.3" r="3.75" fill="url(#gb)"/><circle cx="509.7" cy="217.3" r="3.75" fill="url(#gb)"/><circle cx="433.4" cy="217.3" r="3.75" fill="url(#gb)"/><circle cx="412.3" cy="217.9" r="3.75" fill="url(#gb)"/><circle cx="481.1" cy="218" r="3.75" fill="url(#gb)"/><circle cx="556.6" cy="218.1" r="3.75" fill="url(#gb)"/><circle cx="562.7" cy="218.2" r="3.75" fill="url(#gb)"/><circle cx="591.2" cy="218.4" r="3.75" fill="url(#gb)"/><circle cx="515.8" cy="218.5" r="3.75" fill="url(#gb)"/><circle cx="487.2" cy="218.7" r="3.75" fill="url(#gb)"/><circle cx="534.5" cy="218.8" r="3.75" fill="url(#gb)"/><circle cx="452.1" cy="218.9" r="3.75" fill="url(#gb)"/><circle cx="458.3" cy="219" r="3.75" fill="url(#gb)"/><circle cx="574.5" cy="219" r="3.75" fill="url(#gb)"/><circle cx="383.4" cy="219.4" r="3.75" fill="url(#gb)"/><circle cx="527.1" cy="219.5" r="3.75" fill="url(#gb)"/><circle cx="499.5" cy="219.7" r="3.75" fill="url(#gb)"/><circle cx="424" cy="219.7" r="3.75" fill="url(#gb)"/><circle cx="430.1" cy="219.7" r="3.75" fill="url(#gb)"/><circle cx="395.9" cy="219.8" r="3.75" fill="url(#gb)"/><circle cx="580.2" cy="219.8" r="3.75" fill="url(#gb)"/><circle cx="505.9" cy="220" r="3.75" fill="url(#gb)"/><circle cx="546" cy="220.1" r="3.75" fill="url(#gb)"/><circle cx="401.7" cy="220.2" r="3.75" fill="url(#gb)"/><circle cx="477" cy="220.3" r="3.75" fill="url(#gb)"/><circle cx="443.3" cy="220.5" r="3.75" fill="url(#gb)"/><circle cx="517.9" cy="220.6" r="3.75" fill="url(#gb)"/><circle cx="592.8" cy="220.6" r="3.75" fill="url(#gb)"/><circle cx="381.2" cy="221.6" r="4.7" fill="url(#gr)"/><circle cx="470.5" cy="220.7" r="3.75" fill="url(#gb)"/><circle cx="523.7" cy="220.9" r="3.75" fill="url(#gb)"/><circle cx="448.6" cy="221.1" r="3.75" fill="url(#gb)"/><circle cx="553" cy="221.1" r="3.75" fill="url(#gb)"/><circle cx="489.8" cy="221.5" r="3.75" fill="url(#gb)"/><circle cx="564.8" cy="221.7" r="3.75" fill="url(#gb)"/><circle cx="415" cy="222" r="3.75" fill="url(#gb)"/><circle cx="420.7" cy="222" r="3.75" fill="url(#gb)"/><circle cx="599.1" cy="222" r="3.75" fill="url(#gb)"/><circle cx="507.6" cy="222.6" r="3.75" fill="url(#gb)"/><circle cx="570.5" cy="222.6" r="3.75" fill="url(#gb)"/><circle cx="461.4" cy="222.7" r="3.75" fill="url(#gb)"/><circle cx="467.1" cy="222.7" r="3.75" fill="url(#gb)"/><circle cx="542" cy="222.8" r="3.75" fill="url(#gb)"/><circle cx="495.9" cy="222.9" r="3.75" fill="url(#gb)"/><circle cx="536.2" cy="223" r="3.75" fill="url(#gb)"/><circle cx="392.6" cy="223.4" r="3.75" fill="url(#gb)"/><circle cx="514.5" cy="223.5" r="3.75" fill="url(#gb)"/><circle cx="432.4" cy="223.6" r="3.75" fill="url(#gb)"/><circle cx="583.3" cy="223.7" r="3.75" fill="url(#gb)"/><circle cx="561.5" cy="223.9" r="3.75" fill="url(#gb)"/><circle cx="554.8" cy="223.9" r="3.75" fill="url(#gb)"/><circle cx="438.4" cy="224.1" r="3.75" fill="url(#gb)"/><circle cx="589.8" cy="224.1" r="3.75" fill="url(#gb)"/><circle cx="479.2" cy="224.2" r="3.75" fill="url(#gb)"/><circle cx="486.4" cy="224.4" r="3.75" fill="url(#gb)"/><circle cx="601.6" cy="224.4" r="3.75" fill="url(#gb)"/><circle cx="607.4" cy="224.8" r="3.75" fill="url(#gb)"/><circle cx="456.9" cy="224.9" r="3.75" fill="url(#gb)"/><circle cx="411.3" cy="224.9" r="3.75" fill="url(#gb)"/><circle cx="526.4" cy="224.9" r="3.75" fill="url(#gb)"/><circle cx="532.3" cy="225" r="3.75" fill="url(#gb)"/><circle cx="422.7" cy="225.1" r="3.75" fill="url(#gb)"/><circle cx="451.7" cy="225.3" r="3.75" fill="url(#gb)"/><circle cx="497.8" cy="225.4" r="3.75" fill="url(#gb)"/><circle cx="503.9" cy="225.5" r="3.75" fill="url(#gb)"/><circle cx="545.8" cy="225.6" r="3.75" fill="url(#gb)"/><circle cx="579.7" cy="225.6" r="3.75" fill="url(#gb)"/><circle cx="470.3" cy="225.9" r="3.75" fill="url(#gb)"/><circle cx="573.8" cy="226.1" r="3.75" fill="url(#gb)"/><circle cx="429.5" cy="226.3" r="3.75" fill="url(#gb)"/><circle cx="401.5" cy="226.6" r="3.75" fill="url(#gb)"/><circle cx="476.5" cy="226.6" r="3.75" fill="url(#gb)"/><circle cx="550.7" cy="226.7" r="3.75" fill="url(#gb)"/><circle cx="591.8" cy="226.7" r="3.75" fill="url(#gb)"/><circle cx="523.6" cy="226.9" r="3.75" fill="url(#gb)"/><circle cx="563.5" cy="227.1" r="3.75" fill="url(#gb)"/><circle cx="441.5" cy="227.3" r="3.75" fill="url(#gb)"/><circle cx="413.6" cy="227.3" r="3.75" fill="url(#gb)"/><circle cx="447.5" cy="227.6" r="3.75" fill="url(#gb)"/><circle cx="598.8" cy="228" r="3.75" fill="url(#gb)"/><circle cx="418.9" cy="228.1" r="3.75" fill="url(#gb)"/><circle cx="494.9" cy="228.1" r="3.75" fill="url(#gb)"/><circle cx="460" cy="228.3" r="3.75" fill="url(#gb)"/><circle cx="541.6" cy="228.3" r="3.75" fill="url(#gb)"/><circle cx="581.7" cy="228.4" r="3.75" fill="url(#gb)"/><circle cx="534.7" cy="228.5" r="3.75" fill="url(#gb)"/><circle cx="466" cy="228.6" r="3.75" fill="url(#gb)"/><circle cx="570.5" cy="228.6" r="3.75" fill="url(#gb)"/><circle cx="588.1" cy="229" r="3.75" fill="url(#gb)"/><circle cx="611.1" cy="229.1" r="3.75" fill="url(#gb)"/><circle cx="432.4" cy="229.1" r="3.75" fill="url(#gb)"/><circle cx="438.1" cy="229.1" r="3.75" fill="url(#gb)"/><circle cx="617.4" cy="229.5" r="3.75" fill="url(#gb)"/><circle cx="554.2" cy="229.7" r="3.75" fill="url(#gb)"/><circle cx="409" cy="229.7" r="3.75" fill="url(#gb)"/><circle cx="478.8" cy="230.1" r="3.75" fill="url(#gb)"/><circle cx="559.8" cy="230.2" r="3.75" fill="url(#gb)"/><circle cx="450.9" cy="230.3" r="3.75" fill="url(#gb)"/><circle cx="531.3" cy="230.4" r="3.75" fill="url(#gb)"/><circle cx="607.6" cy="230.7" r="3.75" fill="url(#gb)"/><circle cx="525.8" cy="230.8" r="3.75" fill="url(#gb)"/><circle cx="428.6" cy="231" r="3.75" fill="url(#gb)"/><circle cx="456.1" cy="231.1" r="3.75" fill="url(#gb)"/><circle cx="422.3" cy="231.2" r="3.75" fill="url(#gb)"/><circle cx="600.5" cy="231.2" r="3.75" fill="url(#gb)"/><circle cx="572.9" cy="231.2" r="3.75" fill="url(#gb)"/><circle cx="469.3" cy="231.3" r="3.75" fill="url(#gb)"/><circle cx="497.1" cy="231.4" r="3.75" fill="url(#gb)"/><circle cx="543.6" cy="231.8" r="3.75" fill="url(#gb)"/><circle cx="440.1" cy="232" r="3.75" fill="url(#gb)"/><circle cx="624.8" cy="232.2" r="3.75" fill="url(#gb)"/><circle cx="578.7" cy="232.3" r="3.75" fill="url(#gb)"/><circle cx="619.7" cy="232.5" r="3.75" fill="url(#gb)"/><circle cx="446.7" cy="232.6" r="3.75" fill="url(#gb)"/><circle cx="550.4" cy="232.6" r="3.75" fill="url(#gb)"/><circle cx="474.3" cy="232.8" r="3.75" fill="url(#gb)"/><circle cx="522.3" cy="233.2" r="3.75" fill="url(#gb)"/><circle cx="487.7" cy="233.2" r="3.75" fill="url(#gb)"/><circle cx="418.6" cy="233.3" r="3.75" fill="url(#gb)"/><circle cx="590.5" cy="233.4" r="3.75" fill="url(#gb)"/><circle cx="562.6" cy="233.5" r="3.75" fill="url(#gb)"/><circle cx="597" cy="233.5" r="3.75" fill="url(#gb)"/><circle cx="609.1" cy="233.7" r="3.75" fill="url(#gb)"/><circle cx="493.2" cy="233.8" r="3.75" fill="url(#gb)"/><circle cx="459.4" cy="233.9" r="3.75" fill="url(#gb)"/><circle cx="505.3" cy="234.2" r="3.75" fill="url(#gb)"/><circle cx="465.2" cy="234.2" r="3.75" fill="url(#gb)"/><circle cx="580.6" cy="234.3" r="3.75" fill="url(#gb)"/><circle cx="533.7" cy="234.3" r="3.75" fill="url(#gb)"/><circle cx="541.1" cy="234.4" r="3.75" fill="url(#gb)"/><circle cx="569" cy="234.5" r="3.75" fill="url(#gb)"/><circle cx="430.2" cy="234.6" r="3.75" fill="url(#gb)"/><circle cx="627.6" cy="235" r="3.75" fill="url(#gb)"/><circle cx="586.7" cy="235" r="3.75" fill="url(#gb)"/><circle cx="436.8" cy="235.1" r="3.75" fill="url(#gb)"/><circle cx="615.3" cy="235.3" r="3.75" fill="url(#gb)"/><circle cx="477.8" cy="235.5" r="3.75" fill="url(#gb)"/><circle cx="552.4" cy="235.6" r="3.75" fill="url(#gb)"/><circle cx="599.3" cy="235.7" r="3.75" fill="url(#gb)"/><circle cx="633.9" cy="236" r="3.75" fill="url(#gb)"/><circle cx="530.7" cy="236.1" r="3.75" fill="url(#gb)"/><circle cx="448.9" cy="236.5" r="3.75" fill="url(#gb)"/><circle cx="558.7" cy="236.6" r="3.75" fill="url(#gb)"/><circle cx="483.3" cy="236.6" r="3.75" fill="url(#gb)"/><circle cx="455.1" cy="236.6" r="3.75" fill="url(#gb)"/><circle cx="524" cy="237" r="3.75" fill="url(#gb)"/><circle cx="496.4" cy="237" r="3.75" fill="url(#gb)"/><circle cx="605.8" cy="237.2" r="3.75" fill="url(#gb)"/><circle cx="502.5" cy="237.2" r="3.75" fill="url(#gb)"/><circle cx="542.8" cy="237.2" r="3.75" fill="url(#gb)"/><circle cx="571.7" cy="237.2" r="3.75" fill="url(#gb)"/><circle cx="467.3" cy="237.8" r="3.75" fill="url(#gb)"/><circle cx="426.8" cy="237.9" r="3.75" fill="url(#gb)"/><circle cx="439.9" cy="237.9" r="3.75" fill="url(#gb)"/><circle cx="577.5" cy="237.9" r="3.75" fill="url(#gb)"/><circle cx="618.2" cy="238.2" r="3.75" fill="url(#gb)"/><circle cx="473.9" cy="238.2" r="3.75" fill="url(#gb)"/><circle cx="590.2" cy="238.6" r="3.75" fill="url(#gb)"/><circle cx="549.6" cy="238.7" r="3.75" fill="url(#gb)"/><circle cx="561" cy="238.8" r="3.75" fill="url(#gb)"/><circle cx="624.3" cy="238.9" r="3.75" fill="url(#gb)"/><circle cx="486.5" cy="239" r="3.75" fill="url(#gb)"/><circle cx="520.3" cy="239.1" r="3.75" fill="url(#gb)"/><circle cx="417.7" cy="240.2" r="4.7" fill="url(#gr)"/><circle cx="642.6" cy="239.2" r="3.75" fill="url(#gb)"/><circle cx="595.7" cy="239.4" r="3.75" fill="url(#gb)"/><circle cx="493" cy="239.4" r="3.75" fill="url(#gb)"/><circle cx="445" cy="239.5" r="3.75" fill="url(#gb)"/><circle cx="567.5" cy="239.8" r="3.75" fill="url(#gb)"/><circle cx="636.7" cy="239.8" r="3.75" fill="url(#gb)"/><circle cx="538.9" cy="240" r="3.75" fill="url(#gb)"/><circle cx="608.1" cy="240.2" r="3.75" fill="url(#gb)"/><circle cx="533.7" cy="240.3" r="3.75" fill="url(#gb)"/><circle cx="457.9" cy="240.3" r="3.75" fill="url(#gb)"/><circle cx="463.4" cy="240.4" r="3.75" fill="url(#gb)"/><circle cx="505.3" cy="240.5" r="3.75" fill="url(#gb)"/><circle cx="580.4" cy="240.9" r="3.75" fill="url(#gb)"/><circle cx="436.3" cy="240.9" r="3.75" fill="url(#gb)"/><circle cx="614.9" cy="241" r="3.75" fill="url(#gb)"/><circle cx="476.5" cy="241" r="3.75" fill="url(#gb)"/><circle cx="551.3" cy="241.1" r="3.75" fill="url(#gb)"/><circle cx="586.1" cy="241.3" r="3.75" fill="url(#gb)"/><circle cx="626.2" cy="241.7" r="3.75" fill="url(#gb)"/><circle cx="447.5" cy="241.8" r="3.75" fill="url(#gb)"/><circle cx="632.6" cy="241.8" r="3.75" fill="url(#gb)"/><circle cx="482.4" cy="241.9" r="3.75" fill="url(#gb)"/><circle cx="494.6" cy="242.5" r="3.75" fill="url(#gb)"/><circle cx="558" cy="242.6" r="3.75" fill="url(#gb)"/><circle cx="576.7" cy="242.7" r="3.75" fill="url(#gb)"/><circle cx="598.2" cy="242.8" r="3.75" fill="url(#gb)"/><circle cx="644.9" cy="242.9" r="3.75" fill="url(#gb)"/><circle cx="501" cy="243" r="3.75" fill="url(#gb)"/><circle cx="454" cy="243.1" r="3.75" fill="url(#gb)"/><circle cx="530" cy="243.3" r="3.75" fill="url(#gb)"/><circle cx="548.4" cy="243.4" r="3.75" fill="url(#gb)"/><circle cx="466.8" cy="243.5" r="3.75" fill="url(#gb)"/><circle cx="569.8" cy="243.5" r="3.75" fill="url(#gb)"/><circle cx="617.6" cy="243.6" r="3.75" fill="url(#gb)"/><circle cx="472.1" cy="243.6" r="3.75" fill="url(#gb)"/><circle cx="541.3" cy="243.7" r="3.75" fill="url(#gb)"/><circle cx="650.8" cy="243.7" r="3.75" fill="url(#gb)"/><circle cx="443.9" cy="244.2" r="3.75" fill="url(#gb)"/><circle cx="588.6" cy="244.4" r="3.75" fill="url(#gb)"/><circle cx="484.9" cy="244.5" r="3.75" fill="url(#gb)"/><circle cx="513.6" cy="244.7" r="3.75" fill="url(#gb)"/><circle cx="635.8" cy="244.7" r="3.75" fill="url(#gb)"/><circle cx="622.5" cy="244.8" r="3.75" fill="url(#gb)"/><circle cx="594.8" cy="244.8" r="3.75" fill="url(#gb)"/><circle cx="560.4" cy="244.9" r="3.75" fill="url(#gb)"/><circle cx="519.5" cy="245.2" r="3.75" fill="url(#gb)"/><circle cx="457.3" cy="245.2" r="3.75" fill="url(#gb)"/><circle cx="565.9" cy="245.2" r="3.75" fill="url(#gb)"/><circle cx="641.8" cy="245.3" r="3.75" fill="url(#gb)"/><circle cx="491.7" cy="245.7" r="3.75" fill="url(#gb)"/><circle cx="613.6" cy="245.8" r="3.75" fill="url(#gb)"/><circle cx="538.2" cy="245.8" r="3.75" fill="url(#gb)"/><circle cx="654.4" cy="246.4" r="3.75" fill="url(#gb)"/><circle cx="532.1" cy="246.4" r="3.75" fill="url(#gb)"/><circle cx="504" cy="246.5" r="3.75" fill="url(#gb)"/><circle cx="509.8" cy="246.5" r="3.75" fill="url(#gb)"/><circle cx="585.5" cy="246.6" r="3.75" fill="url(#gb)"/><circle cx="475.7" cy="246.7" r="3.75" fill="url(#gb)"/><circle cx="463" cy="246.9" r="3.75" fill="url(#gb)"/><circle cx="579" cy="247.1" r="3.75" fill="url(#gb)"/><circle cx="550.9" cy="247.2" r="3.75" fill="url(#gb)"/><circle cx="625.7" cy="247.4" r="3.75" fill="url(#gb)"/><circle cx="556.5" cy="247.7" r="3.75" fill="url(#gb)"/><circle cx="632.1" cy="247.9" r="3.75" fill="url(#gb)"/><circle cx="528.4" cy="248.3" r="3.75" fill="url(#gb)"/><circle cx="481.7" cy="248.4" r="3.75" fill="url(#gb)"/><circle cx="569" cy="248.4" r="3.75" fill="url(#gb)"/><circle cx="522.8" cy="248.5" r="3.75" fill="url(#gb)"/><circle cx="597.4" cy="248.5" r="3.75" fill="url(#gb)"/><circle cx="453.5" cy="248.6" r="3.75" fill="url(#gb)"/><circle cx="499.7" cy="248.7" r="3.75" fill="url(#gb)"/><circle cx="575.7" cy="248.8" r="3.75" fill="url(#gb)"/><circle cx="494.1" cy="248.8" r="3.75" fill="url(#gb)"/><circle cx="649.3" cy="256.9" r="4.7" fill="url(#gr)"/><circle cx="465.1" cy="248.9" r="3.75" fill="url(#gb)"/><circle cx="540" cy="249" r="3.75" fill="url(#gb)"/><circle cx="643.9" cy="249" r="3.75" fill="url(#gb)"/><circle cx="650.4" cy="249.4" r="3.75" fill="url(#gb)"/><circle cx="547.5" cy="249.4" r="3.75" fill="url(#gb)"/><circle cx="471.6" cy="249.4" r="3.75" fill="url(#gb)"/><circle cx="511.9" cy="249.6" r="3.75" fill="url(#gb)"/><circle cx="621.5" cy="249.6" r="3.75" fill="url(#gb)"/><circle cx="615.8" cy="250" r="3.75" fill="url(#gb)"/><circle cx="484.1" cy="250.2" r="3.75" fill="url(#gb)"/><circle cx="587.4" cy="250.4" r="3.75" fill="url(#gb)"/><circle cx="519.1" cy="250.6" r="3.75" fill="url(#gb)"/><circle cx="594.4" cy="250.7" r="3.75" fill="url(#gb)"/><circle cx="565.4" cy="250.8" r="3.75" fill="url(#gb)"/><circle cx="490.5" cy="251.2" r="3.75" fill="url(#gb)"/><circle cx="640.6" cy="251.3" r="3.75" fill="url(#gb)"/><circle cx="633.9" cy="251.3" r="3.75" fill="url(#gb)"/><circle cx="558.8" cy="251.5" r="3.75" fill="url(#gb)"/><circle cx="461.7" cy="251.6" r="3.75" fill="url(#gb)"/><circle cx="612.3" cy="251.8" r="3.75" fill="url(#gb)"/><circle cx="531.5" cy="252" r="3.75" fill="url(#gb)"/><circle cx="537.4" cy="252" r="3.75" fill="url(#gb)"/><circle cx="509.1" cy="252.3" r="3.75" fill="url(#gb)"/><circle cx="473.7" cy="252.4" r="3.75" fill="url(#gb)"/><circle cx="583.3" cy="252.8" r="3.75" fill="url(#gb)"/><circle cx="479.7" cy="252.9" r="3.75" fill="url(#gb)"/><circle cx="501.8" cy="253" r="3.75" fill="url(#gb)"/><circle cx="549.1" cy="253.1" r="3.75" fill="url(#gb)"/><circle cx="624.7" cy="253.3" r="3.75" fill="url(#gb)"/><circle cx="527.9" cy="253.6" r="3.75" fill="url(#gb)"/><circle cx="521.4" cy="253.7" r="3.75" fill="url(#gb)"/><circle cx="630.6" cy="253.7" r="3.75" fill="url(#gb)"/><circle cx="492.7" cy="254" r="3.75" fill="url(#gb)"/><circle cx="555" cy="254.1" r="3.75" fill="url(#gb)"/><circle cx="602.9" cy="254.2" r="3.75" fill="url(#gb)"/><circle cx="596.2" cy="254.4" r="3.75" fill="url(#gb)"/><circle cx="642.5" cy="254.7" r="3.75" fill="url(#gb)"/><circle cx="568.5" cy="255" r="3.75" fill="url(#gb)"/><circle cx="620.8" cy="255.2" r="3.75" fill="url(#gb)"/><circle cx="615.4" cy="255.5" r="3.75" fill="url(#gb)"/><circle cx="498.4" cy="255.5" r="3.75" fill="url(#gb)"/><circle cx="540" cy="255.9" r="3.75" fill="url(#gb)"/><circle cx="592.3" cy="256.1" r="3.75" fill="url(#gb)"/><circle cx="545.6" cy="256.2" r="3.75" fill="url(#gb)"/><circle cx="489.3" cy="256.5" r="3.75" fill="url(#gb)"/><circle cx="510.9" cy="256.6" r="3.75" fill="url(#gb)"/><circle cx="632.8" cy="256.6" r="3.75" fill="url(#gb)"/><circle cx="529.3" cy="256.7" r="3.75" fill="url(#gb)"/><circle cx="563.8" cy="256.9" r="3.75" fill="url(#gb)"/><circle cx="482.8" cy="257" r="3.75" fill="url(#gb)"/><circle cx="518.1" cy="257" r="3.75" fill="url(#gb)"/><circle cx="536.1" cy="257.3" r="3.75" fill="url(#gb)"/><circle cx="557.6" cy="257.4" r="3.75" fill="url(#gb)"/><circle cx="611.1" cy="257.6" r="3.75" fill="url(#gb)"/><circle cx="639.2" cy="257.6" r="3.75" fill="url(#gb)"/><circle cx="604.6" cy="258" r="3.75" fill="url(#gb)"/><circle cx="507.1" cy="258.1" r="3.75" fill="url(#gb)"/><circle cx="500.8" cy="258.1" r="3.75" fill="url(#gb)"/><circle cx="547.7" cy="258.3" r="3.75" fill="url(#gb)"/><circle cx="629.2" cy="259.3" r="3.75" fill="url(#gb)"/><circle cx="623.8" cy="259.4" r="3.75" fill="url(#gb)"/><circle cx="554.7" cy="259.6" r="3.75" fill="url(#gb)"/><circle cx="519.3" cy="259.7" r="3.75" fill="url(#gb)"/><circle cx="566.3" cy="259.7" r="3.75" fill="url(#gb)"/><circle cx="595.6" cy="259.8" r="3.75" fill="url(#gb)"/><circle cx="526" cy="259.9" r="3.75" fill="url(#gb)"/><circle cx="600.8" cy="260.2" r="3.75" fill="url(#gb)"/><circle cx="491.7" cy="260.5" r="3.75" fill="url(#gb)"/><circle cx="545" cy="261.1" r="3.75" fill="url(#gb)"/><circle cx="538.5" cy="261.1" r="3.75" fill="url(#gb)"/><circle cx="573.4" cy="261.2" r="3.75" fill="url(#gb)"/><circle cx="497.4" cy="261.3" r="3.75" fill="url(#gb)"/><circle cx="510.4" cy="261.5" r="3.75" fill="url(#gb)"/><circle cx="613.3" cy="261.7" r="3.75" fill="url(#gb)"/><circle cx="619.8" cy="261.7" r="3.75" fill="url(#gb)"/><circle cx="557.5" cy="262" r="3.75" fill="url(#gb)"/><circle cx="515.7" cy="262" r="3.75" fill="url(#gb)"/><circle cx="632.3" cy="262" r="3.75" fill="url(#gb)"/><circle cx="563.8" cy="262.9" r="3.75" fill="url(#gb)"/><circle cx="604" cy="263.1" r="3.75" fill="url(#gb)"/><circle cx="610.2" cy="263.4" r="3.75" fill="url(#gb)"/><circle cx="534.8" cy="263.4" r="3.75" fill="url(#gb)"/><circle cx="528.9" cy="263.8" r="3.75" fill="url(#gb)"/><circle cx="581.1" cy="263.8" r="3.75" fill="url(#gb)"/><circle cx="499.6" cy="264.3" r="3.75" fill="url(#gb)"/><circle cx="574.8" cy="264.5" r="3.75" fill="url(#gb)"/><circle cx="506.5" cy="264.6" r="3.75" fill="url(#gb)"/><circle cx="621.9" cy="264.8" r="3.75" fill="url(#gb)"/><circle cx="546.7" cy="265.2" r="3.75" fill="url(#gb)"/><circle cx="627.9" cy="265.2" r="3.75" fill="url(#gb)"/><circle cx="552.6" cy="265.7" r="3.75" fill="url(#gb)"/><circle cx="565.5" cy="265.8" r="3.75" fill="url(#gb)"/><circle cx="594.5" cy="265.8" r="3.75" fill="url(#gb)"/><circle cx="518.4" cy="265.9" r="3.75" fill="url(#gb)"/><circle cx="524.4" cy="266.2" r="3.75" fill="url(#gb)"/><circle cx="496.3" cy="266.5" r="3.75" fill="url(#gb)"/><circle cx="600.5" cy="266.5" r="3.75" fill="url(#gb)"/><circle cx="544" cy="266.8" r="3.75" fill="url(#gb)"/><circle cx="618.2" cy="266.9" r="3.75" fill="url(#gb)"/><circle cx="538" cy="266.9" r="3.75" fill="url(#gb)"/><circle cx="584" cy="267" r="3.75" fill="url(#gb)"/><circle cx="571.7" cy="267.4" r="3.75" fill="url(#gb)"/><circle cx="508.3" cy="267.5" r="3.75" fill="url(#gb)"/><circle cx="589.9" cy="267.5" r="3.75" fill="url(#gb)"/><circle cx="613" cy="267.6" r="3.75" fill="url(#gb)"/><circle cx="515" cy="267.8" r="3.75" fill="url(#gb)"/><circle cx="602.7" cy="268.7" r="3.75" fill="url(#gb)"/><circle cx="533.5" cy="269" r="3.75" fill="url(#gb)"/><circle cx="556.2" cy="269.1" r="3.75" fill="url(#gb)"/><circle cx="527.3" cy="269.1" r="3.75" fill="url(#gb)"/><circle cx="562.1" cy="269.4" r="3.75" fill="url(#gb)"/><circle cx="574" cy="269.7" r="3.75" fill="url(#gb)"/><circle cx="581" cy="269.9" r="3.75" fill="url(#gb)"/><circle cx="546.4" cy="270" r="3.75" fill="url(#gb)"/><circle cx="498.7" cy="270" r="3.75" fill="url(#gb)"/><circle cx="608.6" cy="270.3" r="3.75" fill="url(#gb)"/><circle cx="505.5" cy="270.5" r="3.75" fill="url(#gb)"/><circle cx="517.9" cy="270.8" r="3.75" fill="url(#gb)"/><circle cx="592.8" cy="271" r="3.75" fill="url(#gb)"/><circle cx="552.4" cy="271.1" r="3.75" fill="url(#gb)"/><circle cx="621.3" cy="271.2" r="3.75" fill="url(#gb)"/><circle cx="599.3" cy="271.6" r="3.75" fill="url(#gb)"/><circle cx="611.2" cy="272.2" r="3.75" fill="url(#gb)"/><circle cx="524.4" cy="272.4" r="3.75" fill="url(#gb)"/><circle cx="570.7" cy="272.4" r="3.75" fill="url(#gb)"/><circle cx="495.2" cy="272.5" r="3.75" fill="url(#gb)"/><circle cx="564.4" cy="272.5" r="3.75" fill="url(#gb)"/><circle cx="542.4" cy="273.1" r="3.75" fill="url(#gb)"/><circle cx="618.1" cy="273.3" r="3.75" fill="url(#gb)"/><circle cx="536" cy="273.4" r="3.75" fill="url(#gb)"/><circle cx="514.6" cy="273.5" r="3.75" fill="url(#gb)"/><circle cx="582.6" cy="273.9" r="3.75" fill="url(#gb)"/><circle cx="507.7" cy="273.9" r="3.75" fill="url(#gb)"/><circle cx="554.4" cy="274.2" r="3.75" fill="url(#gb)"/><circle cx="525.9" cy="274.4" r="3.75" fill="url(#gb)"/><circle cx="561.2" cy="274.5" r="3.75" fill="url(#gb)"/><circle cx="588.8" cy="274.5" r="3.75" fill="url(#gb)"/><circle cx="532.2" cy="274.9" r="3.75" fill="url(#gb)"/><circle cx="601.9" cy="275.1" r="3.75" fill="url(#gb)"/><circle cx="607.4" cy="275.2" r="3.75" fill="url(#gb)"/><circle cx="498.3" cy="275.5" r="3.75" fill="url(#gb)"/><circle cx="580" cy="275.6" r="3.75" fill="url(#gb)"/><circle cx="573.4" cy="275.9" r="3.75" fill="url(#gb)"/><circle cx="504.5" cy="276.1" r="3.75" fill="url(#gb)"/><circle cx="516.4" cy="276.4" r="3.75" fill="url(#gb)"/><circle cx="544.4" cy="276.5" r="3.75" fill="url(#gb)"/><circle cx="550.9" cy="276.7" r="3.75" fill="url(#gb)"/><circle cx="592.2" cy="277.1" r="3.75" fill="url(#gb)"/><circle cx="597.4" cy="277.7" r="3.75" fill="url(#gb)"/><circle cx="569.5" cy="277.8" r="3.75" fill="url(#gb)"/><circle cx="494.8" cy="277.9" r="3.75" fill="url(#gb)"/><circle cx="610.9" cy="278.1" r="3.75" fill="url(#gb)"/><circle cx="564.1" cy="278.1" r="3.75" fill="url(#gb)"/><circle cx="522.5" cy="278.1" r="3.75" fill="url(#gb)"/><circle cx="534.9" cy="278.3" r="3.75" fill="url(#gb)"/><circle cx="541" cy="279" r="3.75" fill="url(#gb)"/><circle cx="582.5" cy="279.2" r="3.75" fill="url(#gb)"/><circle cx="506.3" cy="279.6" r="3.75" fill="url(#gb)"/><circle cx="512.4" cy="279.9" r="3.75" fill="url(#gb)"/><circle cx="525.1" cy="280.1" r="3.75" fill="url(#gb)"/><circle cx="588.2" cy="280.3" r="3.75" fill="url(#gb)"/><circle cx="559.2" cy="280.4" r="3.75" fill="url(#gb)"/><circle cx="600.4" cy="280.4" r="3.75" fill="url(#gb)"/><circle cx="553.8" cy="280.5" r="3.75" fill="url(#gb)"/><circle cx="607.2" cy="281.2" r="3.75" fill="url(#gb)"/><circle cx="531.2" cy="281.4" r="3.75" fill="url(#gb)"/><circle cx="571.5" cy="281.5" r="3.75" fill="url(#gb)"/><circle cx="577.9" cy="281.5" r="3.75" fill="url(#gb)"/><circle cx="497" cy="281.6" r="3.75" fill="url(#gb)"/><circle cx="543.4" cy="282" r="3.75" fill="url(#gb)"/><circle cx="550.1" cy="282.2" r="3.75" fill="url(#gb)"/><circle cx="516" cy="282.5" r="3.75" fill="url(#gb)"/><circle cx="503.1" cy="282.6" r="3.75" fill="url(#gb)"/><circle cx="590.6" cy="282.9" r="3.75" fill="url(#gb)"/><circle cx="597.4" cy="283" r="3.75" fill="url(#gb)"/><circle cx="521.7" cy="283.7" r="3.75" fill="url(#gb)"/><circle cx="562.6" cy="284.3" r="3.75" fill="url(#gb)"/><circle cx="540.3" cy="284.4" r="3.75" fill="url(#gb)"/><circle cx="580.4" cy="284.6" r="3.75" fill="url(#gb)"/><circle cx="568.3" cy="284.6" r="3.75" fill="url(#gb)"/><circle cx="506.1" cy="285.4" r="3.75" fill="url(#gb)"/><circle cx="558" cy="285.6" r="3.75" fill="url(#gb)"/><circle cx="606.8" cy="286.7" r="4.7" fill="url(#gr)"/><circle cx="552.4" cy="285.7" r="3.75" fill="url(#gb)"/><circle cx="587.1" cy="286.1" r="3.75" fill="url(#gb)"/><circle cx="511.3" cy="286.2" r="3.75" fill="url(#gb)"/><circle cx="599.4" cy="286.6" r="3.75" fill="url(#gb)"/><circle cx="571.5" cy="286.7" r="3.75" fill="url(#gb)"/><circle cx="577.5" cy="287.9" r="3.75" fill="url(#gb)"/><circle cx="595.3" cy="288.9" r="3.75" fill="url(#gb)"/><circle cx="549.4" cy="289" r="3.75" fill="url(#gb)"/><circle cx="560.7" cy="289.1" r="3.75" fill="url(#gb)"/><circle cx="590.2" cy="289.2" r="3.75" fill="url(#gb)"/><circle cx="567.2" cy="289.8" r="3.75" fill="url(#gb)"/><circle cx="579.4" cy="291.5" r="3.75" fill="url(#gb)"/><circle cx="586.2" cy="292" r="3.75" fill="url(#gb)"/><circle cx="557.2" cy="292.4" r="3.75" fill="url(#gb)"/><circle cx="570.6" cy="293.6" r="3.75" fill="url(#gb)"/><circle cx="576.6" cy="293.7" r="3.75" fill="url(#gb)"/><circle cx="553.6" cy="295.2" r="4.7" fill="url(#gr)"/><circle cx="595.1" cy="295.6" r="4.7" fill="url(#gr)"/><circle cx="587.8" cy="294.9" r="3.75" fill="url(#gb)"/><circle cx="566.6" cy="295.5" r="3.75" fill="url(#gb)"/><circle cx="585.1" cy="296.9" r="3.75" fill="url(#gb)"/><circle cx="578.5" cy="297.4" r="3.75" fill="url(#gb)"/><circle cx="574.7" cy="299.8" r="3.75" fill="url(#gb)"/><circle cx="583.2" cy="304.1" r="4.7" fill="url(#gr)"/><circle cx="426.8" cy="189.8" r="4.7" fill="url(#gr)"/><circle cx="440.3" cy="184.5" r="4.7" fill="url(#gr)"/><circle cx="463.9" cy="168.7" r="4.7" fill="url(#gr)"/><circle cx="466.8" cy="181.3" r="4.7" fill="url(#gr)"/><circle cx="489.4" cy="179.8" r="4.7" fill="url(#gr)"/><circle cx="453.5" cy="209.7" r="4.7" fill="url(#gr)"/><circle cx="519" cy="251.5" r="4.7" fill="url(#gr)"/><circle cx="523.4" cy="272.6" r="4.7" fill="url(#gr)"/><circle cx="554.2" cy="255.4" r="4.7" fill="url(#gr)"/><circle cx="563.7" cy="263.8" r="4.7" fill="url(#gr)"/><circle cx="550.5" cy="277.9" r="4.7" fill="url(#gr)"/><circle cx="623.5" cy="241.1" r="4.7" fill="url(#gr)"/><circle cx="624.1" cy="250.6" r="4.7" fill="url(#gr)"/><circle cx="586.6" cy="286.7" r="4.7" fill="url(#gr)"/></g>
<g><circle cx="802.3" cy="57.6" r="3.2" fill="#3b78c6"/><circle cx="791.4" cy="65.6" r="3.2" fill="#3b78c6"/><circle cx="780.5" cy="73.6" r="3.2" fill="#3b78c6"/><circle cx="769.5" cy="81.6" r="3.2" fill="#3b78c6"/><circle cx="758.6" cy="89.6" r="3.2" fill="#3b78c6"/><circle cx="747.6" cy="97.6" r="3.2" fill="#3b78c6"/><circle cx="812.2" cy="55.4" r="3.2" fill="#3b78c6"/><circle cx="811" cy="61.2" r="3.2" fill="#3b78c6"/><circle cx="801.2" cy="63.4" r="3.2" fill="#3b78c6"/><circle cx="800.1" cy="69.2" r="3.2" fill="#3b78c6"/><circle cx="790.3" cy="71.4" r="3.2" fill="#3b78c6"/><circle cx="789.2" cy="77.2" r="3.2" fill="#3b78c6"/><circle cx="779.3" cy="79.4" r="3.2" fill="#3b78c6"/><circle cx="778.2" cy="85.2" r="3.2" fill="#3b78c6"/><circle cx="768.4" cy="87.4" r="3.2" fill="#3b78c6"/><circle cx="767.3" cy="93.2" r="3.2" fill="#3b78c6"/><circle cx="757.5" cy="95.4" r="3.2" fill="#3b78c6"/><circle cx="746.5" cy="103.4" r="3.2" fill="#3b78c6"/><circle cx="820.9" cy="59.1" r="3.2" fill="#3b78c6"/><circle cx="819.7" cy="64.9" r="3.2" fill="#3b78c6"/><circle cx="809.9" cy="67.1" r="3.2" fill="#3b78c6"/><circle cx="808.8" cy="72.9" r="3.2" fill="#3b78c6"/><circle cx="799" cy="75.1" r="3.2" fill="#3b78c6"/><circle cx="777.1" cy="91.1" r="3.2" fill="#3b78c6"/><circle cx="776" cy="96.9" r="3.2" fill="#3b78c6"/><circle cx="766.2" cy="99.1" r="3.2" fill="#3b78c6"/><circle cx="829.6" cy="62.7" r="3.2" fill="#3b78c6"/><circle cx="828.4" cy="68.5" r="3.2" fill="#3b78c6"/><circle cx="818.6" cy="70.7" r="3.2" fill="#3b78c6"/><circle cx="817.5" cy="76.5" r="3.2" fill="#3b78c6"/><circle cx="785.8" cy="94.7" r="3.2" fill="#3b78c6"/><circle cx="773.7" cy="108.5" r="3.2" fill="#3b78c6"/><circle cx="838.3" cy="66.3" r="3.2" fill="#3b78c6"/><circle cx="837.1" cy="72.2" r="3.2" fill="#3b78c6"/><circle cx="827.3" cy="74.3" r="3.2" fill="#3b78c6"/><circle cx="826.2" cy="80.2" r="3.2" fill="#3b78c6"/><circle cx="804.3" cy="96.2" r="3.2" fill="#3b78c6"/><circle cx="794.5" cy="98.3" r="3.2" fill="#3b78c6"/><circle cx="793.4" cy="104.2" r="3.2" fill="#3b78c6"/><circle cx="782.4" cy="112.2" r="3.2" fill="#3b78c6"/><circle cx="772.6" cy="114.3" r="3.2" fill="#3b78c6"/><circle cx="847" cy="70" r="3.2" fill="#3b78c6"/><circle cx="845.8" cy="75.8" r="3.2" fill="#3b78c6"/><circle cx="836" cy="78" r="3.2" fill="#3b78c6"/><circle cx="834.9" cy="83.8" r="3.2" fill="#3b78c6"/><circle cx="825.1" cy="86" r="3.2" fill="#3b78c6"/><circle cx="824" cy="91.8" r="3.2" fill="#3b78c6"/><circle cx="814.1" cy="94" r="3.2" fill="#3b78c6"/><circle cx="813" cy="99.8" r="3.2" fill="#3b78c6"/><circle cx="803.2" cy="102" r="3.2" fill="#3b78c6"/><circle cx="802.1" cy="107.8" r="3.2" fill="#3b78c6"/><circle cx="792.3" cy="110" r="3.2" fill="#3b78c6"/><circle cx="791.1" cy="115.8" r="3.2" fill="#3b78c6"/><circle cx="781.3" cy="118" r="3.2" fill="#3b78c6"/><circle cx="855.7" cy="73.6" r="3.2" fill="#3b78c6"/><circle cx="854.5" cy="79.5" r="3.2" fill="#3b78c6"/><circle cx="844.7" cy="81.6" r="3.2" fill="#3b78c6"/><circle cx="843.6" cy="87.5" r="3.2" fill="#3b78c6"/><circle cx="833.8" cy="89.6" r="3.2" fill="#3b78c6"/><circle cx="832.7" cy="95.5" r="3.2" fill="#3b78c6"/><circle cx="822.8" cy="97.6" r="3.2" fill="#3b78c6"/><circle cx="821.7" cy="103.5" r="3.2" fill="#3b78c6"/><circle cx="811.9" cy="105.6" r="3.2" fill="#3b78c6"/><circle cx="810.8" cy="111.5" r="3.2" fill="#3b78c6"/><circle cx="801" cy="113.6" r="3.2" fill="#3b78c6"/><circle cx="799.8" cy="119.5" r="3.2" fill="#3b78c6"/><circle cx="790" cy="121.6" r="3.2" fill="#3b78c6"/><circle cx="864.4" cy="77.3" r="3.2" fill="#3b78c6"/><circle cx="863.2" cy="83.1" r="3.2" fill="#3b78c6"/><circle cx="853.4" cy="85.3" r="3.2" fill="#3b78c6"/><circle cx="852.3" cy="91.1" r="3.2" fill="#3b78c6"/><circle cx="842.5" cy="93.3" r="3.2" fill="#3b78c6"/><circle cx="841.4" cy="99.1" r="3.2" fill="#3b78c6"/><circle cx="831.5" cy="101.3" r="3.2" fill="#3b78c6"/><circle cx="830.4" cy="107.1" r="3.2" fill="#3b78c6"/><circle cx="820.6" cy="109.3" r="3.2" fill="#3b78c6"/><circle cx="819.5" cy="115.1" r="3.2" fill="#3b78c6"/><circle cx="809.7" cy="117.3" r="3.2" fill="#3b78c6"/><circle cx="808.5" cy="123.1" r="3.2" fill="#3b78c6"/><circle cx="798.7" cy="125.3" r="3.2" fill="#3b78c6"/><circle cx="873.1" cy="80.9" r="3.2" fill="#3b78c6"/><circle cx="871.9" cy="86.7" r="3.2" fill="#3b78c6"/><circle cx="862.1" cy="88.9" r="3.2" fill="#3b78c6"/><circle cx="861" cy="94.7" r="3.2" fill="#3b78c6"/><circle cx="851.2" cy="96.9" r="3.2" fill="#3b78c6"/><circle cx="850.1" cy="102.7" r="3.2" fill="#3b78c6"/><circle cx="840.2" cy="104.9" r="3.2" fill="#3b78c6"/><circle cx="839.1" cy="110.7" r="3.2" fill="#3b78c6"/><circle cx="829.3" cy="112.9" r="3.2" fill="#3b78c6"/><circle cx="828.2" cy="118.7" r="3.2" fill="#3b78c6"/><circle cx="818.4" cy="120.9" r="3.2" fill="#3b78c6"/><circle cx="817.2" cy="126.7" r="3.2" fill="#3b78c6"/><circle cx="807.4" cy="128.9" r="3.2" fill="#3b78c6"/><circle cx="870.8" cy="92.6" r="3.2" fill="#3b78c6"/><circle cx="869.7" cy="98.4" r="3.2" fill="#3b78c6"/><circle cx="859.9" cy="100.6" r="3.2" fill="#3b78c6"/><circle cx="858.8" cy="106.4" r="3.2" fill="#3b78c6"/><circle cx="848.9" cy="108.6" r="3.2" fill="#3b78c6"/><circle cx="827.1" cy="124.6" r="3.2" fill="#3b78c6"/><circle cx="825.9" cy="130.4" r="3.2" fill="#3b78c6"/><circle cx="816.1" cy="132.6" r="3.2" fill="#3b78c6"/><circle cx="868.6" cy="104.2" r="3.2" fill="#3b78c6"/><circle cx="867.5" cy="110" r="3.2" fill="#3b78c6"/><circle cx="857.6" cy="112.2" r="3.2" fill="#3b78c6"/><circle cx="845.6" cy="126" r="3.2" fill="#3b78c6"/><circle cx="835.8" cy="128.2" r="3.2" fill="#3b78c6"/><circle cx="834.6" cy="134" r="3.2" fill="#3b78c6"/><circle cx="824.8" cy="136.2" r="3.2" fill="#3b78c6"/><circle cx="899.2" cy="91.9" r="3.2" fill="#3b78c6"/><circle cx="877.3" cy="107.9" r="3.2" fill="#3b78c6"/><circle cx="854.3" cy="129.7" r="3.2" fill="#3b78c6"/><circle cx="844.5" cy="131.9" r="3.2" fill="#3b78c6"/><circle cx="843.3" cy="137.7" r="3.2" fill="#3b78c6"/><circle cx="833.5" cy="139.9" r="3.2" fill="#3b78c6"/><circle cx="895.8" cy="109.3" r="3.2" fill="#3b78c6"/><circle cx="886" cy="111.5" r="3.2" fill="#3b78c6"/><circle cx="884.9" cy="117.3" r="3.2" fill="#3b78c6"/><circle cx="853.2" cy="135.5" r="3.2" fill="#3b78c6"/><circle cx="852" cy="141.3" r="3.2" fill="#3b78c6"/><circle cx="842.2" cy="143.5" r="3.2" fill="#3b78c6"/><circle cx="904.5" cy="113" r="3.2" fill="#3b78c6"/><circle cx="894.7" cy="115.2" r="3.2" fill="#3b78c6"/><circle cx="893.6" cy="121" r="3.2" fill="#3b78c6"/><circle cx="883.7" cy="123.2" r="3.2" fill="#3b78c6"/><circle cx="871.7" cy="137" r="3.2" fill="#3b78c6"/><circle cx="861.9" cy="139.2" r="3.2" fill="#3b78c6"/><circle cx="860.7" cy="145" r="3.2" fill="#3b78c6"/><circle cx="850.9" cy="147.2" r="3.2" fill="#3b78c6"/><circle cx="925.3" cy="102.8" r="3.2" fill="#3b78c6"/><circle cx="924.1" cy="108.6" r="3.2" fill="#3b78c6"/><circle cx="914.3" cy="110.8" r="3.2" fill="#3b78c6"/><circle cx="913.2" cy="116.6" r="3.2" fill="#3b78c6"/><circle cx="903.4" cy="118.8" r="3.2" fill="#3b78c6"/><circle cx="902.3" cy="124.6" r="3.2" fill="#3b78c6"/><circle cx="892.4" cy="126.8" r="3.2" fill="#3b78c6"/><circle cx="891.3" cy="132.6" r="3.2" fill="#3b78c6"/><circle cx="880.4" cy="140.6" r="3.2" fill="#3b78c6"/><circle cx="870.6" cy="142.8" r="3.2" fill="#3b78c6"/><circle cx="869.4" cy="148.6" r="3.2" fill="#3b78c6"/><circle cx="859.6" cy="150.8" r="3.2" fill="#3b78c6"/><circle cx="934" cy="106.4" r="3.2" fill="#3b78c6"/><circle cx="932.8" cy="112.3" r="3.2" fill="#3b78c6"/><circle cx="923" cy="114.4" r="3.2" fill="#3b78c6"/><circle cx="921.9" cy="120.3" r="3.2" fill="#3b78c6"/><circle cx="912.1" cy="122.4" r="3.2" fill="#3b78c6"/><circle cx="911" cy="128.3" r="3.2" fill="#3b78c6"/><circle cx="901.1" cy="130.4" r="3.2" fill="#3b78c6"/><circle cx="900" cy="136.3" r="3.2" fill="#3b78c6"/><circle cx="890.2" cy="138.4" r="3.2" fill="#3b78c6"/><circle cx="889.1" cy="144.3" r="3.2" fill="#3b78c6"/><circle cx="879.3" cy="146.4" r="3.2" fill="#3b78c6"/><circle cx="878.1" cy="152.3" r="3.2" fill="#3b78c6"/><circle cx="868.3" cy="154.4" r="3.2" fill="#3b78c6"/><circle cx="942.7" cy="110.1" r="3.2" fill="#3b78c6"/><circle cx="941.5" cy="115.9" r="3.2" fill="#3b78c6"/><circle cx="931.7" cy="118.1" r="3.2" fill="#3b78c6"/><circle cx="930.6" cy="123.9" r="3.2" fill="#3b78c6"/><circle cx="920.8" cy="126.1" r="3.2" fill="#3b78c6"/><circle cx="919.7" cy="131.9" r="3.2" fill="#3b78c6"/><circle cx="909.8" cy="134.1" r="3.2" fill="#3b78c6"/><circle cx="908.7" cy="139.9" r="3.2" fill="#3b78c6"/><circle cx="898.9" cy="142.1" r="3.2" fill="#3b78c6"/><circle cx="897.8" cy="147.9" r="3.2" fill="#3b78c6"/><circle cx="888" cy="150.1" r="3.2" fill="#3b78c6"/><circle cx="886.8" cy="155.9" r="3.2" fill="#3b78c6"/><circle cx="877" cy="158.1" r="3.2" fill="#3b78c6"/><circle cx="951.4" cy="113.7" r="3.2" fill="#3b78c6"/><circle cx="950.2" cy="119.6" r="3.2" fill="#3b78c6"/><circle cx="940.4" cy="121.7" r="3.2" fill="#3b78c6"/><circle cx="939.3" cy="127.6" r="3.2" fill="#3b78c6"/><circle cx="929.5" cy="129.7" r="3.2" fill="#3b78c6"/><circle cx="928.4" cy="135.6" r="3.2" fill="#3b78c6"/><circle cx="918.5" cy="137.7" r="3.2" fill="#3b78c6"/><circle cx="917.4" cy="143.6" r="3.2" fill="#3b78c6"/><circle cx="907.6" cy="145.7" r="3.2" fill="#3b78c6"/><circle cx="906.5" cy="151.6" r="3.2" fill="#3b78c6"/><circle cx="896.7" cy="153.7" r="3.2" fill="#3b78c6"/><circle cx="895.5" cy="159.6" r="3.2" fill="#3b78c6"/><circle cx="885.7" cy="161.7" r="3.2" fill="#3b78c6"/><circle cx="960.1" cy="117.4" r="3.2" fill="#3b78c6"/><circle cx="958.9" cy="123.2" r="3.2" fill="#3b78c6"/><circle cx="949.1" cy="125.4" r="3.2" fill="#3b78c6"/><circle cx="948" cy="131.2" r="3.2" fill="#3b78c6"/><circle cx="938.2" cy="133.4" r="3.2" fill="#3b78c6"/><circle cx="916.3" cy="149.4" r="3.2" fill="#3b78c6"/><circle cx="915.2" cy="155.2" r="3.2" fill="#3b78c6"/><circle cx="905.4" cy="157.4" r="3.2" fill="#3b78c6"/><circle cx="904.2" cy="163.2" r="3.2" fill="#3b78c6"/><circle cx="894.4" cy="165.4" r="3.2" fill="#3b78c6"/><circle cx="968.8" cy="121" r="3.2" fill="#3b78c6"/><circle cx="967.6" cy="126.8" r="3.2" fill="#3b78c6"/><circle cx="946.9" cy="137" r="3.2" fill="#3b78c6"/><circle cx="925" cy="153" r="3.2" fill="#3b78c6"/><circle cx="923.9" cy="158.8" r="3.2" fill="#3b78c6"/><circle cx="914.1" cy="161" r="3.2" fill="#3b78c6"/><circle cx="912.9" cy="166.8" r="3.2" fill="#3b78c6"/><circle cx="903.1" cy="169" r="3.2" fill="#3b78c6"/><circle cx="977.5" cy="124.7" r="3.2" fill="#3b78c6"/><circle cx="976.3" cy="130.5" r="3.2" fill="#3b78c6"/><circle cx="954.5" cy="146.5" r="3.2" fill="#3b78c6"/><circle cx="933.7" cy="156.7" r="3.2" fill="#3b78c6"/><circle cx="932.6" cy="162.5" r="3.2" fill="#3b78c6"/><circle cx="922.8" cy="164.7" r="3.2" fill="#3b78c6"/><circle cx="921.6" cy="170.5" r="3.2" fill="#3b78c6"/><circle cx="911.8" cy="172.7" r="3.2" fill="#3b78c6"/><circle cx="986.2" cy="128.3" r="3.2" fill="#3b78c6"/><circle cx="985" cy="134.1" r="3.2" fill="#3b78c6"/><circle cx="975.2" cy="136.3" r="3.2" fill="#3b78c6"/><circle cx="974.1" cy="142.1" r="3.2" fill="#3b78c6"/><circle cx="963.2" cy="150.1" r="3.2" fill="#3b78c6"/><circle cx="952.2" cy="158.1" r="3.2" fill="#3b78c6"/><circle cx="942.4" cy="160.3" r="3.2" fill="#3b78c6"/><circle cx="941.3" cy="166.1" r="3.2" fill="#3b78c6"/><circle cx="931.5" cy="168.3" r="3.2" fill="#3b78c6"/><circle cx="930.3" cy="174.1" r="3.2" fill="#3b78c6"/><circle cx="920.5" cy="176.3" r="3.2" fill="#3b78c6"/><circle cx="994.9" cy="132" r="3.2" fill="#3b78c6"/><circle cx="993.7" cy="137.8" r="3.2" fill="#3b78c6"/><circle cx="983.9" cy="140" r="3.2" fill="#3b78c6"/><circle cx="982.8" cy="145.8" r="3.2" fill="#3b78c6"/><circle cx="973" cy="148" r="3.2" fill="#3b78c6"/><circle cx="971.9" cy="153.8" r="3.2" fill="#3b78c6"/><circle cx="962" cy="156" r="3.2" fill="#3b78c6"/><circle cx="960.9" cy="161.8" r="3.2" fill="#3b78c6"/><circle cx="951.1" cy="164" r="3.2" fill="#3b78c6"/><circle cx="950" cy="169.8" r="3.2" fill="#3b78c6"/><circle cx="940.2" cy="172" r="3.2" fill="#3b78c6"/><circle cx="939" cy="177.8" r="3.2" fill="#3b78c6"/><circle cx="929.2" cy="180" r="3.2" fill="#3b78c6"/><circle cx="1003.6" cy="135.6" r="3.2" fill="#3b78c6"/><circle cx="992.6" cy="143.6" r="3.2" fill="#3b78c6"/><circle cx="981.7" cy="151.6" r="3.2" fill="#3b78c6"/><circle cx="970.7" cy="159.6" r="3.2" fill="#3b78c6"/><circle cx="959.8" cy="167.6" r="3.2" fill="#3b78c6"/><circle cx="948.9" cy="175.6" r="3.2" fill="#3b78c6"/><circle cx="937.9" cy="183.6" r="3.2" fill="#3b78c6"/><circle cx="803" cy="47.9" r="4.7" fill="url(#gr)"/><circle cx="807.3" cy="49.4" r="3.75" fill="url(#gb)"/><circle cx="830.6" cy="52.9" r="4.7" fill="url(#gr)"/><circle cx="816.5" cy="52.1" r="3.75" fill="url(#gb)"/><circle cx="810" cy="52.9" r="3.75" fill="url(#gb)"/><circle cx="799.1" cy="54.4" r="3.75" fill="url(#gb)"/><circle cx="806.3" cy="55.5" r="3.75" fill="url(#gb)"/><circle cx="788.8" cy="57.3" r="4.7" fill="url(#gr)"/><circle cx="818.7" cy="56.4" r="3.75" fill="url(#gb)"/><circle cx="824.7" cy="56.8" r="3.75" fill="url(#gb)"/><circle cx="796.8" cy="57.3" r="3.75" fill="url(#gb)"/><circle cx="808.3" cy="58.2" r="3.75" fill="url(#gb)"/><circle cx="814" cy="59" r="3.75" fill="url(#gb)"/><circle cx="826.5" cy="59.5" r="3.75" fill="url(#gb)"/><circle cx="799.2" cy="59.7" r="3.75" fill="url(#gb)"/><circle cx="804.2" cy="60.1" r="3.75" fill="url(#gb)"/><circle cx="833" cy="60.2" r="3.75" fill="url(#gb)"/><circle cx="816.9" cy="61.7" r="3.75" fill="url(#gb)"/><circle cx="788.9" cy="62.5" r="3.75" fill="url(#gb)"/><circle cx="795" cy="62.6" r="3.75" fill="url(#gb)"/><circle cx="822.9" cy="62.7" r="3.75" fill="url(#gb)"/><circle cx="841.5" cy="63" r="3.75" fill="url(#gb)"/><circle cx="779.4" cy="64.5" r="4.7" fill="url(#gr)"/><circle cx="836.1" cy="63.7" r="3.75" fill="url(#gb)"/><circle cx="806.9" cy="64.5" r="3.75" fill="url(#gb)"/><circle cx="784.5" cy="64.7" r="3.75" fill="url(#gb)"/><circle cx="814.3" cy="64.9" r="3.75" fill="url(#gb)"/><circle cx="826.4" cy="65.6" r="3.75" fill="url(#gb)"/><circle cx="831.9" cy="66.3" r="3.75" fill="url(#gb)"/><circle cx="844.4" cy="66.7" r="3.75" fill="url(#gb)"/><circle cx="798.2" cy="66.7" r="3.75" fill="url(#gb)"/><circle cx="803.3" cy="66.9" r="3.75" fill="url(#gb)"/><circle cx="851.3" cy="67.3" r="3.75" fill="url(#gb)"/><circle cx="816.8" cy="67.5" r="3.75" fill="url(#gb)"/><circle cx="793.7" cy="68.5" r="3.75" fill="url(#gb)"/><circle cx="822.9" cy="68.7" r="3.75" fill="url(#gb)"/><circle cx="787.4" cy="68.8" r="3.75" fill="url(#gb)"/><circle cx="806.2" cy="69.4" r="3.75" fill="url(#gb)"/><circle cx="834.2" cy="69.6" r="3.75" fill="url(#gb)"/><circle cx="840.9" cy="69.6" r="3.75" fill="url(#gb)"/><circle cx="778.3" cy="69.9" r="3.75" fill="url(#gb)"/><circle cx="784.5" cy="70.4" r="3.75" fill="url(#gb)"/><circle cx="852.8" cy="70.4" r="3.75" fill="url(#gb)"/><circle cx="812.4" cy="70.5" r="3.75" fill="url(#gb)"/><circle cx="859.6" cy="70.9" r="3.75" fill="url(#gb)"/><circle cx="824.8" cy="71.2" r="3.75" fill="url(#gb)"/><circle cx="830.3" cy="71.5" r="3.75" fill="url(#gb)"/><circle cx="802.5" cy="71.9" r="3.75" fill="url(#gb)"/><circle cx="796.5" cy="72.3" r="3.75" fill="url(#gb)"/><circle cx="843.2" cy="72.4" r="3.75" fill="url(#gb)"/><circle cx="774.4" cy="72.6" r="3.75" fill="url(#gb)"/><circle cx="849" cy="73.3" r="3.75" fill="url(#gb)"/><circle cx="815.6" cy="73.3" r="3.75" fill="url(#gb)"/><circle cx="820.7" cy="74.3" r="3.75" fill="url(#gb)"/><circle cx="861.5" cy="74.5" r="3.75" fill="url(#gb)"/><circle cx="787" cy="74.6" r="3.75" fill="url(#gb)"/><circle cx="833.2" cy="74.7" r="3.75" fill="url(#gb)"/><circle cx="868.1" cy="74.8" r="3.75" fill="url(#gb)"/><circle cx="792.3" cy="74.9" r="3.75" fill="url(#gb)"/><circle cx="840.1" cy="75.8" r="3.75" fill="url(#gb)"/><circle cx="805" cy="76.2" r="3.75" fill="url(#gb)"/><circle cx="858.8" cy="76.3" r="3.75" fill="url(#gb)"/><circle cx="811.6" cy="76.3" r="3.75" fill="url(#gb)"/><circle cx="823.5" cy="76.4" r="3.75" fill="url(#gb)"/><circle cx="852" cy="76.4" r="3.75" fill="url(#gb)"/><circle cx="776.1" cy="76.8" r="3.75" fill="url(#gb)"/><circle cx="782.3" cy="77.4" r="3.75" fill="url(#gb)"/><circle cx="795.3" cy="77.5" r="3.75" fill="url(#gb)"/><circle cx="891.1" cy="78.7" r="4.7" fill="url(#gr)"/><circle cx="870.2" cy="77.8" r="3.75" fill="url(#gb)"/><circle cx="829.3" cy="78" r="3.75" fill="url(#gb)"/><circle cx="877.2" cy="78.2" r="3.75" fill="url(#gb)"/><circle cx="898" cy="79.3" r="4.7" fill="url(#gr)"/><circle cx="802.1" cy="78.4" r="3.75" fill="url(#gb)"/><circle cx="772.8" cy="78.5" r="3.75" fill="url(#gb)"/><circle cx="841.5" cy="78.5" r="3.75" fill="url(#gb)"/><circle cx="814.2" cy="78.7" r="3.75" fill="url(#gb)"/><circle cx="848.4" cy="78.7" r="3.75" fill="url(#gb)"/><circle cx="767.7" cy="79" r="3.75" fill="url(#gb)"/><circle cx="820.2" cy="79.1" r="3.75" fill="url(#gb)"/><circle cx="860.7" cy="79.4" r="3.75" fill="url(#gb)"/><circle cx="784.9" cy="79.7" r="3.75" fill="url(#gb)"/><circle cx="756.7" cy="80.9" r="4.7" fill="url(#gr)"/><circle cx="791.1" cy="80.1" r="3.75" fill="url(#gb)"/><circle cx="832.8" cy="80.3" r="3.75" fill="url(#gb)"/><circle cx="879.6" cy="80.7" r="3.75" fill="url(#gb)"/><circle cx="866.5" cy="80.8" r="3.75" fill="url(#gb)"/><circle cx="885.3" cy="81.3" r="3.75" fill="url(#gb)"/><circle cx="763" cy="81.7" r="3.75" fill="url(#gb)"/><circle cx="838.2" cy="81.8" r="3.75" fill="url(#gb)"/><circle cx="850.4" cy="82.2" r="3.75" fill="url(#gb)"/><circle cx="856.7" cy="82.4" r="3.75" fill="url(#gb)"/><circle cx="822.6" cy="82.6" r="3.75" fill="url(#gb)"/><circle cx="775.5" cy="82.7" r="3.75" fill="url(#gb)"/><circle cx="828.4" cy="82.8" r="3.75" fill="url(#gb)"/><circle cx="782" cy="83.2" r="3.75" fill="url(#gb)"/><circle cx="869.6" cy="83.5" r="3.75" fill="url(#gb)"/><circle cx="847.7" cy="84.2" r="3.75" fill="url(#gb)"/><circle cx="772.1" cy="84.5" r="3.75" fill="url(#gb)"/><circle cx="765.9" cy="84.5" r="3.75" fill="url(#gb)"/><circle cx="875.5" cy="84.6" r="3.75" fill="url(#gb)"/><circle cx="840.7" cy="84.8" r="3.75" fill="url(#gb)"/><circle cx="813.2" cy="84.9" r="3.75" fill="url(#gb)"/><circle cx="894.5" cy="85.3" r="3.75" fill="url(#gb)"/><circle cx="859.9" cy="85.3" r="3.75" fill="url(#gb)"/><circle cx="865.7" cy="85.7" r="3.75" fill="url(#gb)"/><circle cx="784.2" cy="86.1" r="3.75" fill="url(#gb)"/><circle cx="819" cy="86.1" r="3.75" fill="url(#gb)"/><circle cx="831.9" cy="86.2" r="3.75" fill="url(#gb)"/><circle cx="791" cy="86.7" r="3.75" fill="url(#gb)"/><circle cx="756.3" cy="87.1" r="3.75" fill="url(#gb)"/><circle cx="837.8" cy="87.2" r="3.75" fill="url(#gb)"/><circle cx="774.3" cy="87.4" r="3.75" fill="url(#gb)"/><circle cx="761.8" cy="87.5" r="3.75" fill="url(#gb)"/><circle cx="878.2" cy="87.9" r="3.75" fill="url(#gb)"/><circle cx="896.1" cy="88.1" r="3.75" fill="url(#gb)"/><circle cx="849.2" cy="88.2" r="3.75" fill="url(#gb)"/><circle cx="856.2" cy="88.7" r="3.75" fill="url(#gb)"/><circle cx="781.1" cy="88.7" r="3.75" fill="url(#gb)"/><circle cx="821.6" cy="88.8" r="3.75" fill="url(#gb)"/><circle cx="753" cy="88.8" r="3.75" fill="url(#gb)"/><circle cx="867.8" cy="88.9" r="3.75" fill="url(#gb)"/><circle cx="827.8" cy="89.1" r="3.75" fill="url(#gb)"/><circle cx="902.9" cy="89.7" r="3.75" fill="url(#gb)"/><circle cx="874.5" cy="89.7" r="3.75" fill="url(#gb)"/><circle cx="770.3" cy="90.1" r="3.75" fill="url(#gb)"/><circle cx="845.5" cy="90.1" r="3.75" fill="url(#gb)"/><circle cx="839.3" cy="90.4" r="3.75" fill="url(#gb)"/><circle cx="765" cy="90.8" r="3.75" fill="url(#gb)"/><circle cx="818.1" cy="90.8" r="3.75" fill="url(#gb)"/><circle cx="892.6" cy="90.8" r="3.75" fill="url(#gb)"/><circle cx="812" cy="91" r="3.75" fill="url(#gb)"/><circle cx="859" cy="91.1" r="3.75" fill="url(#gb)"/><circle cx="830.4" cy="91.7" r="3.75" fill="url(#gb)"/><circle cx="905.6" cy="91.8" r="3.75" fill="url(#gb)"/><circle cx="754.7" cy="91.8" r="3.75" fill="url(#gb)"/><circle cx="925.7" cy="92.9" r="4.7" fill="url(#gr)"/><circle cx="783.5" cy="91.9" r="3.75" fill="url(#gb)"/><circle cx="864.5" cy="91.9" r="3.75" fill="url(#gb)"/><circle cx="760.6" cy="92.1" r="3.75" fill="url(#gb)"/><circle cx="789.8" cy="92.1" r="3.75" fill="url(#gb)"/><circle cx="876.4" cy="92.5" r="3.75" fill="url(#gb)"/><circle cx="807.8" cy="93" r="3.75" fill="url(#gb)"/><circle cx="912" cy="93" r="3.75" fill="url(#gb)"/><circle cx="801.9" cy="93.1" r="3.75" fill="url(#gb)"/><circle cx="848.8" cy="93.4" r="3.75" fill="url(#gb)"/><circle cx="837" cy="93.5" r="3.75" fill="url(#gb)"/><circle cx="883.1" cy="93.7" r="3.75" fill="url(#gb)"/><circle cx="773.1" cy="93.7" r="3.75" fill="url(#gb)"/><circle cx="854.5" cy="93.9" r="3.75" fill="url(#gb)"/><circle cx="820.7" cy="94.2" r="3.75" fill="url(#gb)"/><circle cx="750.8" cy="94.3" r="3.75" fill="url(#gb)"/><circle cx="895.8" cy="94.5" r="3.75" fill="url(#gb)"/><circle cx="779.4" cy="94.5" r="3.75" fill="url(#gb)"/><circle cx="901.7" cy="94.6" r="3.75" fill="url(#gb)"/><circle cx="827" cy="94.6" r="3.75" fill="url(#gb)"/><circle cx="744.8" cy="94.6" r="3.75" fill="url(#gb)"/><circle cx="867.8" cy="94.6" r="3.75" fill="url(#gb)"/><circle cx="792.2" cy="95.1" r="3.75" fill="url(#gb)"/><circle cx="913.9" cy="95.5" r="3.75" fill="url(#gb)"/><circle cx="873.9" cy="95.7" r="3.75" fill="url(#gb)"/><circle cx="764.3" cy="95.9" r="3.75" fill="url(#gb)"/><circle cx="919.6" cy="96.3" r="3.75" fill="url(#gb)"/><circle cx="798.8" cy="96.3" r="3.75" fill="url(#gb)"/><circle cx="838.6" cy="96.4" r="3.75" fill="url(#gb)"/><circle cx="845.5" cy="96.4" r="3.75" fill="url(#gb)"/><circle cx="770.2" cy="96.7" r="3.75" fill="url(#gb)"/><circle cx="810.2" cy="96.7" r="3.75" fill="url(#gb)"/><circle cx="816.7" cy="96.9" r="3.75" fill="url(#gb)"/><circle cx="856.9" cy="97.1" r="3.75" fill="url(#gb)"/><circle cx="863.2" cy="97.3" r="3.75" fill="url(#gb)"/><circle cx="740.8" cy="97.3" r="3.75" fill="url(#gb)"/><circle cx="782.3" cy="97.7" r="3.75" fill="url(#gb)"/><circle cx="759.8" cy="98.2" r="3.75" fill="url(#gb)"/><circle cx="788.5" cy="98.2" r="3.75" fill="url(#gb)"/><circle cx="876.1" cy="98.3" r="3.75" fill="url(#gb)"/><circle cx="723.3" cy="98.4" r="3.75" fill="url(#gb)"/><circle cx="729.8" cy="98.5" r="3.75" fill="url(#gb)"/><circle cx="753.9" cy="98.5" r="3.75" fill="url(#gb)"/><circle cx="800.8" cy="98.6" r="3.75" fill="url(#gb)"/><circle cx="881.7" cy="98.8" r="3.75" fill="url(#gb)"/><circle cx="829.2" cy="98.8" r="3.75" fill="url(#gb)"/><circle cx="834.5" cy="98.9" r="3.75" fill="url(#gb)"/><circle cx="806.8" cy="99.1" r="3.75" fill="url(#gb)"/><circle cx="777.8" cy="99.6" r="3.75" fill="url(#gb)"/><circle cx="743.8" cy="100" r="3.75" fill="url(#gb)"/><circle cx="922.8" cy="100" r="3.75" fill="url(#gb)"/><circle cx="853.3" cy="100.1" r="3.75" fill="url(#gb)"/><circle cx="772" cy="100.2" r="3.75" fill="url(#gb)"/><circle cx="846.9" cy="100.2" r="3.75" fill="url(#gb)"/><circle cx="825.7" cy="100.3" r="3.75" fill="url(#gb)"/><circle cx="865.9" cy="100.4" r="3.75" fill="url(#gb)"/><circle cx="750.1" cy="100.6" r="3.75" fill="url(#gb)"/><circle cx="929.4" cy="100.7" r="3.75" fill="url(#gb)"/><circle cx="895" cy="100.8" r="3.75" fill="url(#gb)"/><circle cx="797.6" cy="100.8" r="3.75" fill="url(#gb)"/><circle cx="901" cy="100.8" r="3.75" fill="url(#gb)"/><circle cx="818.9" cy="100.9" r="3.75" fill="url(#gb)"/><circle cx="790.3" cy="101.1" r="3.75" fill="url(#gb)"/><circle cx="871.8" cy="101.3" r="3.75" fill="url(#gb)"/><circle cx="837.1" cy="101.3" r="3.75" fill="url(#gb)"/><circle cx="761.8" cy="101.8" r="3.75" fill="url(#gb)"/><circle cx="919.4" cy="102" r="3.75" fill="url(#gb)"/><circle cx="719.6" cy="103.2" r="4.7" fill="url(#gr)"/><circle cx="768.9" cy="102.3" r="3.75" fill="url(#gb)"/><circle cx="733.9" cy="102.4" r="3.75" fill="url(#gb)"/><circle cx="809.7" cy="102.6" r="3.75" fill="url(#gb)"/><circle cx="856" cy="102.6" r="3.75" fill="url(#gb)"/><circle cx="843.7" cy="102.9" r="3.75" fill="url(#gb)"/><circle cx="740.8" cy="102.9" r="3.75" fill="url(#gb)"/><circle cx="815" cy="103.1" r="3.75" fill="url(#gb)"/><circle cx="931.7" cy="103.2" r="3.75" fill="url(#gb)"/><circle cx="787.4" cy="103.2" r="3.75" fill="url(#gb)"/><circle cx="827.5" cy="103.4" r="3.75" fill="url(#gb)"/><circle cx="902.4" cy="103.5" r="3.75" fill="url(#gb)"/><circle cx="862.1" cy="103.6" r="3.75" fill="url(#gb)"/><circle cx="937" cy="103.6" r="3.75" fill="url(#gb)"/><circle cx="874.6" cy="104.1" r="3.75" fill="url(#gb)"/><circle cx="730.8" cy="104.5" r="3.75" fill="url(#gb)"/><circle cx="752.1" cy="104.5" r="3.75" fill="url(#gb)"/><circle cx="834.7" cy="104.7" r="3.75" fill="url(#gb)"/><circle cx="805.1" cy="104.8" r="3.75" fill="url(#gb)"/><circle cx="880.4" cy="104.9" r="3.75" fill="url(#gb)"/><circle cx="922.2" cy="105.2" r="3.75" fill="url(#gb)"/><circle cx="799.5" cy="105.2" r="3.75" fill="url(#gb)"/><circle cx="743.3" cy="105.6" r="3.75" fill="url(#gb)"/><circle cx="770.8" cy="105.6" r="3.75" fill="url(#gb)"/><circle cx="817.9" cy="105.7" r="3.75" fill="url(#gb)"/><circle cx="846.7" cy="105.7" r="3.75" fill="url(#gb)"/><circle cx="893.8" cy="105.8" r="3.75" fill="url(#gb)"/><circle cx="927.7" cy="106" r="3.75" fill="url(#gb)"/><circle cx="777.3" cy="106.1" r="3.75" fill="url(#gb)"/><circle cx="748.4" cy="106.6" r="3.75" fill="url(#gb)"/><circle cx="851.9" cy="106.6" r="3.75" fill="url(#gb)"/><circle cx="940.2" cy="106.8" r="3.75" fill="url(#gb)"/><circle cx="824.9" cy="106.8" r="3.75" fill="url(#gb)"/><circle cx="865.3" cy="107" r="3.75" fill="url(#gb)"/><circle cx="898.9" cy="107" r="3.75" fill="url(#gb)"/><circle cx="945.7" cy="107.1" r="3.75" fill="url(#gb)"/><circle cx="871" cy="107.1" r="3.75" fill="url(#gb)"/><circle cx="912.4" cy="107.3" r="3.75" fill="url(#gb)"/><circle cx="789.9" cy="107.4" r="3.75" fill="url(#gb)"/><circle cx="796.4" cy="107.4" r="3.75" fill="url(#gb)"/><circle cx="767.7" cy="107.4" r="3.75" fill="url(#gb)"/><circle cx="836.1" cy="107.8" r="3.75" fill="url(#gb)"/><circle cx="807.7" cy="108.1" r="3.75" fill="url(#gb)"/><circle cx="814.6" cy="108.2" r="3.75" fill="url(#gb)"/><circle cx="917.7" cy="108.3" r="3.75" fill="url(#gb)"/><circle cx="884" cy="108.3" r="3.75" fill="url(#gb)"/><circle cx="890" cy="108.6" r="3.75" fill="url(#gb)"/><circle cx="842.7" cy="108.7" r="3.75" fill="url(#gb)"/><circle cx="779.5" cy="108.7" r="3.75" fill="url(#gb)"/><circle cx="854.7" cy="109.1" r="3.75" fill="url(#gb)"/><circle cx="827.2" cy="109.3" r="3.75" fill="url(#gb)"/><circle cx="930.1" cy="109.4" r="3.75" fill="url(#gb)"/><circle cx="739.5" cy="109.4" r="3.75" fill="url(#gb)"/><circle cx="785.9" cy="109.4" r="3.75" fill="url(#gb)"/><circle cx="908.4" cy="109.7" r="3.75" fill="url(#gb)"/><circle cx="935.9" cy="109.7" r="3.75" fill="url(#gb)"/><circle cx="861.8" cy="109.8" r="3.75" fill="url(#gb)"/><circle cx="902.3" cy="110.1" r="3.75" fill="url(#gb)"/><circle cx="736.9" cy="111.1" r="4.7" fill="url(#gr)"/><circle cx="751.5" cy="110.2" r="3.75" fill="url(#gb)"/><circle cx="804" cy="110.4" r="3.75" fill="url(#gb)"/><circle cx="757.4" cy="110.5" r="3.75" fill="url(#gb)"/><circle cx="832.6" cy="110.5" r="3.75" fill="url(#gb)"/><circle cx="770" cy="110.8" r="3.75" fill="url(#gb)"/><circle cx="949.5" cy="110.8" r="3.75" fill="url(#gb)"/><circle cx="921.1" cy="110.8" r="3.75" fill="url(#gb)"/><circle cx="797.7" cy="110.9" r="3.75" fill="url(#gb)"/><circle cx="879.7" cy="110.9" r="3.75" fill="url(#gb)"/><circle cx="844.7" cy="111" r="3.75" fill="url(#gb)"/><circle cx="954.5" cy="111.1" r="3.75" fill="url(#gb)"/><circle cx="874" cy="111.1" r="3.75" fill="url(#gb)"/><circle cx="776.9" cy="111.5" r="3.75" fill="url(#gb)"/><circle cx="816.6" cy="111.7" r="3.75" fill="url(#gb)"/><circle cx="851.3" cy="111.8" r="3.75" fill="url(#gb)"/><circle cx="823.3" cy="112.2" r="3.75" fill="url(#gb)"/><circle cx="926.7" cy="112.4" r="3.75" fill="url(#gb)"/><circle cx="892.4" cy="112.5" r="3.75" fill="url(#gb)"/><circle cx="945.2" cy="112.6" r="3.75" fill="url(#gb)"/><circle cx="748.1" cy="112.8" r="3.75" fill="url(#gb)"/><circle cx="864.2" cy="112.8" r="3.75" fill="url(#gb)"/><circle cx="788.9" cy="112.8" r="3.75" fill="url(#gb)"/><circle cx="835.8" cy="112.9" r="3.75" fill="url(#gb)"/><circle cx="899" cy="113" r="3.75" fill="url(#gb)"/><circle cx="938.9" cy="113.1" r="3.75" fill="url(#gb)"/><circle cx="794.7" cy="113.3" r="3.75" fill="url(#gb)"/><circle cx="765.8" cy="113.3" r="3.75" fill="url(#gb)"/><circle cx="916.2" cy="113.4" r="3.75" fill="url(#gb)"/><circle cx="882.2" cy="113.5" r="3.75" fill="url(#gb)"/><circle cx="910.8" cy="113.6" r="3.75" fill="url(#gb)"/><circle cx="870" cy="113.9" r="3.75" fill="url(#gb)"/><circle cx="841.1" cy="114" r="3.75" fill="url(#gb)"/><circle cx="929.8" cy="114.3" r="3.75" fill="url(#gb)"/><circle cx="813.5" cy="114.4" r="3.75" fill="url(#gb)"/><circle cx="807.2" cy="114.5" r="3.75" fill="url(#gb)"/><circle cx="958.2" cy="114.5" r="3.75" fill="url(#gb)"/><circle cx="963.3" cy="114.6" r="3.75" fill="url(#gb)"/><circle cx="825.3" cy="115" r="3.75" fill="url(#gb)"/><circle cx="888.7" cy="115.1" r="3.75" fill="url(#gb)"/><circle cx="779.4" cy="115.4" r="3.75" fill="url(#gb)"/><circle cx="831.4" cy="115.4" r="3.75" fill="url(#gb)"/><circle cx="854.2" cy="115.5" r="3.75" fill="url(#gb)"/><circle cx="935.3" cy="115.6" r="3.75" fill="url(#gb)"/><circle cx="756.4" cy="115.6" r="3.75" fill="url(#gb)"/><circle cx="906.6" cy="115.7" r="3.75" fill="url(#gb)"/><circle cx="860.1" cy="115.8" r="3.75" fill="url(#gb)"/><circle cx="784.9" cy="115.9" r="3.75" fill="url(#gb)"/><circle cx="797.2" cy="116" r="3.75" fill="url(#gb)"/><circle cx="901.1" cy="116.1" r="3.75" fill="url(#gb)"/><circle cx="947.9" cy="116.2" r="3.75" fill="url(#gb)"/><circle cx="804" cy="116.3" r="3.75" fill="url(#gb)"/><circle cx="953.3" cy="116.3" r="3.75" fill="url(#gb)"/><circle cx="919.1" cy="116.6" r="3.75" fill="url(#gb)"/><circle cx="878.7" cy="117" r="3.75" fill="url(#gb)"/><circle cx="769.6" cy="117" r="3.75" fill="url(#gb)"/><circle cx="775.3" cy="117.2" r="3.75" fill="url(#gb)"/><circle cx="815.7" cy="117.3" r="3.75" fill="url(#gb)"/><circle cx="965.6" cy="117.3" r="3.75" fill="url(#gb)"/><circle cx="972.1" cy="117.7" r="3.75" fill="url(#gb)"/><circle cx="850.7" cy="117.8" r="3.75" fill="url(#gb)"/><circle cx="890.6" cy="117.8" r="3.75" fill="url(#gb)"/><circle cx="925.9" cy="117.9" r="3.75" fill="url(#gb)"/><circle cx="787.3" cy="118.3" r="3.75" fill="url(#gb)"/><circle cx="897.5" cy="118.5" r="3.75" fill="url(#gb)"/><circle cx="938.4" cy="118.8" r="3.75" fill="url(#gb)"/><circle cx="821.9" cy="118.9" r="3.75" fill="url(#gb)"/><circle cx="793.8" cy="119" r="3.75" fill="url(#gb)"/><circle cx="943.9" cy="119" r="3.75" fill="url(#gb)"/><circle cx="834.9" cy="119.4" r="3.75" fill="url(#gb)"/><circle cx="765.2" cy="119.4" r="3.75" fill="url(#gb)"/><circle cx="909.7" cy="119.5" r="3.75" fill="url(#gb)"/><circle cx="915.7" cy="119.6" r="3.75" fill="url(#gb)"/><circle cx="957.1" cy="119.7" r="3.75" fill="url(#gb)"/><circle cx="880.8" cy="119.8" r="3.75" fill="url(#gb)"/><circle cx="806.4" cy="119.9" r="3.75" fill="url(#gb)"/><circle cx="962.4" cy="120" r="3.75" fill="url(#gb)"/><circle cx="887.9" cy="120.1" r="3.75" fill="url(#gb)"/><circle cx="934.4" cy="120.6" r="3.75" fill="url(#gb)"/><circle cx="812.6" cy="120.6" r="3.75" fill="url(#gb)"/><circle cx="784.3" cy="120.7" r="3.75" fill="url(#gb)"/><circle cx="777.4" cy="121.1" r="3.75" fill="url(#gb)"/><circle cx="927.4" cy="121.1" r="3.75" fill="url(#gb)"/><circle cx="852.5" cy="121.1" r="3.75" fill="url(#gb)"/><circle cx="824.3" cy="121.2" r="3.75" fill="url(#gb)"/><circle cx="899.1" cy="121.4" r="3.75" fill="url(#gb)"/><circle cx="831.2" cy="121.5" r="3.75" fill="url(#gb)"/><circle cx="975.3" cy="121.5" r="3.75" fill="url(#gb)"/><circle cx="796.8" cy="121.9" r="3.75" fill="url(#gb)"/><circle cx="877.3" cy="122" r="3.75" fill="url(#gb)"/><circle cx="906.2" cy="122.3" r="3.75" fill="url(#gb)"/><circle cx="842.4" cy="122.4" r="3.75" fill="url(#gb)"/><circle cx="802.9" cy="122.6" r="3.75" fill="url(#gb)"/><circle cx="980.5" cy="122.7" r="3.75" fill="url(#gb)"/><circle cx="849.1" cy="122.9" r="3.75" fill="url(#gb)"/><circle cx="946.7" cy="122.9" r="3.75" fill="url(#gb)"/><circle cx="952.4" cy="123.1" r="3.75" fill="url(#gb)"/><circle cx="964.6" cy="123.3" r="3.75" fill="url(#gb)"/><circle cx="918.6" cy="123.5" r="3.75" fill="url(#gb)"/><circle cx="890.6" cy="123.7" r="3.75" fill="url(#gb)"/><circle cx="820.8" cy="123.8" r="3.75" fill="url(#gb)"/><circle cx="773.4" cy="123.8" r="3.75" fill="url(#gb)"/><circle cx="861.7" cy="123.8" r="3.75" fill="url(#gb)"/><circle cx="815" cy="123.9" r="3.75" fill="url(#gb)"/><circle cx="924.3" cy="123.9" r="3.75" fill="url(#gb)"/><circle cx="971.8" cy="124.1" r="3.75" fill="url(#gb)"/><circle cx="936.4" cy="124.5" r="3.75" fill="url(#gb)"/><circle cx="785.9" cy="124.5" r="3.75" fill="url(#gb)"/><circle cx="896.5" cy="124.8" r="3.75" fill="url(#gb)"/><circle cx="942.6" cy="125" r="3.75" fill="url(#gb)"/><circle cx="791.9" cy="125.1" r="3.75" fill="url(#gb)"/><circle cx="832.6" cy="125.1" r="3.75" fill="url(#gb)"/><circle cx="914.4" cy="125.3" r="3.75" fill="url(#gb)"/><circle cx="983.5" cy="125.3" r="3.75" fill="url(#gb)"/><circle cx="879.9" cy="125.4" r="3.75" fill="url(#gb)"/><circle cx="908.4" cy="125.4" r="3.75" fill="url(#gb)"/><circle cx="990.4" cy="125.4" r="3.75" fill="url(#gb)"/><circle cx="955.6" cy="125.5" r="3.75" fill="url(#gb)"/><circle cx="886.1" cy="125.6" r="3.75" fill="url(#gb)"/><circle cx="839.1" cy="125.8" r="3.75" fill="url(#gb)"/><circle cx="805" cy="125.9" r="3.75" fill="url(#gb)"/><circle cx="810.6" cy="125.9" r="3.75" fill="url(#gb)"/><circle cx="933.4" cy="126.6" r="3.75" fill="url(#gb)"/><circle cx="858.4" cy="126.9" r="3.75" fill="url(#gb)"/><circle cx="961.1" cy="127" r="3.75" fill="url(#gb)"/><circle cx="973.7" cy="127.1" r="3.75" fill="url(#gb)"/><circle cx="927.4" cy="127.2" r="3.75" fill="url(#gb)"/><circle cx="851.1" cy="127.2" r="3.75" fill="url(#gb)"/><circle cx="794.5" cy="127.3" r="3.75" fill="url(#gb)"/><circle cx="823.2" cy="127.4" r="3.75" fill="url(#gb)"/><circle cx="980.3" cy="127.5" r="3.75" fill="url(#gb)"/><circle cx="782.7" cy="127.5" r="3.75" fill="url(#gb)"/><circle cx="898.4" cy="127.8" r="3.75" fill="url(#gb)"/><circle cx="829.6" cy="127.8" r="3.75" fill="url(#gb)"/><circle cx="905.2" cy="127.9" r="3.75" fill="url(#gb)"/><circle cx="841.6" cy="128.1" r="3.75" fill="url(#gb)"/><circle cx="945.3" cy="128.2" r="3.75" fill="url(#gb)"/><circle cx="801.6" cy="128.3" r="3.75" fill="url(#gb)"/><circle cx="773.4" cy="129.7" r="4.7" fill="url(#gr)"/><circle cx="952.1" cy="128.7" r="3.75" fill="url(#gb)"/><circle cx="992.8" cy="128.8" r="3.75" fill="url(#gb)"/><circle cx="963.6" cy="128.9" r="3.75" fill="url(#gb)"/><circle cx="999.1" cy="129" r="3.75" fill="url(#gb)"/><circle cx="876.7" cy="129" r="3.75" fill="url(#gb)"/><circle cx="917.5" cy="129.3" r="3.75" fill="url(#gb)"/><circle cx="847.4" cy="129.3" r="3.75" fill="url(#gb)"/><circle cx="969.6" cy="129.4" r="3.75" fill="url(#gb)"/><circle cx="888.4" cy="129.7" r="3.75" fill="url(#gb)"/><circle cx="923.1" cy="129.9" r="3.75" fill="url(#gb)"/><circle cx="791" cy="130" r="3.75" fill="url(#gb)"/><circle cx="860.2" cy="130" r="3.75" fill="url(#gb)"/><circle cx="813.8" cy="130" r="3.75" fill="url(#gb)"/><circle cx="831.4" cy="130.3" r="3.75" fill="url(#gb)"/><circle cx="941.5" cy="130.4" r="3.75" fill="url(#gb)"/><circle cx="820.1" cy="130.5" r="3.75" fill="url(#gb)"/><circle cx="935.6" cy="130.5" r="3.75" fill="url(#gb)"/><circle cx="895.2" cy="130.5" r="3.75" fill="url(#gb)"/><circle cx="907" cy="130.7" r="3.75" fill="url(#gb)"/><circle cx="988.2" cy="130.8" r="3.75" fill="url(#gb)"/><circle cx="804.4" cy="130.9" r="3.75" fill="url(#gb)"/><circle cx="983.1" cy="130.9" r="3.75" fill="url(#gb)"/><circle cx="954" cy="131.1" r="3.75" fill="url(#gb)"/><circle cx="838.6" cy="131.5" r="3.75" fill="url(#gb)"/><circle cx="913" cy="131.8" r="3.75" fill="url(#gb)"/><circle cx="810.1" cy="132" r="3.75" fill="url(#gb)"/><circle cx="885.6" cy="132.1" r="3.75" fill="url(#gb)"/><circle cx="1007.2" cy="132.3" r="3.75" fill="url(#gb)"/><circle cx="925.7" cy="132.4" r="3.75" fill="url(#gb)"/><circle cx="1001.5" cy="132.7" r="3.75" fill="url(#gb)"/><circle cx="850.6" cy="132.9" r="3.75" fill="url(#gb)"/><circle cx="822" cy="133" r="3.75" fill="url(#gb)"/><circle cx="896.9" cy="133" r="3.75" fill="url(#gb)"/><circle cx="973" cy="133" r="3.75" fill="url(#gb)"/><circle cx="856.8" cy="133.1" r="3.75" fill="url(#gb)"/><circle cx="931.3" cy="133.3" r="3.75" fill="url(#gb)"/><circle cx="869" cy="133.3" r="3.75" fill="url(#gb)"/><circle cx="827.9" cy="133.4" r="3.75" fill="url(#gb)"/><circle cx="904.1" cy="133.6" r="3.75" fill="url(#gb)"/><circle cx="944.9" cy="133.8" r="3.75" fill="url(#gb)"/><circle cx="840.5" cy="134.1" r="3.75" fill="url(#gb)"/><circle cx="978.8" cy="134.2" r="3.75" fill="url(#gb)"/><circle cx="991.5" cy="134.4" r="3.75" fill="url(#gb)"/><circle cx="875.9" cy="134.5" r="3.75" fill="url(#gb)"/><circle cx="950.4" cy="134.5" r="3.75" fill="url(#gb)"/><circle cx="846.8" cy="134.6" r="3.75" fill="url(#gb)"/><circle cx="799.5" cy="134.7" r="3.75" fill="url(#gb)"/><circle cx="887.1" cy="134.9" r="3.75" fill="url(#gb)"/><circle cx="811.9" cy="135" r="3.75" fill="url(#gb)"/><circle cx="969.6" cy="135.2" r="3.75" fill="url(#gb)"/><circle cx="915.9" cy="135.2" r="3.75" fill="url(#gb)"/><circle cx="819.1" cy="135.3" r="3.75" fill="url(#gb)"/><circle cx="934" cy="135.4" r="3.75" fill="url(#gb)"/><circle cx="922.3" cy="135.5" r="3.75" fill="url(#gb)"/><circle cx="997.3" cy="135.6" r="3.75" fill="url(#gb)"/><circle cx="893.5" cy="136" r="3.75" fill="url(#gb)"/><circle cx="941.3" cy="136.1" r="3.75" fill="url(#gb)"/><circle cx="906.1" cy="136.4" r="3.75" fill="url(#gb)"/><circle cx="1010.1" cy="136.5" r="3.75" fill="url(#gb)"/><circle cx="865.8" cy="136.6" r="3.75" fill="url(#gb)"/><circle cx="859.2" cy="136.7" r="3.75" fill="url(#gb)"/><circle cx="981.5" cy="136.8" r="3.75" fill="url(#gb)"/><circle cx="913.1" cy="136.8" r="3.75" fill="url(#gb)"/><circle cx="837.2" cy="137" r="3.75" fill="url(#gb)"/><circle cx="953.3" cy="137.1" r="3.75" fill="url(#gb)"/><circle cx="987.9" cy="137.3" r="3.75" fill="url(#gb)"/><circle cx="831.5" cy="137.3" r="3.75" fill="url(#gb)"/><circle cx="883.5" cy="137.4" r="3.75" fill="url(#gb)"/><circle cx="877.4" cy="137.6" r="3.75" fill="url(#gb)"/><circle cx="924.1" cy="138.2" r="3.75" fill="url(#gb)"/><circle cx="808.2" cy="138.3" r="3.75" fill="url(#gb)"/><circle cx="1005" cy="146.4" r="4.7" fill="url(#gr)"/><circle cx="849.8" cy="138.4" r="3.75" fill="url(#gb)"/><circle cx="1000.1" cy="138.6" r="3.75" fill="url(#gb)"/><circle cx="895.8" cy="138.6" r="3.75" fill="url(#gb)"/><circle cx="821.1" cy="138.7" r="3.75" fill="url(#gb)"/><circle cx="931.2" cy="138.8" r="3.75" fill="url(#gb)"/><circle cx="971.2" cy="138.9" r="3.75" fill="url(#gb)"/><circle cx="827.5" cy="139" r="3.75" fill="url(#gb)"/><circle cx="902.5" cy="139.1" r="3.75" fill="url(#gb)"/><circle cx="1006.3" cy="139.2" r="3.75" fill="url(#gb)"/><circle cx="856.1" cy="139.3" r="3.75" fill="url(#gb)"/><circle cx="868.3" cy="139.5" r="3.75" fill="url(#gb)"/><circle cx="943.5" cy="139.6" r="3.75" fill="url(#gb)"/><circle cx="914.7" cy="139.7" r="3.75" fill="url(#gb)"/><circle cx="977.4" cy="139.8" r="3.75" fill="url(#gb)"/><circle cx="840" cy="140" r="3.75" fill="url(#gb)"/><circle cx="948.9" cy="140.2" r="3.75" fill="url(#gb)"/><circle cx="873.6" cy="140.5" r="3.75" fill="url(#gb)"/><circle cx="990.4" cy="140.6" r="3.75" fill="url(#gb)"/><circle cx="920.4" cy="140.7" r="3.75" fill="url(#gb)"/><circle cx="817.3" cy="140.9" r="3.75" fill="url(#gb)"/><circle cx="996.8" cy="141.1" r="3.75" fill="url(#gb)"/><circle cx="887.2" cy="141.2" r="3.75" fill="url(#gb)"/><circle cx="845.9" cy="141.3" r="3.75" fill="url(#gb)"/><circle cx="857.9" cy="141.5" r="3.75" fill="url(#gb)"/><circle cx="892.2" cy="141.6" r="3.75" fill="url(#gb)"/><circle cx="968.3" cy="141.8" r="3.75" fill="url(#gb)"/><circle cx="864.9" cy="141.9" r="3.75" fill="url(#gb)"/><circle cx="980.3" cy="141.9" r="3.75" fill="url(#gb)"/><circle cx="905.3" cy="142" r="3.75" fill="url(#gb)"/><circle cx="986.9" cy="142.6" r="3.75" fill="url(#gb)"/><circle cx="835.8" cy="142.7" r="3.75" fill="url(#gb)"/><circle cx="939.7" cy="142.9" r="3.75" fill="url(#gb)"/><circle cx="911" cy="143" r="3.75" fill="url(#gb)"/><circle cx="830.5" cy="143" r="3.75" fill="url(#gb)"/><circle cx="957.8" cy="143.4" r="3.75" fill="url(#gb)"/><circle cx="922.9" cy="143.4" r="3.75" fill="url(#gb)"/><circle cx="877.1" cy="143.7" r="3.75" fill="url(#gb)"/><circle cx="952.5" cy="143.7" r="3.75" fill="url(#gb)"/><circle cx="848.2" cy="144.1" r="3.75" fill="url(#gb)"/><circle cx="882.7" cy="144.4" r="3.75" fill="url(#gb)"/><circle cx="969.9" cy="144.4" r="3.75" fill="url(#gb)"/><circle cx="894.7" cy="144.6" r="3.75" fill="url(#gb)"/><circle cx="998.1" cy="144.6" r="3.75" fill="url(#gb)"/><circle cx="854.7" cy="145" r="3.75" fill="url(#gb)"/><circle cx="901" cy="145.2" r="3.75" fill="url(#gb)"/><circle cx="838.3" cy="145.6" r="3.75" fill="url(#gb)"/><circle cx="977" cy="145.7" r="3.75" fill="url(#gb)"/><circle cx="948.8" cy="146" r="3.75" fill="url(#gb)"/><circle cx="988.4" cy="146" r="3.75" fill="url(#gb)"/><circle cx="867.5" cy="146.1" r="3.75" fill="url(#gb)"/><circle cx="873.5" cy="146.3" r="3.75" fill="url(#gb)"/><circle cx="995.8" cy="146.3" r="3.75" fill="url(#gb)"/><circle cx="845" cy="146.7" r="3.75" fill="url(#gb)"/><circle cx="920.4" cy="146.7" r="3.75" fill="url(#gb)"/><circle cx="884.9" cy="146.7" r="3.75" fill="url(#gb)"/><circle cx="914" cy="146.8" r="3.75" fill="url(#gb)"/><circle cx="960.1" cy="147.7" r="3.75" fill="url(#gb)"/><circle cx="967.1" cy="147.8" r="3.75" fill="url(#gb)"/><circle cx="979.6" cy="147.8" r="3.75" fill="url(#gb)"/><circle cx="856.6" cy="147.8" r="3.75" fill="url(#gb)"/><circle cx="892.2" cy="148" r="3.75" fill="url(#gb)"/><circle cx="984.8" cy="148.8" r="3.75" fill="url(#gb)"/><circle cx="863.4" cy="148.8" r="3.75" fill="url(#gb)"/><circle cx="882.2" cy="148.9" r="3.75" fill="url(#gb)"/><circle cx="876" cy="148.9" r="3.75" fill="url(#gb)"/><circle cx="909.9" cy="148.9" r="3.75" fill="url(#gb)"/><circle cx="904.2" cy="149" r="3.75" fill="url(#gb)"/><circle cx="950.3" cy="149" r="3.75" fill="url(#gb)"/><circle cx="956.5" cy="149.2" r="3.75" fill="url(#gb)"/><circle cx="923" cy="149.2" r="3.75" fill="url(#gb)"/><circle cx="893.7" cy="149.9" r="3.75" fill="url(#gb)"/><circle cx="846.7" cy="149.9" r="3.75" fill="url(#gb)"/><circle cx="853.8" cy="149.9" r="3.75" fill="url(#gb)"/><circle cx="928.1" cy="150" r="3.75" fill="url(#gb)"/><circle cx="968.8" cy="150.2" r="3.75" fill="url(#gb)"/><circle cx="865.2" cy="150.7" r="3.75" fill="url(#gb)"/><circle cx="975.5" cy="151.1" r="3.75" fill="url(#gb)"/><circle cx="871.3" cy="151.4" r="3.75" fill="url(#gb)"/><circle cx="987.3" cy="151.7" r="3.75" fill="url(#gb)"/><circle cx="900.9" cy="151.7" r="3.75" fill="url(#gb)"/><circle cx="918.9" cy="152" r="3.75" fill="url(#gb)"/><circle cx="913" cy="152.2" r="3.75" fill="url(#gb)"/><circle cx="884.4" cy="152.2" r="3.75" fill="url(#gb)"/><circle cx="958.9" cy="152.7" r="3.75" fill="url(#gb)"/><circle cx="937" cy="153.3" r="3.75" fill="url(#gb)"/><circle cx="855.8" cy="153.4" r="3.75" fill="url(#gb)"/><circle cx="861.5" cy="153.5" r="3.75" fill="url(#gb)"/><circle cx="931.2" cy="153.6" r="3.75" fill="url(#gb)"/><circle cx="902.5" cy="153.8" r="3.75" fill="url(#gb)"/><circle cx="966.3" cy="153.8" r="3.75" fill="url(#gb)"/><circle cx="890.9" cy="153.9" r="3.75" fill="url(#gb)"/><circle cx="909.2" cy="154.3" r="3.75" fill="url(#gb)"/><circle cx="977.7" cy="154.6" r="3.75" fill="url(#gb)"/><circle cx="983.5" cy="154.7" r="3.75" fill="url(#gb)"/><circle cx="874.4" cy="154.8" r="3.75" fill="url(#gb)"/><circle cx="949.2" cy="155.3" r="3.75" fill="url(#gb)"/><circle cx="921.6" cy="155.6" r="3.75" fill="url(#gb)"/><circle cx="956" cy="156" r="3.75" fill="url(#gb)"/><circle cx="880.3" cy="156" r="3.75" fill="url(#gb)"/><circle cx="928.1" cy="156.3" r="3.75" fill="url(#gb)"/><circle cx="899.8" cy="156.3" r="3.75" fill="url(#gb)"/><circle cx="974.2" cy="156.5" r="3.75" fill="url(#gb)"/><circle cx="852.6" cy="156.5" r="3.75" fill="url(#gb)"/><circle cx="892.9" cy="156.7" r="3.75" fill="url(#gb)"/><circle cx="940" cy="156.9" r="3.75" fill="url(#gb)"/><circle cx="967.8" cy="156.9" r="3.75" fill="url(#gb)"/><circle cx="870.9" cy="157" r="3.75" fill="url(#gb)"/><circle cx="912.2" cy="157.3" r="3.75" fill="url(#gb)"/><circle cx="945.5" cy="157.8" r="3.75" fill="url(#gb)"/><circle cx="864.3" cy="157.8" r="3.75" fill="url(#gb)"/><circle cx="883.8" cy="157.9" r="3.75" fill="url(#gb)"/><circle cx="958.6" cy="158.2" r="3.75" fill="url(#gb)"/><circle cx="918.1" cy="158.8" r="3.75" fill="url(#gb)"/><circle cx="889.4" cy="158.9" r="3.75" fill="url(#gb)"/><circle cx="964.8" cy="159" r="3.75" fill="url(#gb)"/><circle cx="901.1" cy="159.4" r="3.75" fill="url(#gb)"/><circle cx="860.9" cy="159.7" r="3.75" fill="url(#gb)"/><circle cx="935.7" cy="159.8" r="3.75" fill="url(#gb)"/><circle cx="930.7" cy="160" r="3.75" fill="url(#gb)"/><circle cx="948.2" cy="160.6" r="3.75" fill="url(#gb)"/><circle cx="954.4" cy="160.6" r="3.75" fill="url(#gb)"/><circle cx="977.5" cy="160.6" r="3.75" fill="url(#gb)"/><circle cx="907.3" cy="160.8" r="3.75" fill="url(#gb)"/><circle cx="919.9" cy="161" r="3.75" fill="url(#gb)"/><circle cx="873" cy="161.1" r="3.75" fill="url(#gb)"/><circle cx="879.1" cy="161.1" r="3.75" fill="url(#gb)"/><circle cx="926.4" cy="161.4" r="3.75" fill="url(#gb)"/><circle cx="892.5" cy="161.9" r="3.75" fill="url(#gb)"/><circle cx="967" cy="162.2" r="3.75" fill="url(#gb)"/><circle cx="973.5" cy="162.4" r="3.75" fill="url(#gb)"/><circle cx="898" cy="162.9" r="3.75" fill="url(#gb)"/><circle cx="938.2" cy="163.3" r="3.75" fill="url(#gb)"/><circle cx="911" cy="163.4" r="3.75" fill="url(#gb)"/><circle cx="944.3" cy="163.8" r="3.75" fill="url(#gb)"/><circle cx="869.5" cy="163.8" r="3.75" fill="url(#gb)"/><circle cx="916.2" cy="164" r="3.75" fill="url(#gb)"/><circle cx="881.6" cy="164.2" r="3.75" fill="url(#gb)"/><circle cx="963.3" cy="164.3" r="3.75" fill="url(#gb)"/><circle cx="957.5" cy="164.6" r="3.75" fill="url(#gb)"/><circle cx="929.3" cy="164.6" r="3.75" fill="url(#gb)"/><circle cx="888.3" cy="165.3" r="3.75" fill="url(#gb)"/><circle cx="934.9" cy="165.8" r="3.75" fill="url(#gb)"/><circle cx="901.1" cy="166.2" r="3.75" fill="url(#gb)"/><circle cx="947.4" cy="166.4" r="3.75" fill="url(#gb)"/><circle cx="906.9" cy="166.6" r="3.75" fill="url(#gb)"/><circle cx="954" cy="167.1" r="3.75" fill="url(#gb)"/><circle cx="878.4" cy="167.2" r="3.75" fill="url(#gb)"/><circle cx="925.3" cy="167.2" r="3.75" fill="url(#gb)"/><circle cx="919.8" cy="167.4" r="3.75" fill="url(#gb)"/><circle cx="891.2" cy="167.5" r="3.75" fill="url(#gb)"/><circle cx="965.9" cy="168.5" r="3.75" fill="url(#gb)"/><circle cx="896.3" cy="168.7" r="3.75" fill="url(#gb)"/><circle cx="937.8" cy="168.8" r="3.75" fill="url(#gb)"/><circle cx="909.9" cy="169" r="3.75" fill="url(#gb)"/><circle cx="944.1" cy="169.1" r="3.75" fill="url(#gb)"/><circle cx="915.4" cy="169.7" r="3.75" fill="url(#gb)"/><circle cx="887.5" cy="170.4" r="3.75" fill="url(#gb)"/><circle cx="956.4" cy="170.6" r="3.75" fill="url(#gb)"/><circle cx="927.5" cy="170.7" r="3.75" fill="url(#gb)"/><circle cx="962.6" cy="171.3" r="3.75" fill="url(#gb)"/><circle cx="898.9" cy="171.9" r="3.75" fill="url(#gb)"/><circle cx="906" cy="171.9" r="3.75" fill="url(#gb)"/><circle cx="934.5" cy="172.1" r="3.75" fill="url(#gb)"/><circle cx="946.5" cy="172.8" r="3.75" fill="url(#gb)"/><circle cx="924.7" cy="173.1" r="3.75" fill="url(#gb)"/><circle cx="953" cy="173.5" r="3.75" fill="url(#gb)"/><circle cx="918.1" cy="173.8" r="3.75" fill="url(#gb)"/><circle cx="935.9" cy="174.3" r="3.75" fill="url(#gb)"/><circle cx="896.3" cy="174.5" r="3.75" fill="url(#gb)"/><circle cx="962.5" cy="176.2" r="4.7" fill="url(#gr)"/><circle cx="942.6" cy="175.4" r="3.75" fill="url(#gb)"/><circle cx="914.2" cy="175.4" r="3.75" fill="url(#gb)"/><circle cx="908.2" cy="175.9" r="3.75" fill="url(#gb)"/><circle cx="955.4" cy="176" r="3.75" fill="url(#gb)"/><circle cx="926.6" cy="176.7" r="3.75" fill="url(#gb)"/><circle cx="933.3" cy="176.8" r="3.75" fill="url(#gb)"/><circle cx="904.4" cy="178.2" r="3.75" fill="url(#gb)"/><circle cx="945.7" cy="178.6" r="3.75" fill="url(#gb)"/><circle cx="923.7" cy="178.9" r="3.75" fill="url(#gb)"/><circle cx="951.6" cy="179" r="3.75" fill="url(#gb)"/><circle cx="917.1" cy="179.3" r="3.75" fill="url(#gb)"/><circle cx="934.8" cy="179.8" r="3.75" fill="url(#gb)"/><circle cx="941.5" cy="180.5" r="3.75" fill="url(#gb)"/><circle cx="913.5" cy="180.9" r="3.75" fill="url(#gb)"/><circle cx="925.5" cy="182.5" r="3.75" fill="url(#gb)"/><circle cx="932.1" cy="182.6" r="3.75" fill="url(#gb)"/><circle cx="909.3" cy="184.7" r="4.7" fill="url(#gr)"/><circle cx="943.8" cy="183.7" r="3.75" fill="url(#gb)"/><circle cx="950.8" cy="185.1" r="4.7" fill="url(#gr)"/><circle cx="922.3" cy="185.3" r="3.75" fill="url(#gb)"/><circle cx="933.8" cy="186.3" r="3.75" fill="url(#gb)"/><circle cx="940.7" cy="187.1" r="3.75" fill="url(#gb)"/><circle cx="931.1" cy="188.7" r="3.75" fill="url(#gb)"/><circle cx="938.9" cy="193.6" r="4.7" fill="url(#gr)"/><circle cx="782.5" cy="79.3" r="4.7" fill="url(#gr)"/><circle cx="796" cy="74" r="4.7" fill="url(#gr)"/><circle cx="819.6" cy="58.2" r="4.7" fill="url(#gr)"/><circle cx="822.5" cy="70.8" r="4.7" fill="url(#gr)"/><circle cx="845.1" cy="69.3" r="4.7" fill="url(#gr)"/><circle cx="809.2" cy="99.2" r="4.7" fill="url(#gr)"/><circle cx="874.7" cy="141" r="4.7" fill="url(#gr)"/><circle cx="879.1" cy="162.1" r="4.7" fill="url(#gr)"/><circle cx="909.9" cy="144.9" r="4.7" fill="url(#gr)"/><circle cx="919.4" cy="153.3" r="4.7" fill="url(#gr)"/><circle cx="906.2" cy="167.4" r="4.7" fill="url(#gr)"/><circle cx="979.2" cy="130.6" r="4.7" fill="url(#gr)"/><circle cx="979.8" cy="140.1" r="4.7" fill="url(#gr)"/><circle cx="942.3" cy="176.2" r="4.7" fill="url(#gr)"/></g>
<g fill="none" stroke="#231815" stroke-width="2.5">
<path d="M219.5,130.5 V196 C219.5,222 237.5,243 261,243 H365"/>
<path d="M219.5,360.5 V290 C219.5,264 237.5,243 261,243"/>
<path d="M515.5,176 V130 C515.5,100 533,83.5 562,83.5 H792"/>
<path d="M515.5,335.5 V390 C515.5,420 533,438.3 560,438.3 H699"/>
</g>
<g fill="#231815">
<circle cx="219.3" cy="130.5" r="5"/>
<circle cx="219.3" cy="360.3" r="5"/>
<circle cx="515.5" cy="175.8" r="5"/>
<circle cx="515.7" cy="335.4" r="5"/>
<path d="M374.6,243 L362.8,236.8 V249.2 Z"/>
<path d="M801.8,83.5 L790,77.3 V89.7 Z"/>
<path d="M707.8,438.3 L696,432.1 V444.5 Z"/>
</g>
<g><circle cx="405.4" cy="258.4" r="5.2" fill="#111"/><circle cx="401" cy="261.9" r="5.2" fill="#111"/><circle cx="404.5" cy="264.6" r="5.2" fill="#111"/><circle cx="405.4" cy="258.4" r="3.9" fill="url(#gb)"/><circle cx="401" cy="261.9" r="3.9" fill="url(#gb)"/><circle cx="404.5" cy="264.6" r="3.9" fill="url(#gb)"/></g>
<g><circle cx="433.8" cy="260.5" r="5.8" fill="#111"/><circle cx="424" cy="260.1" r="5.2" fill="#111"/><circle cx="429.3" cy="260.5" r="5.2" fill="#111"/><circle cx="433.8" cy="260.5" r="4.5" fill="url(#gr)"/><circle cx="424" cy="260.1" r="3.9" fill="url(#gb)"/><circle cx="429.3" cy="260.5" r="3.9" fill="url(#gb)"/></g>
<g><circle cx="447.1" cy="267.8" r="5.2" fill="#111"/><circle cx="447.1" cy="267.8" r="3.9" fill="url(#gb)"/></g>
<g><circle cx="442.6" cy="246.8" r="5.2" fill="#111"/><circle cx="442.6" cy="246.8" r="3.9" fill="url(#gb)"/></g>
<g><circle cx="459.5" cy="256.6" r="5.2" fill="#111"/><circle cx="463" cy="262.8" r="5.2" fill="#111"/><circle cx="470.1" cy="263.7" r="5.2" fill="#111"/><circle cx="477.2" cy="261" r="5.2" fill="#111"/><circle cx="480.8" cy="264.6" r="5.2" fill="#111"/><circle cx="473.7" cy="268.1" r="5.2" fill="#111"/><circle cx="466.6" cy="259.3" r="5.2" fill="#111"/><circle cx="473.7" cy="258.4" r="5.2" fill="#111"/><circle cx="459.5" cy="256.6" r="3.9" fill="url(#gb)"/><circle cx="463" cy="262.8" r="3.9" fill="url(#gb)"/><circle cx="470.1" cy="263.7" r="3.9" fill="url(#gb)"/><circle cx="477.2" cy="261" r="3.9" fill="url(#gb)"/><circle cx="480.8" cy="264.6" r="3.9" fill="url(#gb)"/><circle cx="473.7" cy="268.1" r="3.9" fill="url(#gb)"/><circle cx="466.6" cy="259.3" r="3.9" fill="url(#gb)"/><circle cx="473.7" cy="258.4" r="3.9" fill="url(#gb)"/></g>
<g><circle cx="446.2" cy="277.9" r="5.2" fill="#111"/><circle cx="446.2" cy="283.2" r="5.2" fill="#111"/><circle cx="455.9" cy="282.3" r="5.8" fill="#111"/><circle cx="464.8" cy="285" r="5.2" fill="#111"/><circle cx="471.9" cy="278.8" r="5.2" fill="#111"/><circle cx="477.2" cy="276.1" r="5.2" fill="#111"/><circle cx="483.4" cy="276.5" r="5.2" fill="#111"/><circle cx="491.4" cy="280.2" r="5.2" fill="#111"/><circle cx="502.9" cy="282.8" r="5.8" fill="#111"/><circle cx="512.7" cy="281.4" r="5.2" fill="#111"/><circle cx="471.9" cy="290.3" r="5.2" fill="#111"/><circle cx="460.4" cy="294.7" r="5.8" fill="#111"/><circle cx="510.6" cy="281.3" r="5.2" fill="#111"/><circle cx="455.9" cy="282.3" r="4.5" fill="url(#gr)"/><circle cx="502.9" cy="282.8" r="4.5" fill="url(#gr)"/><circle cx="460.4" cy="294.7" r="4.5" fill="url(#gr)"/><circle cx="446.2" cy="277.9" r="3.9" fill="url(#gb)"/><circle cx="446.2" cy="283.2" r="3.9" fill="url(#gb)"/><circle cx="464.8" cy="285" r="3.9" fill="url(#gb)"/><circle cx="471.9" cy="278.8" r="3.9" fill="url(#gb)"/><circle cx="477.2" cy="276.1" r="3.9" fill="url(#gb)"/><circle cx="483.4" cy="276.5" r="3.9" fill="url(#gb)"/><circle cx="491.4" cy="280.2" r="3.9" fill="url(#gb)"/><circle cx="512.7" cy="281.4" r="3.9" fill="url(#gb)"/><circle cx="471.9" cy="290.3" r="3.9" fill="url(#gb)"/><circle cx="510.6" cy="281.3" r="3.9" fill="url(#gb)"/></g>
<g><circle cx="426.7" cy="293" r="5.2" fill="#111"/><circle cx="432.9" cy="288.5" r="5.2" fill="#111"/><circle cx="436.4" cy="293" r="5.2" fill="#111"/><circle cx="434.7" cy="298.3" r="5.2" fill="#111"/><circle cx="441.7" cy="297.4" r="5.2" fill="#111"/><circle cx="446.2" cy="293.8" r="5.2" fill="#111"/><circle cx="438.2" cy="289.4" r="5.2" fill="#111"/><circle cx="426.7" cy="293" r="3.9" fill="url(#gb)"/><circle cx="432.9" cy="288.5" r="3.9" fill="url(#gb)"/><circle cx="436.4" cy="293" r="3.9" fill="url(#gb)"/><circle cx="434.7" cy="298.3" r="3.9" fill="url(#gb)"/><circle cx="441.7" cy="297.4" r="3.9" fill="url(#gb)"/><circle cx="446.2" cy="293.8" r="3.9" fill="url(#gb)"/><circle cx="438.2" cy="289.4" r="3.9" fill="url(#gb)"/></g>
<g><circle cx="490.5" cy="295.6" r="5.2" fill="#111"/><circle cx="487.9" cy="300.9" r="5.2" fill="#111"/><circle cx="491.4" cy="305.4" r="5.2" fill="#111"/><circle cx="486.1" cy="309.8" r="5.2" fill="#111"/><circle cx="491.4" cy="313.3" r="5.2" fill="#111"/><circle cx="496.7" cy="308.9" r="5.2" fill="#111"/><circle cx="503.8" cy="313" r="5.8" fill="#111"/><circle cx="503.8" cy="313" r="4.5" fill="url(#gr)"/><circle cx="490.5" cy="295.6" r="3.9" fill="url(#gb)"/><circle cx="487.9" cy="300.9" r="3.9" fill="url(#gb)"/><circle cx="491.4" cy="305.4" r="3.9" fill="url(#gb)"/><circle cx="486.1" cy="309.8" r="3.9" fill="url(#gb)"/><circle cx="491.4" cy="313.3" r="3.9" fill="url(#gb)"/><circle cx="496.7" cy="308.9" r="3.9" fill="url(#gb)"/></g>
<g><circle cx="463.4" cy="321.7" r="5.8" fill="#111"/><circle cx="463.4" cy="321.7" r="4.5" fill="url(#gr)"/></g>
<g><circle cx="533.1" cy="325.8" r="5.2" fill="#111"/><circle cx="538.4" cy="326.6" r="5.2" fill="#111"/><circle cx="543.7" cy="322.2" r="5.2" fill="#111"/><circle cx="533.1" cy="325.8" r="3.9" fill="url(#gb)"/><circle cx="538.4" cy="326.6" r="3.9" fill="url(#gb)"/><circle cx="543.7" cy="322.2" r="3.9" fill="url(#gb)"/></g>
<g><circle cx="527.5" cy="288.4" r="5.2" fill="#111"/><circle cx="523.1" cy="293.7" r="5.2" fill="#111"/><circle cx="517.7" cy="298.1" r="5.2" fill="#111"/><circle cx="515.1" cy="303.4" r="5.2" fill="#111"/><circle cx="513.3" cy="308.8" r="5.2" fill="#111"/><circle cx="519.5" cy="307.9" r="5.2" fill="#111"/><circle cx="524.8" cy="303.4" r="5.2" fill="#111"/><circle cx="532.8" cy="302.6" r="5.2" fill="#111"/><circle cx="542.6" cy="304.3" r="5.8" fill="#111"/><circle cx="526.2" cy="312.3" r="5.8" fill="#111"/><circle cx="542.6" cy="304.3" r="4.5" fill="url(#gr)"/><circle cx="526.2" cy="312.3" r="4.5" fill="url(#gr)"/><circle cx="527.5" cy="288.4" r="3.9" fill="url(#gb)"/><circle cx="523.1" cy="293.7" r="3.9" fill="url(#gb)"/><circle cx="517.7" cy="298.1" r="3.9" fill="url(#gb)"/><circle cx="515.1" cy="303.4" r="3.9" fill="url(#gb)"/><circle cx="513.3" cy="308.8" r="3.9" fill="url(#gb)"/><circle cx="519.5" cy="307.9" r="3.9" fill="url(#gb)"/><circle cx="524.8" cy="303.4" r="3.9" fill="url(#gb)"/><circle cx="532.8" cy="302.6" r="3.9" fill="url(#gb)"/></g>
<g><circle cx="545.2" cy="294.6" r="5.2" fill="#111"/><circle cx="553.2" cy="294.6" r="5.8" fill="#111"/><circle cx="556.7" cy="302.6" r="5.2" fill="#111"/><circle cx="563" cy="304.3" r="5.2" fill="#111"/><circle cx="552.3" cy="311.8" r="5.2" fill="#111"/><circle cx="553.2" cy="294.6" r="4.5" fill="url(#gr)"/><circle cx="545.2" cy="294.6" r="3.9" fill="url(#gb)"/><circle cx="556.7" cy="302.6" r="3.9" fill="url(#gb)"/><circle cx="563" cy="304.3" r="3.9" fill="url(#gb)"/><circle cx="552.3" cy="311.8" r="3.9" fill="url(#gb)"/></g>
<g><circle cx="589.6" cy="308.8" r="5.2" fill="#111"/><circle cx="582.5" cy="315" r="5.2" fill="#111"/><circle cx="588.7" cy="315.3" r="5.2" fill="#111"/><circle cx="589.6" cy="308.8" r="3.9" fill="url(#gb)"/><circle cx="582.5" cy="315" r="3.9" fill="url(#gb)"/><circle cx="588.7" cy="315.3" r="3.9" fill="url(#gb)"/></g>
<g><circle cx="530.1" cy="337.1" r="5.2" fill="#111"/><circle cx="528.4" cy="343.3" r="5.2" fill="#111"/><circle cx="535.5" cy="343.7" r="5.2" fill="#111"/><circle cx="530.1" cy="337.1" r="3.9" fill="url(#gb)"/><circle cx="528.4" cy="343.3" r="3.9" fill="url(#gb)"/><circle cx="535.5" cy="343.7" r="3.9" fill="url(#gb)"/></g>
<g><circle cx="555.9" cy="338.9" r="5.2" fill="#111"/><circle cx="560.3" cy="343.3" r="5.2" fill="#111"/><circle cx="562.1" cy="336.3" r="5.2" fill="#111"/><circle cx="568.3" cy="333.6" r="5.2" fill="#111"/><circle cx="567.4" cy="341.6" r="5.2" fill="#111"/><circle cx="558.5" cy="335.4" r="5.2" fill="#111"/><circle cx="555.9" cy="338.9" r="3.9" fill="url(#gb)"/><circle cx="560.3" cy="343.3" r="3.9" fill="url(#gb)"/><circle cx="562.1" cy="336.3" r="3.9" fill="url(#gb)"/><circle cx="568.3" cy="333.6" r="3.9" fill="url(#gb)"/><circle cx="567.4" cy="341.6" r="3.9" fill="url(#gb)"/><circle cx="558.5" cy="335.4" r="3.9" fill="url(#gb)"/></g>
<g><circle cx="578" cy="338" r="5.2" fill="#111"/><circle cx="586" cy="336.3" r="5.2" fill="#111"/><circle cx="592.2" cy="342.5" r="5.2" fill="#111"/><circle cx="596.6" cy="330" r="5.2" fill="#111"/><circle cx="600.2" cy="327.4" r="5.2" fill="#111"/><circle cx="601.6" cy="341.2" r="5.8" fill="#111"/><circle cx="601.6" cy="341.2" r="4.5" fill="url(#gr)"/><circle cx="578" cy="338" r="3.9" fill="url(#gb)"/><circle cx="586" cy="336.3" r="3.9" fill="url(#gb)"/><circle cx="592.2" cy="342.5" r="3.9" fill="url(#gb)"/><circle cx="596.6" cy="330" r="3.9" fill="url(#gb)"/><circle cx="600.2" cy="327.4" r="3.9" fill="url(#gb)"/></g>
<defs><filter id="bl" x="-50%" y="-300%" width="200%" height="700%"><feGaussianBlur stdDeviation="3"/></filter><clipPath id="cA"><path d="M104.2,72.6 C104.5,70.8 105.3,67.7 106.7,65.9 C108.1,64.2 110.4,62.9 112.6,62.1 C114.8,61.4 116.9,61.5 120.1,61.4 C123.3,61.3 128.5,62.1 131.8,61.7 C135.2,61.3 137.8,60.3 140.2,59.2 C142.6,58.1 144.3,56.5 146,55.1 C147.7,53.7 148.8,52 150.2,50.9 C151.6,49.8 152.9,48.9 154.4,48.4 C155.9,47.9 157.6,47.5 159.4,47.7 C161.2,47.9 163.4,48.6 165.2,49.7 C166.9,50.8 168.9,52.6 169.9,54.2 C170.9,55.8 171.2,57.4 171.2,59.2 C171.2,61 170.9,63.1 169.9,65.1 C168.9,67 167.4,69 165.2,70.9 C163,72.9 160,75.1 156.9,76.8 C153.8,78.5 150.4,79.8 146.8,81 C143.2,82.2 139,83.5 135.1,84.3 C131.2,85.1 126.7,85.6 123.4,85.7 C120.1,85.8 117.6,85.6 115.1,84.8 C112.6,84 110.1,82.3 108.4,81 C106.7,79.7 105.4,78.2 104.7,76.8 C104,75.4 103.9,74.4 104.2,72.6Z"/></clipPath><g id="fA"><path d="M104.2,72.6 C104.5,70.8 105.3,67.7 106.7,65.9 C108.1,64.2 110.4,62.9 112.6,62.1 C114.8,61.4 116.9,61.5 120.1,61.4 C123.3,61.3 128.5,62.1 131.8,61.7 C135.2,61.3 137.8,60.3 140.2,59.2 C142.6,58.1 144.3,56.5 146,55.1 C147.7,53.7 148.8,52 150.2,50.9 C151.6,49.8 152.9,48.9 154.4,48.4 C155.9,47.9 157.6,47.5 159.4,47.7 C161.2,47.9 163.4,48.6 165.2,49.7 C166.9,50.8 168.9,52.6 169.9,54.2 C170.9,55.8 171.2,57.4 171.2,59.2 C171.2,61 170.9,63.1 169.9,65.1 C168.9,67 167.4,69 165.2,70.9 C163,72.9 160,75.1 156.9,76.8 C153.8,78.5 150.4,79.8 146.8,81 C143.2,82.2 139,83.5 135.1,84.3 C131.2,85.1 126.7,85.6 123.4,85.7 C120.1,85.8 117.6,85.6 115.1,84.8 C112.6,84 110.1,82.3 108.4,81 C106.7,79.7 105.4,78.2 104.7,76.8 C104,75.4 103.9,74.4 104.2,72.6Z" fill="#f1ef8e"/><g clip-path="url(#cA)"><path d="M117.6,71.7 L121.3,71.9 L124.9,71.8 L128.5,71.6 L132,71 L135.4,70.3 L138.8,69.3 L142.1,68.1 L145.4,66.7 L148.6,65 L151.8,63.1 L154.9,61 L157.9,58.6" fill="none" stroke="#acd473" stroke-width="14" stroke-linecap="round" stroke-linejoin="round" filter="url(#bl)"/></g></g><path id="oA" d="M104.2,72.6 C104.5,70.8 105.3,67.7 106.7,65.9 C108.1,64.2 110.4,62.9 112.6,62.1 C114.8,61.4 116.9,61.5 120.1,61.4 C123.3,61.3 128.5,62.1 131.8,61.7 C135.2,61.3 137.8,60.3 140.2,59.2 C142.6,58.1 144.3,56.5 146,55.1 C147.7,53.7 148.8,52 150.2,50.9 C151.6,49.8 152.9,48.9 154.4,48.4 C155.9,47.9 157.6,47.5 159.4,47.7 C161.2,47.9 163.4,48.6 165.2,49.7 C166.9,50.8 168.9,52.6 169.9,54.2 C170.9,55.8 171.2,57.4 171.2,59.2 C171.2,61 170.9,63.1 169.9,65.1 C168.9,67 167.4,69 165.2,70.9 C163,72.9 160,75.1 156.9,76.8 C153.8,78.5 150.4,79.8 146.8,81 C143.2,82.2 139,83.5 135.1,84.3 C131.2,85.1 126.7,85.6 123.4,85.7 C120.1,85.8 117.6,85.6 115.1,84.8 C112.6,84 110.1,82.3 108.4,81 C106.7,79.7 105.4,78.2 104.7,76.8 C104,75.4 103.9,74.4 104.2,72.6Z" fill="none" stroke="#111" stroke-linejoin="round"/><clipPath id="cB"><path d="M171.4,111.9 C171.6,110.4 171.8,107.8 172.7,106 C173.6,104.2 175.1,102.5 176.9,101 C178.7,99.5 180.8,98.3 183.6,96.9 C186.4,95.5 190.2,93.8 193.6,92.7 C196.9,91.6 200.3,91 203.7,90.5 C207,90 210.4,89.5 213.7,89.5 C217,89.5 220.6,89.8 223.7,90.2 C226.8,90.6 229.6,90.9 232.1,91.8 C234.6,92.7 237.1,94.1 238.8,95.5 C240.5,96.9 241.5,98.7 242.1,100.2 C242.7,101.7 242.8,102.9 242.5,104.4 C242.2,105.9 241.7,107.9 240.5,109.4 C239.3,110.9 236.9,112.7 235.4,113.6 C233.9,114.5 233.2,114.9 231.3,114.9 C229.4,114.9 226.3,114 223.7,113.6 C221,113.1 218.2,112.3 215.4,112.2 C212.6,112.1 209.8,112.5 207,113.2 C204.2,113.9 201.2,115.3 198.7,116.6 C196.2,117.9 194.2,120 192,121.1 C189.8,122.2 187.5,123.1 185.3,123.3 C183.1,123.5 180.6,123.1 178.6,122.3 C176.6,121.5 174.8,119.8 173.6,118.6 C172.4,117.4 172,116.3 171.6,115.2 C171.2,114.1 171.2,113.4 171.4,111.9Z"/></clipPath><g id="fB"><path d="M171.4,111.9 C171.6,110.4 171.8,107.8 172.7,106 C173.6,104.2 175.1,102.5 176.9,101 C178.7,99.5 180.8,98.3 183.6,96.9 C186.4,95.5 190.2,93.8 193.6,92.7 C196.9,91.6 200.3,91 203.7,90.5 C207,90 210.4,89.5 213.7,89.5 C217,89.5 220.6,89.8 223.7,90.2 C226.8,90.6 229.6,90.9 232.1,91.8 C234.6,92.7 237.1,94.1 238.8,95.5 C240.5,96.9 241.5,98.7 242.1,100.2 C242.7,101.7 242.8,102.9 242.5,104.4 C242.2,105.9 241.7,107.9 240.5,109.4 C239.3,110.9 236.9,112.7 235.4,113.6 C233.9,114.5 233.2,114.9 231.3,114.9 C229.4,114.9 226.3,114 223.7,113.6 C221,113.1 218.2,112.3 215.4,112.2 C212.6,112.1 209.8,112.5 207,113.2 C204.2,113.9 201.2,115.3 198.7,116.6 C196.2,117.9 194.2,120 192,121.1 C189.8,122.2 187.5,123.1 185.3,123.3 C183.1,123.5 180.6,123.1 178.6,122.3 C176.6,121.5 174.8,119.8 173.6,118.6 C172.4,117.4 172,116.3 171.6,115.2 C171.2,114.1 171.2,113.4 171.4,111.9Z" fill="#f1ef8e"/><g clip-path="url(#cB)"><path d="M186.1,108.5 L190.5,106.2 L194.7,104.2 L198.8,102.5 L202.8,101.1 L206.7,100 L210.4,99.2 L214,98.7 L217.4,98.5 L220.8,98.6 L223.9,99 L227,99.7 L229.9,100.7" fill="none" stroke="#acd473" stroke-width="14" stroke-linecap="round" stroke-linejoin="round" filter="url(#bl)"/></g></g><path id="oB" d="M171.4,111.9 C171.6,110.4 171.8,107.8 172.7,106 C173.6,104.2 175.1,102.5 176.9,101 C178.7,99.5 180.8,98.3 183.6,96.9 C186.4,95.5 190.2,93.8 193.6,92.7 C196.9,91.6 200.3,91 203.7,90.5 C207,90 210.4,89.5 213.7,89.5 C217,89.5 220.6,89.8 223.7,90.2 C226.8,90.6 229.6,90.9 232.1,91.8 C234.6,92.7 237.1,94.1 238.8,95.5 C240.5,96.9 241.5,98.7 242.1,100.2 C242.7,101.7 242.8,102.9 242.5,104.4 C242.2,105.9 241.7,107.9 240.5,109.4 C239.3,110.9 236.9,112.7 235.4,113.6 C233.9,114.5 233.2,114.9 231.3,114.9 C229.4,114.9 226.3,114 223.7,113.6 C221,113.1 218.2,112.3 215.4,112.2 C212.6,112.1 209.8,112.5 207,113.2 C204.2,113.9 201.2,115.3 198.7,116.6 C196.2,117.9 194.2,120 192,121.1 C189.8,122.2 187.5,123.1 185.3,123.3 C183.1,123.5 180.6,123.1 178.6,122.3 C176.6,121.5 174.8,119.8 173.6,118.6 C172.4,117.4 172,116.3 171.6,115.2 C171.2,114.1 171.2,113.4 171.4,111.9Z" fill="none" stroke="#111" stroke-linejoin="round"/></defs>
<use href="#fA" x="0" y="0"/><use href="#oA" x="0" y="0" stroke-width="1.8"/>
<use href="#fB" x="0" y="0"/><use href="#oB" x="0" y="0" stroke-width="1.8"/>
<use href="#fA" x="355.7" y="134.2"/><use href="#oA" x="355.7" y="134.2" stroke-width="1.8"/>
<use href="#fB" x="355.7" y="134.2"/><use href="#oB" x="355.7" y="134.2" stroke-width="1.8"/>
<use href="#fA" x="707.4" y="10.8"/><use href="#oA" x="707.4" y="10.8" stroke-width="1.8"/>
<use href="#fA" x="717.1" y="40.8"/><use href="#oA" x="717.1" y="40.8" stroke-width="1.8"/>
<use href="#fB" x="707.4" y="11.2"/><use href="#oB" x="707.4" y="11.2" stroke-width="1.8"/>
<use href="#fB" x="717.3" y="40.2"/><use href="#oB" x="717.3" y="40.2" stroke-width="1.8"/>
<use href="#fB" x="92.7" y="446.6"/><use href="#oB" x="92.7" y="446.6" stroke-width="1.1"/>
<g><line x1="803.2" y1="356" x2="820.7" y2="359.9" stroke="#3a66a8" stroke-width="1.7"/><line x1="820.7" y1="359.9" x2="826.1" y2="373.7" stroke="#3a66a8" stroke-width="1.7"/><line x1="826.1" y1="373.7" x2="813.6" y2="382.9" stroke="#3a66a8" stroke-width="1.7"/><line x1="813.6" y1="382.9" x2="796.3" y2="378.7" stroke="#3a66a8" stroke-width="1.7"/><line x1="796.3" y1="378.7" x2="791.1" y2="365.4" stroke="#3a66a8" stroke-width="1.7"/><line x1="791.1" y1="365.4" x2="803.2" y2="356" stroke="#3a66a8" stroke-width="1.7"/><line x1="791.1" y1="365.4" x2="782.5" y2="363.6" stroke="#3a66a8" stroke-width="1.7"/><line x1="782.5" y1="363.6" x2="773.8" y2="361.9" stroke="#c9171c" stroke-width="1.7"/><line x1="773.8" y1="361.9" x2="767.6" y2="366.3" stroke="#c9171c" stroke-width="1.7"/><line x1="767.6" y1="366.3" x2="761.5" y2="370.7" stroke="#3a66a8" stroke-width="1.7"/><line x1="762.6" y1="376.2" x2="765.4" y2="382.9" stroke="#c9171c" stroke-width="1.7"/><line x1="765.4" y1="382.9" x2="768.2" y2="389.6" stroke="#3a66a8" stroke-width="1.7"/><line x1="768.2" y1="389.6" x2="776.9" y2="390.6" stroke="#3a66a8" stroke-width="1.7"/><line x1="776.9" y1="390.6" x2="785.6" y2="391.5" stroke="#c9171c" stroke-width="1.7"/><line x1="785.6" y1="391.5" x2="791" y2="385.1" stroke="#c9171c" stroke-width="1.7"/><line x1="791" y1="385.1" x2="796.3" y2="378.7" stroke="#3a66a8" stroke-width="1.7"/><line x1="768.2" y1="389.6" x2="757.9" y2="402.3" stroke="#3a66a8" stroke-width="1.7"/><line x1="813.6" y1="382.9" x2="816.4" y2="389" stroke="#3a66a8" stroke-width="1.7"/><line x1="816.4" y1="389" x2="819.2" y2="395.2" stroke="#c9171c" stroke-width="1.7"/><line x1="819.2" y1="395.2" x2="820.5" y2="403.2" stroke="#c9171c" stroke-width="1.7"/><line x1="820.5" y1="403.2" x2="821.7" y2="411.2" stroke="#3a66a8" stroke-width="1.7"/><line x1="757.9" y1="402.3" x2="739.4" y2="399.8" stroke="#3a66a8" stroke-width="1.7"/><line x1="739.4" y1="399.8" x2="729" y2="413.4" stroke="#3a66a8" stroke-width="1.7"/><line x1="729" y1="413.4" x2="735.7" y2="429" stroke="#3a66a8" stroke-width="1.7"/><line x1="735.7" y1="429" x2="753.7" y2="432" stroke="#3a66a8" stroke-width="1.7"/><line x1="753.7" y1="432" x2="764.5" y2="418.2" stroke="#3a66a8" stroke-width="1.7"/><line x1="764.5" y1="418.2" x2="757.9" y2="402.3" stroke="#3a66a8" stroke-width="1.7"/><line x1="764.5" y1="418.2" x2="782.2" y2="420.5" stroke="#3a66a8" stroke-width="1.7"/><line x1="782.2" y1="420.5" x2="786.9" y2="414.4" stroke="#3a66a8" stroke-width="1.7"/><line x1="786.9" y1="414.4" x2="791.5" y2="408.3" stroke="#c9171c" stroke-width="1.7"/><line x1="782.2" y1="420.5" x2="785.5" y2="428" stroke="#3a66a8" stroke-width="1.7"/><line x1="785.5" y1="428" x2="788.9" y2="435.5" stroke="#c9171c" stroke-width="1.7"/><line x1="788.9" y1="435.5" x2="797.1" y2="436.5" stroke="#c9171c" stroke-width="1.7"/><line x1="797.1" y1="436.5" x2="805.4" y2="437.5" stroke="#3a66a8" stroke-width="1.7"/><line x1="805.4" y1="437.5" x2="817" y2="423.7" stroke="#3a66a8" stroke-width="1.7"/><line x1="817" y1="423.7" x2="834.7" y2="425.2" stroke="#3a66a8" stroke-width="1.7"/><line x1="834.7" y1="425.2" x2="842.4" y2="441.5" stroke="#3a66a8" stroke-width="1.7"/><line x1="842.4" y1="441.5" x2="831.3" y2="455.5" stroke="#3a66a8" stroke-width="1.7"/><line x1="831.3" y1="455.5" x2="812.8" y2="453" stroke="#3a66a8" stroke-width="1.7"/><line x1="812.8" y1="453" x2="805.4" y2="437.5" stroke="#3a66a8" stroke-width="1.7"/><path d="M804,358.1 L818.7,361.4 L823.3,373 L812.8,380.7 L798.3,377.2 L793.9,366Z" fill="none" stroke="#3f6db3" stroke-width="1.1" stroke-dasharray="2 1.5"/><path d="M756.1,404.5 L740.6,402.4 L731.8,413.8 L737.5,426.9 L752.6,429.4 L761.7,417.8Z" fill="none" stroke="#3f6db3" stroke-width="1.1" stroke-dasharray="2 1.5"/><path d="M808.4,437.8 L818.1,426.2 L833,427.5 L839.4,441.2 L830.1,452.9 L814.6,450.8Z" fill="none" stroke="#3f6db3" stroke-width="1.1" stroke-dasharray="2 1.5"/><circle cx="803.2" cy="356" r="4.4" fill="url(#gm)"/><circle cx="820.7" cy="359.9" r="4.4" fill="url(#gm)"/><circle cx="773.8" cy="361.9" r="4.0" fill="url(#gr2)"/><circle cx="791.1" cy="365.4" r="4.4" fill="url(#gm)"/><circle cx="761.5" cy="370.7" r="4.4" fill="url(#gm)"/><circle cx="826.1" cy="373.7" r="4.4" fill="url(#gm)"/><circle cx="762.6" cy="376.2" r="4.0" fill="url(#gr2)"/><circle cx="796.3" cy="378.7" r="4.4" fill="url(#gm)"/><circle cx="813.6" cy="382.9" r="4.4" fill="url(#gm)"/><circle cx="768.2" cy="389.6" r="4.4" fill="url(#gm)"/><circle cx="785.6" cy="391.5" r="4.0" fill="url(#gr2)"/><circle cx="819.2" cy="395.2" r="4.0" fill="url(#gr2)"/><circle cx="739.4" cy="399.8" r="4.4" fill="url(#gm)"/><circle cx="757.9" cy="402.3" r="4.4" fill="url(#gm)"/><circle cx="791.5" cy="408.3" r="4.0" fill="url(#gr2)"/><circle cx="821.7" cy="411.2" r="4.4" fill="url(#gm)"/><circle cx="729" cy="413.4" r="4.4" fill="url(#gm)"/><circle cx="764.5" cy="418.2" r="4.4" fill="url(#gm)"/><circle cx="782.2" cy="420.5" r="4.4" fill="url(#gm)"/><circle cx="817" cy="423.7" r="4.4" fill="url(#gm)"/><circle cx="834.7" cy="425.2" r="4.4" fill="url(#gm)"/><circle cx="735.7" cy="429" r="4.4" fill="url(#gm)"/><circle cx="753.7" cy="432" r="4.4" fill="url(#gm)"/><circle cx="788.9" cy="435.5" r="4.0" fill="url(#gr2)"/><circle cx="805.4" cy="437.5" r="4.4" fill="url(#gm)"/><circle cx="842.4" cy="441.5" r="4.4" fill="url(#gm)"/><circle cx="812.8" cy="453" r="4.4" fill="url(#gm)"/><circle cx="831.3" cy="455.5" r="4.4" fill="url(#gm)"/></g>
<g><line x1="928.1" y1="380.6" x2="946.9" y2="383" stroke="#3a66a8" stroke-width="1.7"/><line x1="946.9" y1="383" x2="954.3" y2="399.1" stroke="#3a66a8" stroke-width="1.7"/><line x1="954.3" y1="399.1" x2="943" y2="413.2" stroke="#3a66a8" stroke-width="1.7"/><line x1="943" y1="413.2" x2="924.2" y2="411" stroke="#3a66a8" stroke-width="1.7"/><line x1="924.2" y1="411" x2="917" y2="394.4" stroke="#3a66a8" stroke-width="1.7"/><line x1="917" y1="394.4" x2="928.1" y2="380.6" stroke="#3a66a8" stroke-width="1.7"/><line x1="946.9" y1="383" x2="952.5" y2="376.1" stroke="#3a66a8" stroke-width="1.7"/><line x1="952.5" y1="376.1" x2="958.2" y2="369.1" stroke="#c9171c" stroke-width="1.7"/><line x1="954.3" y1="399.1" x2="974.4" y2="401.7" stroke="#3a66a8" stroke-width="1.7"/><line x1="974.4" y1="401.7" x2="982" y2="389" stroke="#3a66a8" stroke-width="1.7"/><line x1="974.4" y1="401.7" x2="982.7" y2="397.7" stroke="#3a66a8" stroke-width="1.7"/><line x1="974.4" y1="401.7" x2="978.4" y2="420.3" stroke="#3a66a8" stroke-width="1.7"/><line x1="924.2" y1="411" x2="911.9" y2="425.5" stroke="#3a66a8" stroke-width="1.7"/><line x1="911.9" y1="425.5" x2="892.1" y2="419.8" stroke="#3a66a8" stroke-width="1.7"/><line x1="911.9" y1="425.5" x2="916" y2="432.1" stroke="#3a66a8" stroke-width="1.7"/><line x1="911.9" y1="425.5" x2="915.5" y2="440.8" stroke="#3a66a8" stroke-width="1.7"/><path d="M929.3,383.2 L945.1,385.2 L951.3,398.7 L941.8,410.6 L926,408.7 L920,394.8Z" fill="none" stroke="#3f6db3" stroke-width="1.1" stroke-dasharray="2 1.5"/><circle cx="958.2" cy="369.1" r="4.0" fill="url(#gr2)"/><circle cx="928.1" cy="380.6" r="4.5" fill="url(#gm)"/><circle cx="946.9" cy="383" r="4.5" fill="url(#gm)"/><circle cx="982" cy="389" r="4.5" fill="url(#gm)"/><circle cx="917" cy="394.4" r="4.5" fill="url(#gm)"/><circle cx="982.7" cy="397.7" r="4.5" fill="url(#gm)"/><circle cx="954.3" cy="399.1" r="4.5" fill="url(#gm)"/><circle cx="974.4" cy="401.7" r="4.5" fill="url(#gm)"/><circle cx="924.2" cy="411" r="4.5" fill="url(#gm)"/><circle cx="943" cy="413.2" r="4.5" fill="url(#gm)"/><circle cx="892.1" cy="419.8" r="4.5" fill="url(#gm)"/><circle cx="978.4" cy="420.3" r="4.5" fill="url(#gm)"/><circle cx="911.9" cy="425.5" r="4.5" fill="url(#gm)"/><circle cx="916" cy="432.1" r="4.5" fill="url(#gm)"/><circle cx="915.5" cy="440.8" r="4.5" fill="url(#gm)"/></g>
<g><line x1="724.2" y1="479" x2="741.5" y2="479.3" stroke="#3a66a8" stroke-width="1.7"/><line x1="741.5" y1="479.3" x2="749.4" y2="493.8" stroke="#3a66a8" stroke-width="1.7"/><line x1="749.4" y1="493.8" x2="740.4" y2="510.1" stroke="#3a66a8" stroke-width="1.7"/><line x1="740.4" y1="510.1" x2="723.7" y2="508.6" stroke="#3a66a8" stroke-width="1.7"/><line x1="723.7" y1="508.6" x2="715.3" y2="493.4" stroke="#3a66a8" stroke-width="1.7"/><line x1="715.3" y1="493.4" x2="724.2" y2="479" stroke="#3a66a8" stroke-width="1.7"/><line x1="751.1" y1="499" x2="768.2" y2="500.2" stroke="#3a66a8" stroke-width="1.7"/><line x1="751.1" y1="499" x2="740.4" y2="510.1" stroke="#3a66a8" stroke-width="1.7"/><line x1="768.2" y1="500.2" x2="775.1" y2="515.5" stroke="#3a66a8" stroke-width="1.7"/><line x1="775.1" y1="515.5" x2="764.4" y2="528.8" stroke="#3a66a8" stroke-width="1.7"/><line x1="764.4" y1="528.8" x2="746.6" y2="526.8" stroke="#3a66a8" stroke-width="1.7"/><line x1="746.6" y1="526.8" x2="740.4" y2="510.1" stroke="#3a66a8" stroke-width="1.7"/><line x1="723.7" y1="508.6" x2="713.1" y2="520.9" stroke="#3a66a8" stroke-width="1.7"/><line x1="713.1" y1="520.9" x2="719.8" y2="536.7" stroke="#3a66a8" stroke-width="1.7"/><line x1="719.8" y1="536.7" x2="736.1" y2="538.9" stroke="#3a66a8" stroke-width="1.7"/><line x1="736.1" y1="538.9" x2="746.6" y2="526.8" stroke="#3a66a8" stroke-width="1.7"/><line x1="713.1" y1="520.9" x2="705.5" y2="519.9" stroke="#3a66a8" stroke-width="1.7"/><line x1="705.5" y1="519.9" x2="698" y2="518.9" stroke="#c9171c" stroke-width="1.7"/><line x1="719.8" y1="536.7" x2="708.2" y2="550.9" stroke="#3a66a8" stroke-width="1.7"/><line x1="736.1" y1="538.9" x2="743.3" y2="556" stroke="#3a66a8" stroke-width="1.7"/><line x1="743.3" y1="556" x2="729" y2="567.8" stroke="#3a66a8" stroke-width="1.7"/><path d="M725.5,481.4 L740,481.7 L746.7,493.8 L739.1,507.5 L725.1,506.3 L718,493.5Z" fill="none" stroke="#3f6db3" stroke-width="1.1" stroke-dasharray="2 1.5"/><path d="M752.1,501.3 L766.5,502.3 L772.3,515.2 L763.3,526.3 L748.4,524.7 L743.2,510.6Z" fill="none" stroke="#3f6db3" stroke-width="1.1" stroke-dasharray="2 1.5"/><circle cx="724.2" cy="479" r="4.5" fill="url(#gm)"/><circle cx="741.5" cy="479.3" r="4.5" fill="url(#gm)"/><circle cx="715.3" cy="493.4" r="4.5" fill="url(#gm)"/><circle cx="749.4" cy="493.8" r="4.5" fill="url(#gm)"/><circle cx="751.1" cy="499" r="4.5" fill="url(#gm)"/><circle cx="768.2" cy="500.2" r="4.5" fill="url(#gm)"/><circle cx="723.7" cy="508.6" r="4.5" fill="url(#gm)"/><circle cx="740.4" cy="510.1" r="4.5" fill="url(#gm)"/><circle cx="775.1" cy="515.5" r="4.5" fill="url(#gm)"/><circle cx="698" cy="518.9" r="4.0" fill="url(#gr2)"/><circle cx="713.1" cy="520.9" r="4.5" fill="url(#gm)"/><circle cx="746.6" cy="526.8" r="4.5" fill="url(#gm)"/><circle cx="764.4" cy="528.8" r="4.5" fill="url(#gm)"/><circle cx="719.8" cy="536.7" r="4.5" fill="url(#gm)"/><circle cx="736.1" cy="538.9" r="4.5" fill="url(#gm)"/><circle cx="708.2" cy="550.9" r="4.5" fill="url(#gm)"/><circle cx="743.3" cy="556" r="4.5" fill="url(#gm)"/><circle cx="729" cy="567.8" r="4.5" fill="url(#gm)"/></g>
<g><line x1="851.9" y1="489.8" x2="874.8" y2="495.4" stroke="#3a66a8" stroke-width="1.7"/><line x1="874.8" y1="495.4" x2="876" y2="516.1" stroke="#3a66a8" stroke-width="1.7"/><line x1="876" y1="516.1" x2="854.8" y2="523" stroke="#3a66a8" stroke-width="1.7"/><line x1="854.8" y1="523" x2="840.1" y2="507.5" stroke="#3a66a8" stroke-width="1.7"/><line x1="840.1" y1="507.5" x2="851.9" y2="489.8" stroke="#3a66a8" stroke-width="1.7"/><line x1="840.1" y1="507.5" x2="819.8" y2="512.4" stroke="#3a66a8" stroke-width="1.7"/><line x1="819.8" y1="512.4" x2="814.2" y2="532.3" stroke="#3a66a8" stroke-width="1.7"/><line x1="814.2" y1="532.3" x2="827.8" y2="547.7" stroke="#3a66a8" stroke-width="1.7"/><line x1="827.8" y1="547.7" x2="849.4" y2="544.5" stroke="#3a66a8" stroke-width="1.7"/><line x1="849.4" y1="544.5" x2="854.8" y2="523" stroke="#3a66a8" stroke-width="1.7"/><line x1="876" y1="516.1" x2="891.3" y2="529.4" stroke="#3a66a8" stroke-width="1.7"/><line x1="891.3" y1="529.4" x2="886.9" y2="548.9" stroke="#3a66a8" stroke-width="1.7"/><line x1="886.9" y1="548.9" x2="867" y2="556" stroke="#3a66a8" stroke-width="1.7"/><line x1="867" y1="556" x2="849.4" y2="544.5" stroke="#3a66a8" stroke-width="1.7"/><path d="M839.2,510.8 L822.1,514.9 L817.4,531.6 L828.8,544.5 L847,541.8 L851.5,523.8Z" fill="none" stroke="#3f6db3" stroke-width="1.1" stroke-dasharray="2 1.5"/><path d="M857.4,525.1 L875.2,519.3 L888,530.5 L884.3,546.9 L867.6,552.9 L852.8,543.2Z" fill="none" stroke="#3f6db3" stroke-width="1.1" stroke-dasharray="2 1.5"/><circle cx="851.9" cy="489.8" r="4.9" fill="url(#gm)"/><circle cx="874.8" cy="495.4" r="4.9" fill="url(#gm)"/><circle cx="840.1" cy="507.5" r="4.9" fill="url(#gm)"/><circle cx="819.8" cy="512.4" r="4.9" fill="url(#gm)"/><circle cx="876" cy="516.1" r="4.9" fill="url(#gm)"/><circle cx="854.8" cy="523" r="4.9" fill="url(#gm)"/><circle cx="891.3" cy="529.4" r="4.9" fill="url(#gm)"/><circle cx="814.2" cy="532.3" r="4.9" fill="url(#gm)"/><circle cx="849.4" cy="544.5" r="4.9" fill="url(#gm)"/><circle cx="827.8" cy="547.7" r="4.9" fill="url(#gm)"/><circle cx="886.9" cy="548.9" r="4.9" fill="url(#gm)"/><circle cx="867" cy="556" r="4.9" fill="url(#gm)"/></g>
<g><line x1="942.5" y1="506.3" x2="964.9" y2="509.1" stroke="#3a66a8" stroke-width="1.7"/><line x1="964.9" y1="509.1" x2="973.5" y2="527.9" stroke="#3a66a8" stroke-width="1.7"/><line x1="973.5" y1="527.9" x2="960.2" y2="545.1" stroke="#3a66a8" stroke-width="1.7"/><line x1="960.2" y1="545.1" x2="937.5" y2="542.3" stroke="#3a66a8" stroke-width="1.7"/><line x1="937.5" y1="542.3" x2="928.9" y2="522.4" stroke="#3a66a8" stroke-width="1.7"/><line x1="928.9" y1="522.4" x2="942.5" y2="506.3" stroke="#3a66a8" stroke-width="1.7"/><line x1="964.9" y1="509.1" x2="977.7" y2="492.7" stroke="#3a66a8" stroke-width="1.7"/><line x1="977.7" y1="492.7" x2="975" y2="486" stroke="#3a66a8" stroke-width="1.7"/><line x1="975" y1="486" x2="972.3" y2="479.4" stroke="#c9171c" stroke-width="1.7"/><line x1="977.7" y1="492.7" x2="987.8" y2="492.3" stroke="#3a66a8" stroke-width="1.7"/><line x1="987.8" y1="492.3" x2="997.8" y2="491.9" stroke="#c9171c" stroke-width="1.7"/><line x1="973.5" y1="527.9" x2="995.1" y2="530.7" stroke="#3a66a8" stroke-width="1.7"/><line x1="995.1" y1="530.7" x2="1001.8" y2="522.9" stroke="#3a66a8" stroke-width="1.7"/><line x1="1001.8" y1="522.9" x2="1008.4" y2="515" stroke="#c9171c" stroke-width="1.7"/><line x1="995.1" y1="530.7" x2="999.2" y2="538.9" stroke="#3a66a8" stroke-width="1.7"/><line x1="999.2" y1="538.9" x2="1003.2" y2="547.1" stroke="#c9171c" stroke-width="1.7"/><path d="M943.9,509.4 L962.7,511.7 L969.9,527.5 L958.8,542 L939.7,539.6 L932.5,522.9Z" fill="none" stroke="#3f6db3" stroke-width="1.1" stroke-dasharray="2 1.5"/><circle cx="972.3" cy="479.4" r="4.4" fill="url(#gr2)"/><circle cx="997.8" cy="491.9" r="4.4" fill="url(#gr2)"/><circle cx="977.7" cy="492.7" r="5.0" fill="url(#gm)"/><circle cx="942.5" cy="506.3" r="5.0" fill="url(#gm)"/><circle cx="964.9" cy="509.1" r="5.0" fill="url(#gm)"/><circle cx="1008.4" cy="515" r="4.4" fill="url(#gr2)"/><circle cx="928.9" cy="522.4" r="5.0" fill="url(#gm)"/><circle cx="973.5" cy="527.9" r="5.0" fill="url(#gm)"/><circle cx="995.1" cy="530.7" r="5.0" fill="url(#gm)"/><circle cx="937.5" cy="542.3" r="5.0" fill="url(#gm)"/><circle cx="960.2" cy="545.1" r="5.0" fill="url(#gm)"/><circle cx="1003.2" cy="547.1" r="4.4" fill="url(#gr2)"/></g>
<circle cx="33.2" cy="551.5" r="11.6" fill="#e41f1f"/>
<circle cx="155.2" cy="551.5" r="15.1" fill="#4a86d0"/>
<text x="53.2" y="559.3" font-size="21.5" fill="#111" textLength="18.6" lengthAdjust="spacingAndGlyphs">O</text>
<text x="178.8" y="559.3" font-size="21.5" fill="#111">C</text>
<text x="347.2" y="559.3" font-size="21.5" fill="#111" textLength="81.5" lengthAdjust="spacingAndGlyphs">Bacteria</text>
</svg>
</body></html>
